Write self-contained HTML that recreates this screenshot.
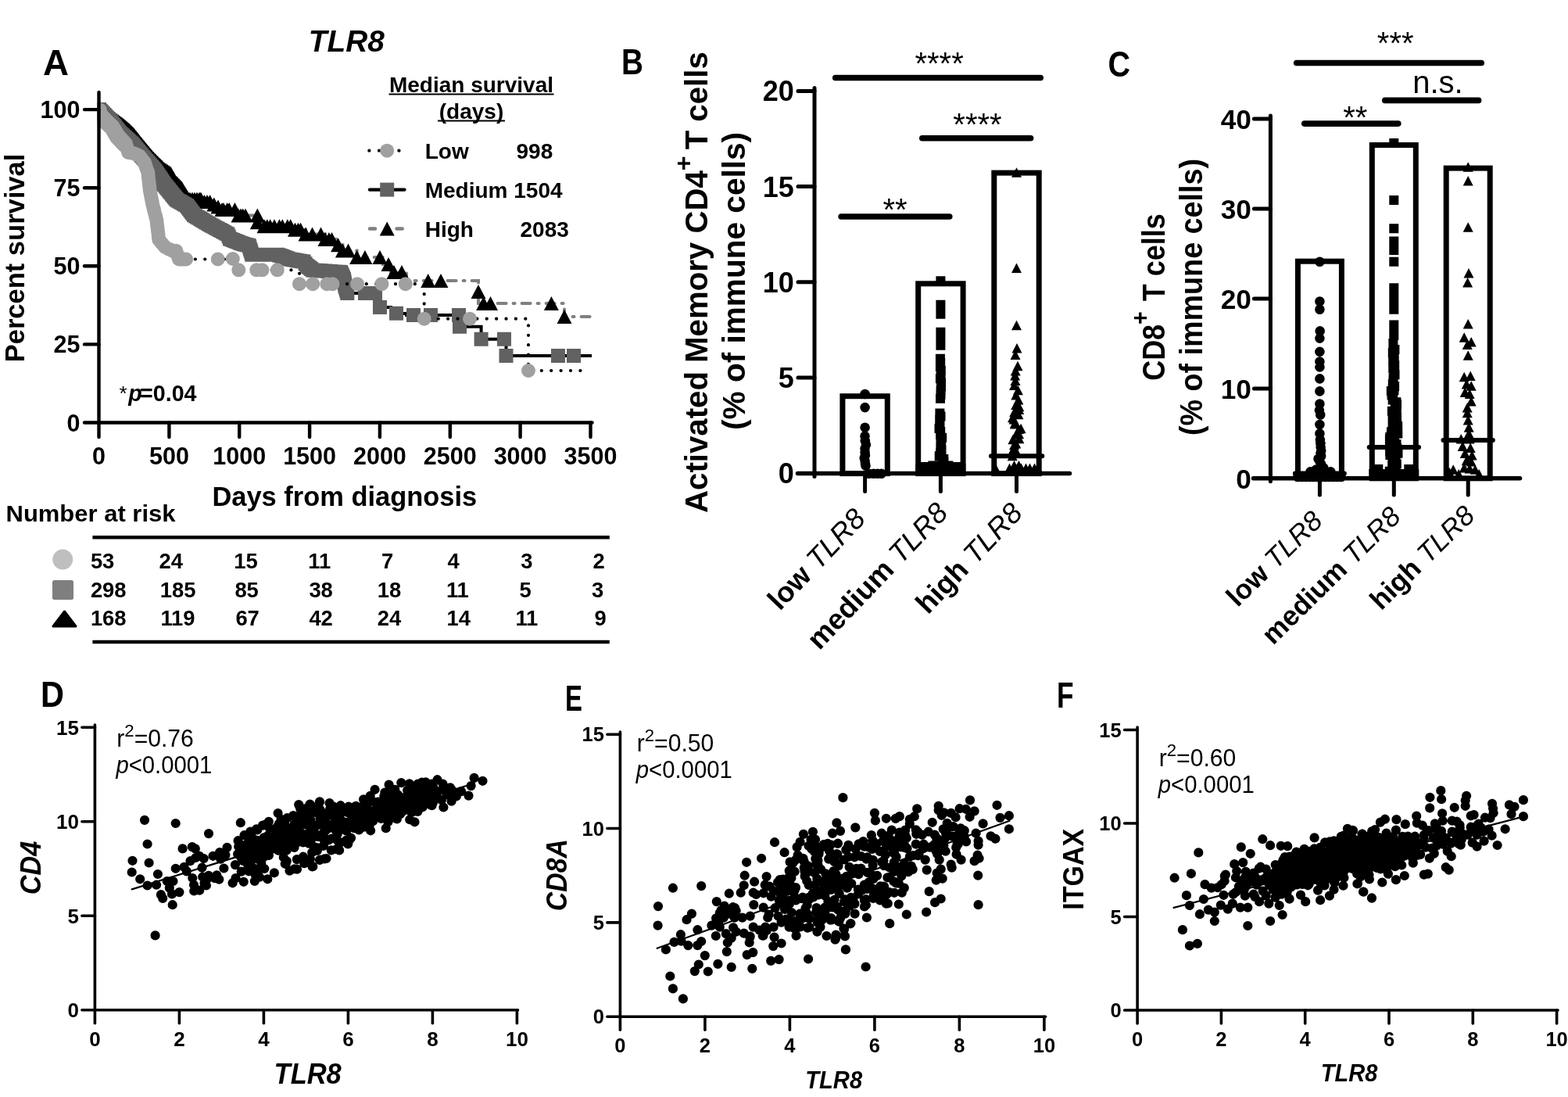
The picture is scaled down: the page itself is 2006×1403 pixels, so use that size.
<!DOCTYPE html>
<html lang="en"><head><meta charset="utf-8"><title>TLR8 survival and immune correlation figure</title>
<style>
html,body{margin:0;padding:0;background:#fff;}
body{width:2006px;height:1403px;overflow:hidden;}
svg{display:block;}
text{font-family:"Liberation Sans",Arial,Helvetica,sans-serif;}
</style></head><body>
<svg xmlns="http://www.w3.org/2000/svg" width="2006" height="1403" viewBox="0 0 2006 1403">
<rect width="2006" height="1403" fill="#fff"/>
<text x="55.0" y="96.0" font-size="47" font-weight="bold" font-style="normal" text-anchor="start" fill="#000" textLength="33.0" lengthAdjust="spacingAndGlyphs">A</text>
<text x="443.3" y="66.4" font-size="38.8" font-weight="bold" font-style="italic" text-anchor="middle" fill="#000">TLR8</text>
<text x="30.9" y="330.0" font-size="34.5" font-weight="bold" font-style="normal" text-anchor="middle" fill="#000" transform="rotate(-90 30.9 330.0)">Percent survival</text>
<defs><clipPath id="clipA"><rect x="124.5" y="100" width="640" height="445"/></clipPath></defs>
<g clip-path="url(#clipA)">
<polyline points="243.0,254.6 246.0,254.6 246.0,254.6 249.0,254.6 249.0,254.6 252.0,254.6 252.0,254.6 255.0,254.6 255.0,254.6 257.0,254.6 257.0,254.6 261.5,254.6 261.5,258.0 265.0,258.0 265.0,258.0 268.6,258.0 268.6,258.0 273.8,258.0 273.8,261.4 279.0,261.4 279.0,264.5 284.0,264.5 284.0,268.0 286.0,268.0 286.0,268.0 290.6,268.0 290.6,268.0 293.2,268.0 293.2,268.0 300.4,268.0 300.4,268.0 305.0,268.0 305.0,275.6 308.0,275.6 308.0,275.6 310.7,275.6 310.7,275.6 314.0,275.6 314.0,275.6 329.3,275.6 329.3,275.6 329.3,275.6 329.3,284.2 338.0,284.2 338.0,289.2 341.8,289.2 341.8,289.2 345.7,289.2 345.7,289.2 351.0,289.2 351.0,289.2 357.4,289.2 357.4,289.2 361.3,289.2 361.3,289.2 367.8,289.2 367.8,289.2 371.7,289.2 371.7,289.2 377.5,289.2 377.5,293.8 381.4,293.8 381.4,293.8 384.6,293.8 384.6,293.8 391.0,293.8 391.0,299.6 399.5,299.6 399.5,299.6 410.5,299.6 410.5,299.6 416.0,299.6 416.0,306.0 420.9,306.0 420.9,306.0 424.5,306.0 424.5,306.0 432.6,306.0 432.6,313.3 438.4,313.3 438.4,320.4 445.5,320.4 445.5,320.4 456.6,320.4 456.6,328.9 466.9,328.9 466.9,328.9 486.0,328.9 486.0,328.9 490.0,328.9 490.0,338.0 497.0,338.0 500.0,338.0 500.0,348.0 514.0,348.0 520.0,348.0 520.0,359.0 612.0,359.0 612.0,388.0 722.0,388.0 722.0,405.0 757.0,405.0" fill="none" stroke="#808080" stroke-width="4" stroke-linecap="round" stroke-linejoin="miter" stroke-dasharray="11 9 2 9"/>
<path d="M127.0 131.0l9.5 18h-19zM129.2 132.2l9.5 18h-19zM131.3 133.3l9.5 18h-19zM133.5 134.5l9.5 18h-19zM135.7 135.7l9.5 18h-19zM137.8 136.8l9.5 18h-19zM140.0 138.0l9.5 18h-19zM141.9 139.3l9.5 18h-19zM143.7 140.7l9.5 18h-19zM145.6 142.0l9.5 18h-19zM147.4 143.4l9.5 18h-19zM149.3 144.7l9.5 18h-19zM151.2 146.0l9.5 18h-19zM153.0 147.4l9.5 18h-19zM154.9 148.7l9.5 18h-19zM156.7 150.1l9.5 18h-19zM158.6 151.4l9.5 18h-19zM160.7 153.2l9.5 18h-19zM162.8 155.0l9.5 18h-19zM164.9 156.8l9.5 18h-19zM166.4 158.4l9.5 18h-19zM168.0 159.9l9.5 18h-19zM169.6 161.5l9.5 18h-19zM171.1 163.1l9.5 18h-19zM172.6 165.0l9.5 18h-19zM174.1 166.8l9.5 18h-19zM175.6 168.7l9.5 18h-19zM177.1 170.6l9.5 18h-19zM178.5 172.4l9.5 18h-19zM180.0 174.3l9.5 18h-19zM181.5 176.1l9.5 18h-19zM183.0 178.0l9.5 18h-19zM184.5 179.8l9.5 18h-19zM185.9 181.5l9.5 18h-19zM187.4 183.3l9.5 18h-19zM188.8 185.1l9.5 18h-19zM190.3 186.8l9.5 18h-19zM191.8 188.6l9.5 18h-19zM193.2 190.3l9.5 18h-19zM194.7 192.1l9.5 18h-19zM196.3 193.7l9.5 18h-19zM197.8 195.2l9.5 18h-19zM199.4 196.8l9.5 18h-19zM201.0 198.4l9.5 18h-19zM202.5 199.9l9.5 18h-19zM204.1 201.5l9.5 18h-19zM205.7 203.1l9.5 18h-19zM207.2 204.6l9.5 18h-19zM208.8 206.2l9.5 18h-19zM210.7 207.5l9.5 18h-19zM212.6 208.7l9.5 18h-19zM214.4 210.0l9.5 18h-19zM216.3 211.2l9.5 18h-19zM218.2 212.5l9.5 18h-19zM219.5 214.7l9.5 18h-19zM220.7 216.9l9.5 18h-19zM222.0 219.1l9.5 18h-19zM223.2 221.3l9.5 18h-19zM224.5 223.5l9.5 18h-19zM226.1 225.1l9.5 18h-19zM227.6 226.6l9.5 18h-19zM229.2 228.2l9.5 18h-19zM230.7 229.7l9.5 18h-19zM232.3 231.3l9.5 18h-19zM233.5 233.3l9.5 18h-19zM234.8 235.4l9.5 18h-19zM236.0 237.4l9.5 18h-19zM237.3 239.4l9.5 18h-19zM238.5 241.4l9.5 18h-19zM239.8 243.5l9.5 18h-19zM241.0 245.5l9.5 18h-19zM243.0 245.6l9.5 18h-19zM246.0 245.6l9.5 18h-19zM249.0 245.6l9.5 18h-19zM252.0 245.6l9.5 18h-19zM255.0 245.6l9.5 18h-19zM257.0 245.6l9.5 18h-19zM261.5 249.0l9.5 18h-19zM265.0 249.0l9.5 18h-19zM268.6 249.0l9.5 18h-19zM273.8 252.4l9.5 18h-19zM279.0 255.5l9.5 18h-19zM284.0 259.0l9.5 18h-19zM286.0 259.0l9.5 18h-19zM290.6 259.0l9.5 18h-19zM293.2 259.0l9.5 18h-19zM300.4 259.0l9.5 18h-19zM305.0 266.6l9.5 18h-19zM308.0 266.6l9.5 18h-19zM310.7 266.6l9.5 18h-19zM314.0 266.6l9.5 18h-19zM329.3 266.6l9.5 18h-19zM329.3 275.2l9.5 18h-19zM338.0 280.2l9.5 18h-19zM341.8 280.2l9.5 18h-19zM345.7 280.2l9.5 18h-19zM351.0 280.2l9.5 18h-19zM357.4 280.2l9.5 18h-19zM361.3 280.2l9.5 18h-19zM367.8 280.2l9.5 18h-19zM371.7 280.2l9.5 18h-19zM377.5 284.8l9.5 18h-19zM381.4 284.8l9.5 18h-19zM384.6 284.8l9.5 18h-19zM391.0 290.6l9.5 18h-19zM399.5 290.6l9.5 18h-19zM410.5 290.6l9.5 18h-19zM416.0 297.0l9.5 18h-19zM420.9 297.0l9.5 18h-19zM424.5 297.0l9.5 18h-19zM432.6 304.3l9.5 18h-19zM438.4 311.4l9.5 18h-19zM445.5 311.4l9.5 18h-19zM456.6 319.9l9.5 18h-19zM466.9 319.9l9.5 18h-19zM486.0 319.9l9.5 18h-19zM497.0 329.0l9.5 18h-19zM504.0 339.0l9.5 18h-19zM514.0 339.0l9.5 18h-19zM547.7 350.0l9.5 18h-19zM564.0 350.0l9.5 18h-19zM612.0 364.0l9.5 18h-19zM618.6 379.0l9.5 18h-19zM627.5 379.0l9.5 18h-19zM705.4 379.0l9.5 18h-19zM722.0 396.0l9.5 18h-19z" fill="#000"/>
<polyline points="444.3,375.0 486.0,375.0 486.0,393.0 500.0,393.0 500.0,401.0 520.0,401.0 520.0,403.0 588.0,403.0 588.0,417.7 615.6,417.7 615.6,433.7 647.5,433.7 647.5,455.0 757.0,455.0" fill="none" stroke="#000" stroke-width="4" stroke-linecap="butt" stroke-linejoin="miter"/>
<path d="M118.0 131.0h18v18h-18zM119.7 132.8h18v18h-18zM121.3 134.5h18v18h-18zM123.0 136.2h18v18h-18zM124.7 138.0h18v18h-18zM126.3 139.8h18v18h-18zM128.0 141.5h18v18h-18zM129.6 143.2h18v18h-18zM131.3 145.0h18v18h-18zM132.7 146.7h18v18h-18zM134.1 148.5h18v18h-18zM135.5 150.2h18v18h-18zM136.9 152.0h18v18h-18zM138.2 153.7h18v18h-18zM139.6 155.5h18v18h-18zM141.0 157.2h18v18h-18zM142.4 159.0h18v18h-18zM143.8 160.7h18v18h-18zM145.5 162.3h18v18h-18zM147.3 163.8h18v18h-18zM149.0 165.4h18v18h-18zM150.8 167.0h18v18h-18zM152.5 168.5h18v18h-18zM154.3 170.1h18v18h-18zM156.0 171.7h18v18h-18zM157.8 173.2h18v18h-18zM159.5 174.8h18v18h-18zM160.9 176.5h18v18h-18zM162.4 178.2h18v18h-18zM163.8 179.9h18v18h-18zM165.2 181.6h18v18h-18zM166.6 183.3h18v18h-18zM168.1 185.1h18v18h-18zM169.5 186.8h18v18h-18zM170.9 188.5h18v18h-18zM172.3 190.2h18v18h-18zM173.8 191.9h18v18h-18zM175.2 193.6h18v18h-18zM176.8 195.3h18v18h-18zM178.3 197.1h18v18h-18zM179.9 198.8h18v18h-18zM181.5 200.6h18v18h-18zM183.0 202.3h18v18h-18zM184.6 204.1h18v18h-18zM186.2 205.8h18v18h-18zM187.7 207.6h18v18h-18zM189.3 209.3h18v18h-18zM190.6 211.3h18v18h-18zM191.9 213.2h18v18h-18zM193.2 215.2h18v18h-18zM194.5 217.2h18v18h-18zM195.8 219.1h18v18h-18zM197.1 221.1h18v18h-18zM198.4 223.1h18v18h-18zM199.7 225.0h18v18h-18zM201.0 227.0h18v18h-18zM202.5 228.8h18v18h-18zM203.9 230.5h18v18h-18zM205.4 232.3h18v18h-18zM206.8 234.1h18v18h-18zM208.3 235.9h18v18h-18zM209.7 237.6h18v18h-18zM211.2 239.4h18v18h-18zM212.6 241.2h18v18h-18zM214.1 243.0h18v18h-18zM215.5 244.7h18v18h-18zM217.0 246.5h18v18h-18zM219.2 247.8h18v18h-18zM221.3 249.0h18v18h-18zM223.5 250.2h18v18h-18zM225.7 251.5h18v18h-18zM227.8 252.8h18v18h-18zM230.0 254.0h18v18h-18zM231.5 256.0h18v18h-18zM233.0 258.0h18v18h-18zM234.5 260.0h18v18h-18zM236.0 262.0h18v18h-18zM237.5 264.0h18v18h-18zM239.0 266.0h18v18h-18zM241.0 267.2h18v18h-18zM243.0 268.4h18v18h-18zM245.0 269.6h18v18h-18zM247.0 270.8h18v18h-18zM249.0 272.0h18v18h-18zM251.0 273.2h18v18h-18zM253.0 274.4h18v18h-18zM255.0 275.6h18v18h-18zM257.0 276.8h18v18h-18zM259.0 278.0h18v18h-18zM261.2 279.2h18v18h-18zM263.3 280.3h18v18h-18zM265.5 281.5h18v18h-18zM267.7 282.7h18v18h-18zM269.8 283.8h18v18h-18zM272.0 285.0h18v18h-18zM274.1 286.1h18v18h-18zM276.2 287.2h18v18h-18zM278.2 288.3h18v18h-18zM280.3 289.4h18v18h-18zM282.4 290.5h18v18h-18zM283.7 293.5h18v18h-18zM285.0 296.5h18v18h-18zM287.1 297.3h18v18h-18zM289.2 298.1h18v18h-18zM291.3 298.9h18v18h-18zM293.4 299.8h18v18h-18zM295.5 300.6h18v18h-18zM297.6 301.4h18v18h-18zM299.7 302.2h18v18h-18zM301.8 303.0h18v18h-18zM304.4 303.7h18v18h-18zM307.0 304.3h18v18h-18zM309.6 305.0h18v18h-18zM310.3 307.3h18v18h-18zM311.1 309.7h18v18h-18zM311.8 312.0h18v18h-18zM312.6 314.4h18v18h-18zM313.3 316.7h18v18h-18zM315.6 316.7h18v18h-18zM318.0 316.7h18v18h-18zM320.3 316.7h18v18h-18zM322.6 316.7h18v18h-18zM325.0 316.7h18v18h-18zM327.3 316.7h18v18h-18zM329.6 316.7h18v18h-18zM332.0 316.7h18v18h-18zM334.3 316.7h18v18h-18zM336.7 316.7h18v18h-18zM339.0 316.7h18v18h-18zM341.3 316.7h18v18h-18zM343.7 316.7h18v18h-18zM346.0 316.7h18v18h-18zM348.2 317.5h18v18h-18zM350.4 318.3h18v18h-18zM352.6 319.1h18v18h-18zM354.8 320.0h18v18h-18zM357.0 320.8h18v18h-18zM359.2 321.6h18v18h-18zM361.4 322.4h18v18h-18zM363.7 322.8h18v18h-18zM365.9 323.2h18v18h-18zM368.2 323.6h18v18h-18zM370.5 324.0h18v18h-18zM372.8 324.4h18v18h-18zM375.1 324.8h18v18h-18zM377.3 325.2h18v18h-18zM379.6 325.6h18v18h-18zM381.6 328.2h18v18h-18zM383.5 330.8h18v18h-18zM385.4 332.2h18v18h-18zM387.2 333.6h18v18h-18zM389.1 335.1h18v18h-18zM391.0 336.5h18v18h-18zM393.2 336.7h18v18h-18zM395.5 336.8h18v18h-18zM397.8 337.0h18v18h-18zM400.0 337.1h18v18h-18zM402.2 337.3h18v18h-18zM404.5 337.4h18v18h-18zM406.8 337.6h18v18h-18zM409.0 337.8h18v18h-18zM411.2 337.9h18v18h-18zM413.5 338.1h18v18h-18zM415.8 338.2h18v18h-18zM418.0 338.4h18v18h-18zM420.2 338.5h18v18h-18zM422.5 338.7h18v18h-18zM424.8 338.8h18v18h-18zM427.0 339.0h18v18h-18zM428.0 341.2h18v18h-18zM429.0 343.5h18v18h-18zM430.0 345.8h18v18h-18zM431.0 348.0h18v18h-18zM431.4 350.2h18v18h-18zM431.8 352.5h18v18h-18zM432.1 354.8h18v18h-18zM432.5 357.0h18v18h-18zM433.2 359.2h18v18h-18zM433.9 361.5h18v18h-18zM434.6 363.8h18v18h-18zM435.3 366.0h18v18h-18zM458.0 366.0h18v18h-18zM471.0 366.0h18v18h-18zM477.0 384.0h18v18h-18zM498.0 391.8h18v18h-18zM520.0 394.0h18v18h-18zM542.0 394.0h18v18h-18zM578.0 394.0h18v18h-18zM579.0 408.7h18v18h-18zM606.6 424.7h18v18h-18zM636.0 424.7h18v18h-18zM638.5 446.0h18v18h-18zM705.0 446.0h18v18h-18zM725.0 446.0h18v18h-18z" fill="#616161"/>
<polyline points="237.4,331.5 302.0,331.5 302.0,345.3 378.0,345.3 383.0,349.5 383.0,363.2 542.7,363.2 542.7,407.7 676.0,407.7 676.0,474.0 752.0,474.0" fill="none" stroke="#000" stroke-width="4.2" stroke-linecap="round" stroke-linejoin="round" stroke-dasharray="0.1 12.3"/>
<path d="M118.6 140.4a9 9 0 1 0 18 0a9 9 0 1 0 -18 0zM119.3 143.2a9 9 0 1 0 18 0a9 9 0 1 0 -18 0zM120.0 146.0a9 9 0 1 0 18 0a9 9 0 1 0 -18 0zM121.6 147.7a9 9 0 1 0 18 0a9 9 0 1 0 -18 0zM123.2 149.4a9 9 0 1 0 18 0a9 9 0 1 0 -18 0zM124.8 151.2a9 9 0 1 0 18 0a9 9 0 1 0 -18 0zM126.4 152.9a9 9 0 1 0 18 0a9 9 0 1 0 -18 0zM128.2 154.6a9 9 0 1 0 18 0a9 9 0 1 0 -18 0zM130.0 156.3a9 9 0 1 0 18 0a9 9 0 1 0 -18 0zM131.9 158.1a9 9 0 1 0 18 0a9 9 0 1 0 -18 0zM133.7 159.8a9 9 0 1 0 18 0a9 9 0 1 0 -18 0zM135.5 161.5a9 9 0 1 0 18 0a9 9 0 1 0 -18 0zM136.7 163.5a9 9 0 1 0 18 0a9 9 0 1 0 -18 0zM137.8 165.4a9 9 0 1 0 18 0a9 9 0 1 0 -18 0zM139.0 167.4a9 9 0 1 0 18 0a9 9 0 1 0 -18 0zM140.2 169.4a9 9 0 1 0 18 0a9 9 0 1 0 -18 0zM141.3 171.3a9 9 0 1 0 18 0a9 9 0 1 0 -18 0zM142.5 173.3a9 9 0 1 0 18 0a9 9 0 1 0 -18 0zM144.1 175.0a9 9 0 1 0 18 0a9 9 0 1 0 -18 0zM145.7 176.7a9 9 0 1 0 18 0a9 9 0 1 0 -18 0zM147.2 178.4a9 9 0 1 0 18 0a9 9 0 1 0 -18 0zM148.8 180.1a9 9 0 1 0 18 0a9 9 0 1 0 -18 0zM150.4 181.8a9 9 0 1 0 18 0a9 9 0 1 0 -18 0zM152.0 183.5a9 9 0 1 0 18 0a9 9 0 1 0 -18 0zM152.6 185.8a9 9 0 1 0 18 0a9 9 0 1 0 -18 0zM153.2 188.1a9 9 0 1 0 18 0a9 9 0 1 0 -18 0zM153.9 190.4a9 9 0 1 0 18 0a9 9 0 1 0 -18 0zM154.5 192.7a9 9 0 1 0 18 0a9 9 0 1 0 -18 0zM155.1 195.0a9 9 0 1 0 18 0a9 9 0 1 0 -18 0zM157.4 195.3a9 9 0 1 0 18 0a9 9 0 1 0 -18 0zM159.7 195.7a9 9 0 1 0 18 0a9 9 0 1 0 -18 0zM162.0 196.0a9 9 0 1 0 18 0a9 9 0 1 0 -18 0zM164.4 197.1a9 9 0 1 0 18 0a9 9 0 1 0 -18 0zM166.8 198.1a9 9 0 1 0 18 0a9 9 0 1 0 -18 0zM169.2 199.2a9 9 0 1 0 18 0a9 9 0 1 0 -18 0zM170.8 201.1a9 9 0 1 0 18 0a9 9 0 1 0 -18 0zM172.3 203.1a9 9 0 1 0 18 0a9 9 0 1 0 -18 0zM173.9 205.1a9 9 0 1 0 18 0a9 9 0 1 0 -18 0zM175.5 207.0a9 9 0 1 0 18 0a9 9 0 1 0 -18 0zM176.3 209.2a9 9 0 1 0 18 0a9 9 0 1 0 -18 0zM177.1 211.4a9 9 0 1 0 18 0a9 9 0 1 0 -18 0zM177.8 213.7a9 9 0 1 0 18 0a9 9 0 1 0 -18 0zM178.6 215.9a9 9 0 1 0 18 0a9 9 0 1 0 -18 0zM179.4 218.1a9 9 0 1 0 18 0a9 9 0 1 0 -18 0zM180.2 220.3a9 9 0 1 0 18 0a9 9 0 1 0 -18 0zM180.5 222.7a9 9 0 1 0 18 0a9 9 0 1 0 -18 0zM180.7 225.0a9 9 0 1 0 18 0a9 9 0 1 0 -18 0zM181.0 227.4a9 9 0 1 0 18 0a9 9 0 1 0 -18 0zM181.2 229.7a9 9 0 1 0 18 0a9 9 0 1 0 -18 0zM181.5 232.1a9 9 0 1 0 18 0a9 9 0 1 0 -18 0zM181.8 234.5a9 9 0 1 0 18 0a9 9 0 1 0 -18 0zM182.0 236.8a9 9 0 1 0 18 0a9 9 0 1 0 -18 0zM182.3 239.2a9 9 0 1 0 18 0a9 9 0 1 0 -18 0zM182.5 241.5a9 9 0 1 0 18 0a9 9 0 1 0 -18 0zM182.8 243.9a9 9 0 1 0 18 0a9 9 0 1 0 -18 0zM183.3 246.2a9 9 0 1 0 18 0a9 9 0 1 0 -18 0zM183.7 248.6a9 9 0 1 0 18 0a9 9 0 1 0 -18 0zM184.2 250.9a9 9 0 1 0 18 0a9 9 0 1 0 -18 0zM184.7 253.3a9 9 0 1 0 18 0a9 9 0 1 0 -18 0zM185.1 255.7a9 9 0 1 0 18 0a9 9 0 1 0 -18 0zM185.6 258.0a9 9 0 1 0 18 0a9 9 0 1 0 -18 0zM186.0 260.3a9 9 0 1 0 18 0a9 9 0 1 0 -18 0zM186.5 262.7a9 9 0 1 0 18 0a9 9 0 1 0 -18 0zM187.1 264.9a9 9 0 1 0 18 0a9 9 0 1 0 -18 0zM187.7 267.2a9 9 0 1 0 18 0a9 9 0 1 0 -18 0zM188.3 269.4a9 9 0 1 0 18 0a9 9 0 1 0 -18 0zM188.8 271.7a9 9 0 1 0 18 0a9 9 0 1 0 -18 0zM189.4 273.9a9 9 0 1 0 18 0a9 9 0 1 0 -18 0zM190.0 276.2a9 9 0 1 0 18 0a9 9 0 1 0 -18 0zM190.6 278.4a9 9 0 1 0 18 0a9 9 0 1 0 -18 0zM191.2 280.7a9 9 0 1 0 18 0a9 9 0 1 0 -18 0zM191.5 283.1a9 9 0 1 0 18 0a9 9 0 1 0 -18 0zM191.8 285.4a9 9 0 1 0 18 0a9 9 0 1 0 -18 0zM192.0 287.8a9 9 0 1 0 18 0a9 9 0 1 0 -18 0zM192.3 290.1a9 9 0 1 0 18 0a9 9 0 1 0 -18 0zM192.6 292.5a9 9 0 1 0 18 0a9 9 0 1 0 -18 0zM192.9 294.8a9 9 0 1 0 18 0a9 9 0 1 0 -18 0zM193.2 297.2a9 9 0 1 0 18 0a9 9 0 1 0 -18 0zM193.5 299.5a9 9 0 1 0 18 0a9 9 0 1 0 -18 0zM193.7 301.9a9 9 0 1 0 18 0a9 9 0 1 0 -18 0zM194.0 304.2a9 9 0 1 0 18 0a9 9 0 1 0 -18 0zM194.3 306.6a9 9 0 1 0 18 0a9 9 0 1 0 -18 0zM195.9 308.5a9 9 0 1 0 18 0a9 9 0 1 0 -18 0zM197.4 310.4a9 9 0 1 0 18 0a9 9 0 1 0 -18 0zM199.0 312.2a9 9 0 1 0 18 0a9 9 0 1 0 -18 0zM200.5 314.1a9 9 0 1 0 18 0a9 9 0 1 0 -18 0zM202.1 316.0a9 9 0 1 0 18 0a9 9 0 1 0 -18 0zM204.4 317.2a9 9 0 1 0 18 0a9 9 0 1 0 -18 0zM206.8 318.4a9 9 0 1 0 18 0a9 9 0 1 0 -18 0zM209.2 319.5a9 9 0 1 0 18 0a9 9 0 1 0 -18 0zM211.5 320.7a9 9 0 1 0 18 0a9 9 0 1 0 -18 0zM213.8 320.7a9 9 0 1 0 18 0a9 9 0 1 0 -18 0zM216.2 320.7a9 9 0 1 0 18 0a9 9 0 1 0 -18 0zM217.0 322.9a9 9 0 1 0 18 0a9 9 0 1 0 -18 0zM217.7 325.0a9 9 0 1 0 18 0a9 9 0 1 0 -18 0zM218.5 327.2a9 9 0 1 0 18 0a9 9 0 1 0 -18 0zM219.2 329.3a9 9 0 1 0 18 0a9 9 0 1 0 -18 0zM220.0 331.5a9 9 0 1 0 18 0a9 9 0 1 0 -18 0zM222.3 331.5a9 9 0 1 0 18 0a9 9 0 1 0 -18 0zM224.6 331.5a9 9 0 1 0 18 0a9 9 0 1 0 -18 0zM226.8 331.5a9 9 0 1 0 18 0a9 9 0 1 0 -18 0zM229.1 331.5a9 9 0 1 0 18 0a9 9 0 1 0 -18 0zM116.1 142.9a9 9 0 1 0 18 0a9 9 0 1 0 -18 0zM117.5 148.5a9 9 0 1 0 18 0a9 9 0 1 0 -18 0zM119.6 150.8a9 9 0 1 0 18 0a9 9 0 1 0 -18 0zM121.8 153.1a9 9 0 1 0 18 0a9 9 0 1 0 -18 0zM123.9 155.4a9 9 0 1 0 18 0a9 9 0 1 0 -18 0zM126.2 157.6a9 9 0 1 0 18 0a9 9 0 1 0 -18 0zM128.4 159.7a9 9 0 1 0 18 0a9 9 0 1 0 -18 0zM130.7 161.8a9 9 0 1 0 18 0a9 9 0 1 0 -18 0zM133.0 164.0a9 9 0 1 0 18 0a9 9 0 1 0 -18 0zM134.8 166.9a9 9 0 1 0 18 0a9 9 0 1 0 -18 0zM136.5 169.9a9 9 0 1 0 18 0a9 9 0 1 0 -18 0zM138.2 172.9a9 9 0 1 0 18 0a9 9 0 1 0 -18 0zM140.0 175.8a9 9 0 1 0 18 0a9 9 0 1 0 -18 0zM142.4 178.4a9 9 0 1 0 18 0a9 9 0 1 0 -18 0zM144.8 180.9a9 9 0 1 0 18 0a9 9 0 1 0 -18 0zM147.1 183.4a9 9 0 1 0 18 0a9 9 0 1 0 -18 0zM149.5 186.0a9 9 0 1 0 18 0a9 9 0 1 0 -18 0zM269.7 331.5a9 9 0 1 0 18 0a9 9 0 1 0 -18 0zM288.8 331.0a9 9 0 1 0 18 0a9 9 0 1 0 -18 0zM296.3 345.3a9 9 0 1 0 18 0a9 9 0 1 0 -18 0zM319.2 345.3a9 9 0 1 0 18 0a9 9 0 1 0 -18 0zM326.4 345.3a9 9 0 1 0 18 0a9 9 0 1 0 -18 0zM345.8 345.3a9 9 0 1 0 18 0a9 9 0 1 0 -18 0zM374.0 363.2a9 9 0 1 0 18 0a9 9 0 1 0 -18 0zM391.2 363.2a9 9 0 1 0 18 0a9 9 0 1 0 -18 0zM409.3 363.2a9 9 0 1 0 18 0a9 9 0 1 0 -18 0zM416.4 363.2a9 9 0 1 0 18 0a9 9 0 1 0 -18 0zM448.0 363.2a9 9 0 1 0 18 0a9 9 0 1 0 -18 0zM479.4 363.2a9 9 0 1 0 18 0a9 9 0 1 0 -18 0zM509.8 363.2a9 9 0 1 0 18 0a9 9 0 1 0 -18 0zM533.7 407.7a9 9 0 1 0 18 0a9 9 0 1 0 -18 0zM592.0 407.7a9 9 0 1 0 18 0a9 9 0 1 0 -18 0zM667.0 474.0a9 9 0 1 0 18 0a9 9 0 1 0 -18 0z" fill="#a0a0a0"/>
</g>
<line x1="126.5" y1="118.0" x2="126.5" y2="559.0" stroke="#000" stroke-width="4.4" stroke-linecap="round"/>
<line x1="108.0" y1="540.5" x2="757.5" y2="540.5" stroke="#000" stroke-width="4.4" stroke-linecap="round"/>
<line x1="108.0" y1="440.4" x2="126.5" y2="440.4" stroke="#000" stroke-width="4.4" stroke-linecap="round"/>
<line x1="108.0" y1="340.3" x2="126.5" y2="340.3" stroke="#000" stroke-width="4.4" stroke-linecap="round"/>
<line x1="108.0" y1="240.2" x2="126.5" y2="240.2" stroke="#000" stroke-width="4.4" stroke-linecap="round"/>
<line x1="108.0" y1="140.1" x2="126.5" y2="140.1" stroke="#000" stroke-width="4.4" stroke-linecap="round"/>
<text x="102.5" y="551.5" font-size="30.5" font-weight="bold" font-style="normal" text-anchor="end" fill="#000">0</text>
<text x="102.5" y="451.4" font-size="30.5" font-weight="bold" font-style="normal" text-anchor="end" fill="#000">25</text>
<text x="102.5" y="351.3" font-size="30.5" font-weight="bold" font-style="normal" text-anchor="end" fill="#000">50</text>
<text x="102.5" y="251.2" font-size="30.5" font-weight="bold" font-style="normal" text-anchor="end" fill="#000">75</text>
<text x="102.5" y="151.1" font-size="30.5" font-weight="bold" font-style="normal" text-anchor="end" fill="#000">100</text>
<text x="126.5" y="593.6" font-size="30.5" font-weight="bold" font-style="normal" text-anchor="middle" fill="#000">0</text>
<line x1="216.4" y1="540.5" x2="216.4" y2="559.0" stroke="#000" stroke-width="4.4" stroke-linecap="round"/>
<text x="216.4" y="593.6" font-size="30.5" font-weight="bold" font-style="normal" text-anchor="middle" fill="#000">500</text>
<line x1="306.2" y1="540.5" x2="306.2" y2="559.0" stroke="#000" stroke-width="4.4" stroke-linecap="round"/>
<text x="306.2" y="593.6" font-size="30.5" font-weight="bold" font-style="normal" text-anchor="middle" fill="#000">1000</text>
<line x1="396.1" y1="540.5" x2="396.1" y2="559.0" stroke="#000" stroke-width="4.4" stroke-linecap="round"/>
<text x="396.1" y="593.6" font-size="30.5" font-weight="bold" font-style="normal" text-anchor="middle" fill="#000">1500</text>
<line x1="485.9" y1="540.5" x2="485.9" y2="559.0" stroke="#000" stroke-width="4.4" stroke-linecap="round"/>
<text x="485.9" y="593.6" font-size="30.5" font-weight="bold" font-style="normal" text-anchor="middle" fill="#000">2000</text>
<line x1="575.8" y1="540.5" x2="575.8" y2="559.0" stroke="#000" stroke-width="4.4" stroke-linecap="round"/>
<text x="575.8" y="593.6" font-size="30.5" font-weight="bold" font-style="normal" text-anchor="middle" fill="#000">2500</text>
<line x1="665.6" y1="540.5" x2="665.6" y2="559.0" stroke="#000" stroke-width="4.4" stroke-linecap="round"/>
<text x="665.6" y="593.6" font-size="30.5" font-weight="bold" font-style="normal" text-anchor="middle" fill="#000">3000</text>
<line x1="755.5" y1="540.5" x2="755.5" y2="559.0" stroke="#000" stroke-width="4.4" stroke-linecap="round"/>
<text x="755.5" y="593.6" font-size="30.5" font-weight="bold" font-style="normal" text-anchor="middle" fill="#000">3500</text>
<text x="440.8" y="646.8" font-size="34.45" font-weight="bold" font-style="normal" text-anchor="middle" fill="#000">Days from diagnosis</text>
<text x="152.5" y="513.0" font-size="28.6" font-weight="bold" font-style="normal" text-anchor="start" fill="#000"><tspan font-weight="normal" font-size="26" dy="-1">*</tspan><tspan font-style="italic" dy="1" dx="1.5">p</tspan><tspan dx="-2.5">=0.04</tspan></text>
<text x="603.0" y="118.0" font-size="28" font-weight="bold" font-style="normal" text-anchor="middle" fill="#000">Median survival</text>
<line x1="497.5" y1="120.6" x2="708.5" y2="120.6" stroke="#000" stroke-width="2" stroke-linecap="butt"/>
<text x="603.0" y="151.8" font-size="28" font-weight="bold" font-style="normal" text-anchor="middle" fill="#000">(days)</text>
<line x1="560.0" y1="154.4" x2="646.0" y2="154.4" stroke="#000" stroke-width="2" stroke-linecap="butt"/>
<polyline points="472.3,192.7 519.0,192.7" fill="none" stroke="#000" stroke-width="4.2" stroke-linecap="round" stroke-linejoin="miter" stroke-dasharray="0.1 12.6"/>
<path d="M486.2 192.7a9 9 0 1 0 18 0a9 9 0 1 0 -18 0z" fill="#a0a0a0"/>
<text x="543.7" y="202.7" font-size="28" font-weight="bold" font-style="normal" text-anchor="start" fill="#000">Low</text>
<text x="660.5" y="202.7" font-size="28" font-weight="bold" font-style="normal" text-anchor="start" fill="#000">998</text>
<line x1="473.0" y1="242.6" x2="517.4" y2="242.6" stroke="#000" stroke-width="4.4" stroke-linecap="round"/>
<path d="M486.2 233.6h18v18h-18z" fill="#616161"/>
<text x="543.7" y="252.6" font-size="28" font-weight="bold" font-style="normal" text-anchor="start" fill="#000">Medium 1504</text>
<line x1="473.0" y1="292.5" x2="480.0" y2="292.5" stroke="#808080" stroke-width="4.4" stroke-linecap="round"/>
<line x1="507.5" y1="292.5" x2="514.7" y2="292.5" stroke="#808080" stroke-width="4.4" stroke-linecap="round"/>
<path d="M495.2 283.5l9.5 18h-19z" fill="#000"/>
<text x="543.7" y="302.5" font-size="28" font-weight="bold" font-style="normal" text-anchor="start" fill="#000">High</text>
<text x="665.5" y="302.5" font-size="28" font-weight="bold" font-style="normal" text-anchor="start" fill="#000">2083</text>
<text x="7.5" y="667.0" font-size="30" font-weight="bold" font-style="normal" text-anchor="start" fill="#000" textLength="217.0" lengthAdjust="spacingAndGlyphs">Number at risk</text>
<line x1="118.4" y1="687.3" x2="779.8" y2="687.3" stroke="#000" stroke-width="4.4" stroke-linecap="butt"/>
<line x1="118.4" y1="821.0" x2="779.8" y2="821.0" stroke="#000" stroke-width="4.4" stroke-linecap="butt"/>
<circle cx="80.2" cy="715.6" r="13" fill="#bfbfbf"/>
<rect x="67" y="742" width="27" height="25" rx="2.5" fill="#7f7f7f"/>
<path d="M82.5 782 L97 801 L68 801 Z" fill="#000" stroke="#000" stroke-width="3" stroke-linejoin="round"/>
<text x="115.9" y="726.6" font-size="27.4" font-weight="bold" font-style="normal" text-anchor="start" fill="#000">53</text>
<text x="203.6" y="726.6" font-size="27.4" font-weight="bold" font-style="normal" text-anchor="start" fill="#000">24</text>
<text x="299.3" y="726.6" font-size="27.4" font-weight="bold" font-style="normal" text-anchor="start" fill="#000">15</text>
<text x="394.2" y="726.6" font-size="27.4" font-weight="bold" font-style="normal" text-anchor="start" fill="#000">11</text>
<text x="487.9" y="726.6" font-size="27.4" font-weight="bold" font-style="normal" text-anchor="start" fill="#000">7</text>
<text x="572.4" y="726.6" font-size="27.4" font-weight="bold" font-style="normal" text-anchor="start" fill="#000">4</text>
<text x="666.2" y="726.6" font-size="27.4" font-weight="bold" font-style="normal" text-anchor="start" fill="#000">3</text>
<text x="758.4" y="726.6" font-size="27.4" font-weight="bold" font-style="normal" text-anchor="start" fill="#000">2</text>
<text x="115.9" y="763.5" font-size="27.4" font-weight="bold" font-style="normal" text-anchor="start" fill="#000">298</text>
<text x="204.8" y="763.5" font-size="27.4" font-weight="bold" font-style="normal" text-anchor="start" fill="#000">185</text>
<text x="300.4" y="763.5" font-size="27.4" font-weight="bold" font-style="normal" text-anchor="start" fill="#000">85</text>
<text x="395.4" y="763.5" font-size="27.4" font-weight="bold" font-style="normal" text-anchor="start" fill="#000">38</text>
<text x="482.8" y="763.5" font-size="27.4" font-weight="bold" font-style="normal" text-anchor="start" fill="#000">18</text>
<text x="570.9" y="763.5" font-size="27.4" font-weight="bold" font-style="normal" text-anchor="start" fill="#000">11</text>
<text x="664.6" y="763.5" font-size="27.4" font-weight="bold" font-style="normal" text-anchor="start" fill="#000">5</text>
<text x="757.1" y="763.5" font-size="27.4" font-weight="bold" font-style="normal" text-anchor="start" fill="#000">3</text>
<text x="115.9" y="800.3" font-size="27.4" font-weight="bold" font-style="normal" text-anchor="start" fill="#000">168</text>
<text x="205.4" y="800.3" font-size="27.4" font-weight="bold" font-style="normal" text-anchor="start" fill="#000">119</text>
<text x="301.4" y="800.3" font-size="27.4" font-weight="bold" font-style="normal" text-anchor="start" fill="#000">67</text>
<text x="395.4" y="800.3" font-size="27.4" font-weight="bold" font-style="normal" text-anchor="start" fill="#000">42</text>
<text x="482.8" y="800.3" font-size="27.4" font-weight="bold" font-style="normal" text-anchor="start" fill="#000">24</text>
<text x="571.6" y="800.3" font-size="27.4" font-weight="bold" font-style="normal" text-anchor="start" fill="#000">14</text>
<text x="659.4" y="800.3" font-size="27.4" font-weight="bold" font-style="normal" text-anchor="start" fill="#000">11</text>
<text x="760.4" y="800.3" font-size="27.4" font-weight="bold" font-style="normal" text-anchor="start" fill="#000">9</text>
<text x="795.0" y="95.2" font-size="47" font-weight="bold" font-style="normal" text-anchor="start" fill="#000" textLength="28.0" lengthAdjust="spacingAndGlyphs">B</text>
<text x="904.8" y="361.1" font-size="40.2" font-weight="bold" font-style="normal" text-anchor="middle" fill="#000" transform="rotate(-90 904.8 361.1)">Activated Memory CD4<tspan font-size="32" dy="-19.5">+</tspan><tspan dy="19.5" dx="-3"> T cells</tspan></text>
<text x="953.3" y="359.4" font-size="40.6" font-weight="bold" font-style="normal" text-anchor="middle" fill="#000" transform="rotate(-90 953.3 359.4)">(% of immune cells)</text>
<rect x="1077.9" y="506.7" width="57.4" height="98.9" fill="none" stroke="#000" stroke-width="7"/>
<rect x="1174.7" y="362.8" width="57.4" height="242.8" fill="none" stroke="#000" stroke-width="7"/>
<rect x="1271.8" y="221.1" width="57.4" height="384.5" fill="none" stroke="#000" stroke-width="7"/>
<path d="M1100.3 504.0a6.3 6.3 0 1 0 12.6 0a6.3 6.3 0 1 0 -12.6 0zM1100.3 521.1a6.3 6.3 0 1 0 12.6 0a6.3 6.3 0 1 0 -12.6 0zM1100.3 546.7a6.3 6.3 0 1 0 12.6 0a6.3 6.3 0 1 0 -12.6 0zM1100.2 557.7a6.3 6.3 0 1 0 12.6 0a6.3 6.3 0 1 0 -12.6 0zM1100.5 563.9a6.3 6.3 0 1 0 12.6 0a6.3 6.3 0 1 0 -12.6 0zM1101.6 568.7a6.3 6.3 0 1 0 12.6 0a6.3 6.3 0 1 0 -12.6 0zM1100.2 573.6a6.3 6.3 0 1 0 12.6 0a6.3 6.3 0 1 0 -12.6 0zM1100.3 578.5a6.3 6.3 0 1 0 12.6 0a6.3 6.3 0 1 0 -12.6 0zM1100.6 582.2a6.3 6.3 0 1 0 12.6 0a6.3 6.3 0 1 0 -12.6 0zM1099.4 585.8a6.3 6.3 0 1 0 12.6 0a6.3 6.3 0 1 0 -12.6 0zM1100.3 589.5a6.3 6.3 0 1 0 12.6 0a6.3 6.3 0 1 0 -12.6 0zM1100.7 593.2a6.3 6.3 0 1 0 12.6 0a6.3 6.3 0 1 0 -12.6 0zM1101.2 595.6a6.3 6.3 0 1 0 12.6 0a6.3 6.3 0 1 0 -12.6 0zM1105.3 605.7a6.3 6.3 0 1 0 12.6 0a6.3 6.3 0 1 0 -12.6 0zM1111.3 605.7a6.3 6.3 0 1 0 12.6 0a6.3 6.3 0 1 0 -12.6 0zM1116.3 605.7a6.3 6.3 0 1 0 12.6 0a6.3 6.3 0 1 0 -12.6 0zM1121.3 605.7a6.3 6.3 0 1 0 12.6 0a6.3 6.3 0 1 0 -12.6 0z" fill="#000"/>
<path d="M1197.4 353.2h12v12h-12zM1197.4 383.8h12v12h-12zM1197.4 395.8h12v12h-12zM1197.4 418.8h12v12h-12zM1197.4 424.5h12v12h-12zM1197.4 430.0h12v12h-12zM1197.4 435.7h12v12h-12zM1196.9 452.7h12v12h-12zM1197.2 457.8h12v12h-12zM1196.9 462.9h12v12h-12zM1197.8 468.0h12v12h-12zM1197.6 473.1h12v12h-12zM1196.9 478.2h12v12h-12zM1198.0 483.3h12v12h-12zM1198.0 488.4h12v12h-12zM1197.6 493.5h12v12h-12zM1197.5 498.6h12v12h-12zM1197.0 503.7h12v12h-12zM1196.4 522.6h12v12h-12zM1197.5 526.5h12v12h-12zM1196.2 530.4h12v12h-12zM1196.4 534.3h12v12h-12zM1196.5 538.2h12v12h-12zM1195.5 542.1h12v12h-12zM1197.2 546.0h12v12h-12zM1197.1 549.9h12v12h-12zM1199.2 553.8h12v12h-12zM1197.5 557.7h12v12h-12zM1198.2 561.6h12v12h-12zM1197.4 565.5h12v12h-12zM1198.5 569.4h12v12h-12zM1197.1 573.3h12v12h-12zM1195.7 577.2h12v12h-12zM1201.3 581.1h12v12h-12zM1201.5 585.0h12v12h-12zM1200.3 588.9h12v12h-12zM1171.4 592.9h12v12h-12zM1175.4 592.9h12v12h-12zM1179.4 592.9h12v12h-12zM1183.4 592.9h12v12h-12zM1187.4 592.9h12v12h-12zM1191.4 592.9h12v12h-12zM1195.4 592.9h12v12h-12zM1199.4 592.9h12v12h-12zM1203.4 592.9h12v12h-12zM1207.4 592.9h12v12h-12zM1211.4 592.9h12v12h-12zM1215.4 592.9h12v12h-12zM1219.4 592.9h12v12h-12zM1223.4 592.9h12v12h-12zM1187.4 589.4h12v12h-12zM1192.4 589.4h12v12h-12zM1197.4 589.4h12v12h-12zM1202.4 589.4h12v12h-12zM1207.4 589.4h12v12h-12z" fill="#000"/>
<path d="M1300.5 214.2l6.5 12.5h-13zM1300.5 336.4l6.5 12.5h-13zM1300.5 409.7l6.5 12.5h-13zM1301.0 439.1l6.5 12.5h-13zM1299.0 447.6l6.5 12.5h-13zM1302.0 461.8l6.5 12.5h-13zM1299.2 467.9l6.5 12.5h-13zM1298.6 474.1l6.5 12.5h-13zM1299.0 480.4l6.5 12.5h-13zM1297.5 486.6l6.5 12.5h-13zM1302.4 492.8l6.5 12.5h-13zM1299.8 498.9l6.5 12.5h-13zM1302.9 505.1l6.5 12.5h-13zM1299.7 511.4l6.5 12.5h-13zM1303.7 517.5l6.5 12.5h-13zM1302.9 523.8l6.5 12.5h-13zM1297.0 530.0l6.5 12.5h-13zM1298.5 536.1l6.5 12.5h-13zM1303.4 542.4l6.5 12.5h-13zM1300.3 548.5l6.5 12.5h-13zM1303.9 554.8l6.5 12.5h-13zM1299.8 561.0l6.5 12.5h-13zM1297.5 567.1l6.5 12.5h-13zM1301.4 573.4l6.5 12.5h-13zM1303.8 513.8l6.5 12.5h-13zM1297.7 520.8l6.5 12.5h-13zM1295.5 527.8l6.5 12.5h-13zM1298.5 534.8l6.5 12.5h-13zM1306.1 541.8l6.5 12.5h-13zM1303.6 548.8l6.5 12.5h-13zM1295.9 555.8l6.5 12.5h-13zM1297.5 562.8l6.5 12.5h-13zM1295.7 569.8l6.5 12.5h-13zM1295.2 576.8l6.5 12.5h-13zM1273.5 592.6l6.5 12.5h-13zM1291.5 592.6l6.5 12.5h-13zM1296.5 592.6l6.5 12.5h-13zM1301.5 592.6l6.5 12.5h-13zM1306.5 592.6l6.5 12.5h-13zM1312.5 592.6l6.5 12.5h-13zM1317.5 592.6l6.5 12.5h-13zM1323.5 592.6l6.5 12.5h-13zM1327.5 592.6l6.5 12.5h-13zM1297.5 589.1l6.5 12.5h-13zM1303.5 589.1l6.5 12.5h-13z" fill="#000"/>
<line x1="1268.0" y1="583.3" x2="1333.3" y2="583.3" stroke="#000" stroke-width="6" stroke-linecap="round"/>
<line x1="1177.0" y1="594.0" x2="1230.0" y2="594.0" stroke="#000" stroke-width="6" stroke-linecap="round"/>
<line x1="1042.0" y1="112.5" x2="1042.0" y2="609.6" stroke="#000" stroke-width="5" stroke-linecap="round"/>
<line x1="1020.5" y1="605.6" x2="1368.5" y2="605.6" stroke="#000" stroke-width="5.5" stroke-linecap="round"/>
<line x1="1021.0" y1="116.4" x2="1042.0" y2="116.4" stroke="#000" stroke-width="5" stroke-linecap="round"/>
<text x="1015.7" y="129.3" font-size="36" font-weight="bold" font-style="normal" text-anchor="end" fill="#000">20</text>
<line x1="1021.0" y1="238.6" x2="1042.0" y2="238.6" stroke="#000" stroke-width="5" stroke-linecap="round"/>
<text x="1015.7" y="251.5" font-size="36" font-weight="bold" font-style="normal" text-anchor="end" fill="#000">15</text>
<line x1="1021.0" y1="360.8" x2="1042.0" y2="360.8" stroke="#000" stroke-width="5" stroke-linecap="round"/>
<text x="1015.7" y="373.7" font-size="36" font-weight="bold" font-style="normal" text-anchor="end" fill="#000">10</text>
<line x1="1021.0" y1="483.0" x2="1042.0" y2="483.0" stroke="#000" stroke-width="5" stroke-linecap="round"/>
<text x="1015.7" y="495.9" font-size="36" font-weight="bold" font-style="normal" text-anchor="end" fill="#000">5</text>
<text x="1015.7" y="618.3" font-size="36" font-weight="bold" font-style="normal" text-anchor="end" fill="#000">0</text>
<line x1="1106.6" y1="605.6" x2="1106.6" y2="628.6" stroke="#000" stroke-width="5" stroke-linecap="round"/>
<line x1="1203.4" y1="605.6" x2="1203.4" y2="628.6" stroke="#000" stroke-width="5" stroke-linecap="round"/>
<line x1="1300.5" y1="605.6" x2="1300.5" y2="628.6" stroke="#000" stroke-width="5" stroke-linecap="round"/>
<line x1="1068.7" y1="99.5" x2="1331.2" y2="99.5" stroke="#000" stroke-width="7.6" stroke-linecap="round"/>
<text x="1201.6" y="94.5" font-size="40" font-weight="normal" font-style="normal" text-anchor="middle" fill="#000">****</text>
<line x1="1179.8" y1="176.7" x2="1318.6" y2="176.7" stroke="#000" stroke-width="7.6" stroke-linecap="round"/>
<text x="1250.5" y="173.3" font-size="40" font-weight="normal" font-style="normal" text-anchor="middle" fill="#000">****</text>
<line x1="1076.1" y1="277.0" x2="1214.8" y2="277.0" stroke="#000" stroke-width="7.6" stroke-linecap="round"/>
<text x="1145.0" y="281.5" font-size="40" font-weight="normal" font-style="normal" text-anchor="middle" fill="#000">**</text>
<text x="1417.5" y="97.5" font-size="47" font-weight="bold" font-style="normal" text-anchor="start" fill="#000" textLength="28.5" lengthAdjust="spacingAndGlyphs">C</text>
<text x="1489.8" y="486.8" font-size="40.4" font-weight="bold" font-style="normal" text-anchor="start" fill="#000" transform="rotate(-90 1489.8 486.8)" textLength="213.5" lengthAdjust="spacingAndGlyphs">CD8<tspan font-size="32" dy="-20.5">+</tspan><tspan dy="20.5" dx="3.5"> T cells</tspan></text>
<text x="1537.7" y="557.0" font-size="40.6" font-weight="bold" font-style="normal" text-anchor="start" fill="#000" transform="rotate(-90 1537.7 557.0)" textLength="354.0" lengthAdjust="spacingAndGlyphs">(% of immune cells)</text>
<rect x="1660.4" y="334.2" width="56.0" height="277.6" fill="none" stroke="#000" stroke-width="7"/>
<rect x="1755.3" y="185.5" width="56.0" height="426.3" fill="none" stroke="#000" stroke-width="7"/>
<rect x="1850.2" y="215.1" width="56.0" height="396.7" fill="none" stroke="#000" stroke-width="7"/>
<path d="M1682.1 334.8a6.3 6.3 0 1 0 12.6 0a6.3 6.3 0 1 0 -12.6 0zM1682.1 385.5a6.3 6.3 0 1 0 12.6 0a6.3 6.3 0 1 0 -12.6 0zM1682.1 395.8a6.3 6.3 0 1 0 12.6 0a6.3 6.3 0 1 0 -12.6 0zM1682.4 423.4a6.3 6.3 0 1 0 12.6 0a6.3 6.3 0 1 0 -12.6 0zM1682.1 432.6a6.3 6.3 0 1 0 12.6 0a6.3 6.3 0 1 0 -12.6 0zM1682.1 449.9a6.3 6.3 0 1 0 12.6 0a6.3 6.3 0 1 0 -12.6 0zM1682.1 462.5a6.3 6.3 0 1 0 12.6 0a6.3 6.3 0 1 0 -12.6 0zM1682.1 469.4a6.3 6.3 0 1 0 12.6 0a6.3 6.3 0 1 0 -12.6 0zM1682.1 484.4a6.3 6.3 0 1 0 12.6 0a6.3 6.3 0 1 0 -12.6 0zM1682.1 500.4a6.3 6.3 0 1 0 12.6 0a6.3 6.3 0 1 0 -12.6 0zM1682.1 516.5a6.3 6.3 0 1 0 12.6 0a6.3 6.3 0 1 0 -12.6 0zM1681.6 524.6a6.3 6.3 0 1 0 12.6 0a6.3 6.3 0 1 0 -12.6 0zM1682.9 530.4a6.3 6.3 0 1 0 12.6 0a6.3 6.3 0 1 0 -12.6 0zM1682.1 543.0a6.3 6.3 0 1 0 12.6 0a6.3 6.3 0 1 0 -12.6 0zM1682.1 554.5a6.3 6.3 0 1 0 12.6 0a6.3 6.3 0 1 0 -12.6 0zM1682.6 562.5a6.3 6.3 0 1 0 12.6 0a6.3 6.3 0 1 0 -12.6 0zM1683.1 567.1a6.3 6.3 0 1 0 12.6 0a6.3 6.3 0 1 0 -12.6 0zM1683.3 571.8a6.3 6.3 0 1 0 12.6 0a6.3 6.3 0 1 0 -12.6 0zM1683.9 576.4a6.3 6.3 0 1 0 12.6 0a6.3 6.3 0 1 0 -12.6 0zM1683.1 579.8a6.3 6.3 0 1 0 12.6 0a6.3 6.3 0 1 0 -12.6 0zM1683.8 583.2a6.3 6.3 0 1 0 12.6 0a6.3 6.3 0 1 0 -12.6 0zM1680.2 586.7a6.3 6.3 0 1 0 12.6 0a6.3 6.3 0 1 0 -12.6 0zM1682.0 590.1a6.3 6.3 0 1 0 12.6 0a6.3 6.3 0 1 0 -12.6 0zM1683.9 593.6a6.3 6.3 0 1 0 12.6 0a6.3 6.3 0 1 0 -12.6 0zM1683.9 595.9a6.3 6.3 0 1 0 12.6 0a6.3 6.3 0 1 0 -12.6 0zM1686.9 598.2a6.3 6.3 0 1 0 12.6 0a6.3 6.3 0 1 0 -12.6 0zM1677.5 600.5a6.3 6.3 0 1 0 12.6 0a6.3 6.3 0 1 0 -12.6 0zM1681.7 601.6a6.3 6.3 0 1 0 12.6 0a6.3 6.3 0 1 0 -12.6 0zM1679.1 602.8a6.3 6.3 0 1 0 12.6 0a6.3 6.3 0 1 0 -12.6 0zM1670.1 603.4a6.3 6.3 0 1 0 12.6 0a6.3 6.3 0 1 0 -12.6 0zM1675.1 603.4a6.3 6.3 0 1 0 12.6 0a6.3 6.3 0 1 0 -12.6 0zM1689.1 603.4a6.3 6.3 0 1 0 12.6 0a6.3 6.3 0 1 0 -12.6 0zM1696.1 603.4a6.3 6.3 0 1 0 12.6 0a6.3 6.3 0 1 0 -12.6 0zM1654.1 610.0a6.3 6.3 0 1 0 12.6 0a6.3 6.3 0 1 0 -12.6 0zM1659.1 610.0a6.3 6.3 0 1 0 12.6 0a6.3 6.3 0 1 0 -12.6 0zM1664.1 610.0a6.3 6.3 0 1 0 12.6 0a6.3 6.3 0 1 0 -12.6 0zM1669.1 610.0a6.3 6.3 0 1 0 12.6 0a6.3 6.3 0 1 0 -12.6 0zM1674.1 610.0a6.3 6.3 0 1 0 12.6 0a6.3 6.3 0 1 0 -12.6 0zM1679.1 610.0a6.3 6.3 0 1 0 12.6 0a6.3 6.3 0 1 0 -12.6 0zM1684.1 610.0a6.3 6.3 0 1 0 12.6 0a6.3 6.3 0 1 0 -12.6 0zM1689.1 610.0a6.3 6.3 0 1 0 12.6 0a6.3 6.3 0 1 0 -12.6 0zM1694.1 610.0a6.3 6.3 0 1 0 12.6 0a6.3 6.3 0 1 0 -12.6 0zM1699.1 610.0a6.3 6.3 0 1 0 12.6 0a6.3 6.3 0 1 0 -12.6 0zM1704.1 610.0a6.3 6.3 0 1 0 12.6 0a6.3 6.3 0 1 0 -12.6 0zM1709.1 610.0a6.3 6.3 0 1 0 12.6 0a6.3 6.3 0 1 0 -12.6 0z" fill="#000"/>
<path d="M1777.3 177.1h12v12h-12zM1777.3 250.1h12v12h-12zM1777.3 286.3h12v12h-12zM1777.3 302.4h12v12h-12zM1777.3 313.9h12v12h-12zM1777.3 328.8h12v12h-12zM1777.3 362.2h12v12h-12zM1777.3 369.1h12v12h-12zM1777.3 376.0h12v12h-12zM1777.3 382.9h12v12h-12zM1777.3 389.8h12v12h-12zM1777.3 409.4h12v12h-12zM1777.3 416.2h12v12h-12zM1777.3 423.1h12v12h-12zM1777.4 493.3h12v12h-12zM1777.5 489.3h12v12h-12zM1775.8 485.2h12v12h-12zM1776.5 481.2h12v12h-12zM1776.6 477.2h12v12h-12zM1778.5 473.2h12v12h-12zM1778.1 469.1h12v12h-12zM1776.3 465.1h12v12h-12zM1778.2 461.1h12v12h-12zM1776.2 457.1h12v12h-12zM1777.7 453.1h12v12h-12zM1776.2 449.0h12v12h-12zM1775.8 445.0h12v12h-12zM1778.4 441.0h12v12h-12zM1776.4 437.0h12v12h-12zM1776.4 432.9h12v12h-12zM1781.2 537.0h12v12h-12zM1780.3 534.1h12v12h-12zM1775.6 531.2h12v12h-12zM1781.0 528.4h12v12h-12zM1777.6 525.5h12v12h-12zM1778.7 522.6h12v12h-12zM1774.9 519.8h12v12h-12zM1780.8 516.9h12v12h-12zM1778.8 514.0h12v12h-12zM1781.0 511.1h12v12h-12zM1780.4 508.2h12v12h-12zM1775.7 505.4h12v12h-12zM1776.2 502.5h12v12h-12zM1774.6 499.6h12v12h-12zM1774.5 496.8h12v12h-12zM1773.8 493.9h12v12h-12zM1775.7 491.0h12v12h-12zM1778.1 488.1h12v12h-12zM1771.8 596.8h12v12h-12zM1779.3 594.5h12v12h-12zM1775.5 592.2h12v12h-12zM1775.2 589.9h12v12h-12zM1780.8 587.6h12v12h-12zM1777.1 585.3h12v12h-12zM1775.3 583.0h12v12h-12zM1777.1 580.7h12v12h-12zM1779.6 578.4h12v12h-12zM1772.4 576.1h12v12h-12zM1782.5 573.8h12v12h-12zM1772.1 571.5h12v12h-12zM1780.0 569.2h12v12h-12zM1781.1 566.9h12v12h-12zM1772.0 564.6h12v12h-12zM1780.5 562.3h12v12h-12zM1775.8 560.0h12v12h-12zM1778.2 557.7h12v12h-12zM1771.9 555.4h12v12h-12zM1772.3 553.1h12v12h-12zM1773.8 550.8h12v12h-12zM1782.3 548.5h12v12h-12zM1774.0 546.2h12v12h-12zM1780.1 543.9h12v12h-12zM1782.0 541.6h12v12h-12zM1782.2 539.3h12v12h-12zM1775.6 537.0h12v12h-12zM1751.3 600.0h12v12h-12zM1755.3 600.0h12v12h-12zM1759.3 600.0h12v12h-12zM1763.3 600.0h12v12h-12zM1767.3 600.0h12v12h-12zM1771.3 600.0h12v12h-12zM1775.3 600.0h12v12h-12zM1779.3 600.0h12v12h-12zM1783.3 600.0h12v12h-12zM1787.3 600.0h12v12h-12zM1791.3 600.0h12v12h-12zM1795.3 600.0h12v12h-12zM1799.3 600.0h12v12h-12zM1803.3 600.0h12v12h-12zM1753.3 594.0h12v12h-12zM1757.3 594.0h12v12h-12zM1796.3 594.0h12v12h-12zM1800.3 594.0h12v12h-12z" fill="#000"/>
<path d="M1878.2 207.3l6.5 12.5h-13zM1878.2 225.1l6.5 12.5h-13zM1878.2 284.3l6.5 12.5h-13zM1879.0 343.0l6.5 12.5h-13zM1877.6 355.0l6.5 12.5h-13zM1878.2 408.0l6.5 12.5h-13zM1873.2 425.2l6.5 12.5h-13zM1882.2 431.0l6.5 12.5h-13zM1877.2 434.4l6.5 12.5h-13zM1878.2 448.2l6.5 12.5h-13zM1873.2 475.8l6.5 12.5h-13zM1881.2 474.6l6.5 12.5h-13zM1876.2 485.0l6.5 12.5h-13zM1882.2 487.3l6.5 12.5h-13zM1874.2 495.4l6.5 12.5h-13zM1880.2 497.6l6.5 12.5h-13zM1882.2 506.9l6.5 12.5h-13zM1877.2 514.9l6.5 12.5h-13zM1877.2 521.8l6.5 12.5h-13zM1878.2 531.0l6.5 12.5h-13zM1879.2 540.2l6.5 12.5h-13zM1879.2 548.2l6.5 12.5h-13zM1880.2 555.1l6.5 12.5h-13zM1869.2 555.1l6.5 12.5h-13zM1871.2 564.4l6.5 12.5h-13zM1881.2 566.6l6.5 12.5h-13zM1874.2 573.5l6.5 12.5h-13zM1883.2 575.9l6.5 12.5h-13zM1876.2 582.8l6.5 12.5h-13zM1882.2 583.9l6.5 12.5h-13zM1873.2 592.0l6.5 12.5h-13zM1880.2 593.1l6.5 12.5h-13zM1887.2 594.2l6.5 12.5h-13zM1859.2 594.2l6.5 12.5h-13zM1854.2 597.7l6.5 12.5h-13zM1866.2 600.0l6.5 12.5h-13zM1892.2 600.0l6.5 12.5h-13z" fill="#000"/>
<line x1="1656.9" y1="605.6" x2="1719.8" y2="605.6" stroke="#000" stroke-width="6" stroke-linecap="round"/>
<line x1="1751.7" y1="572.0" x2="1815.0" y2="572.0" stroke="#000" stroke-width="6" stroke-linecap="round"/>
<line x1="1846.5" y1="562.9" x2="1909.8" y2="562.9" stroke="#000" stroke-width="6" stroke-linecap="round"/>
<line x1="1625.4" y1="148.0" x2="1625.4" y2="615.8" stroke="#000" stroke-width="5" stroke-linecap="round"/>
<line x1="1603.5" y1="611.8" x2="1944.5" y2="611.8" stroke="#000" stroke-width="5.5" stroke-linecap="round"/>
<line x1="1604.4" y1="152.1" x2="1625.4" y2="152.1" stroke="#000" stroke-width="5" stroke-linecap="round"/>
<text x="1600.9" y="164.7" font-size="35.2" font-weight="bold" font-style="normal" text-anchor="end" fill="#000">40</text>
<line x1="1604.4" y1="267.1" x2="1625.4" y2="267.1" stroke="#000" stroke-width="5" stroke-linecap="round"/>
<text x="1600.9" y="279.7" font-size="35.2" font-weight="bold" font-style="normal" text-anchor="end" fill="#000">30</text>
<line x1="1604.4" y1="382.1" x2="1625.4" y2="382.1" stroke="#000" stroke-width="5" stroke-linecap="round"/>
<text x="1600.9" y="394.7" font-size="35.2" font-weight="bold" font-style="normal" text-anchor="end" fill="#000">20</text>
<line x1="1604.4" y1="497.1" x2="1625.4" y2="497.1" stroke="#000" stroke-width="5" stroke-linecap="round"/>
<text x="1600.9" y="509.7" font-size="35.2" font-weight="bold" font-style="normal" text-anchor="end" fill="#000">10</text>
<text x="1600.9" y="624.6" font-size="35.2" font-weight="bold" font-style="normal" text-anchor="end" fill="#000">0</text>
<line x1="1688.4" y1="611.8" x2="1688.4" y2="633.1" stroke="#000" stroke-width="5" stroke-linecap="round"/>
<line x1="1783.3" y1="611.8" x2="1783.3" y2="633.1" stroke="#000" stroke-width="5" stroke-linecap="round"/>
<line x1="1878.2" y1="611.8" x2="1878.2" y2="633.1" stroke="#000" stroke-width="5" stroke-linecap="round"/>
<line x1="1658.7" y1="80.5" x2="1895.2" y2="80.5" stroke="#000" stroke-width="7.6" stroke-linecap="round"/>
<text x="1785.2" y="69.0" font-size="40" font-weight="normal" font-style="normal" text-anchor="middle" fill="#000">***</text>
<line x1="1771.8" y1="128.4" x2="1891.6" y2="128.4" stroke="#000" stroke-width="7.6" stroke-linecap="round"/>
<text x="1839.5" y="119.4" font-size="40" font-weight="normal" font-style="normal" text-anchor="middle" fill="#000">n.s.</text>
<line x1="1668.7" y1="158.1" x2="1788.8" y2="158.1" stroke="#000" stroke-width="7.6" stroke-linecap="round"/>
<text x="1733.7" y="163.5" font-size="40" font-weight="normal" font-style="normal" text-anchor="middle" fill="#000">**</text>
<text x="1109.2" y="665.1" font-size="36.8" font-weight="bold" font-style="normal" text-anchor="end" fill="#000" transform="rotate(-46.4 1109.2 665.1)">low <tspan font-weight="normal" font-style="italic">TLR8</tspan></text>
<text x="1214.6" y="657.7" font-size="36.8" font-weight="bold" font-style="normal" text-anchor="end" fill="#000" transform="rotate(-46.4 1214.6 657.7)">medium <tspan font-weight="normal" font-style="italic">TLR8</tspan></text>
<text x="1310.0" y="658.0" font-size="36.8" font-weight="bold" font-style="normal" text-anchor="end" fill="#000" transform="rotate(-46.4 1310.0 658.0)">high <tspan font-weight="normal" font-style="italic">TLR8</tspan></text>
<text x="1694.0" y="668.4" font-size="35.4" font-weight="bold" font-style="normal" text-anchor="end" fill="#000" transform="rotate(-44.6 1694.0 668.4)">low <tspan font-weight="normal" font-style="italic">TLR8</tspan></text>
<text x="1794.0" y="663.0" font-size="35.4" font-weight="bold" font-style="normal" text-anchor="end" fill="#000" transform="rotate(-44.6 1794.0 663.0)">medium <tspan font-weight="normal" font-style="italic">TLR8</tspan></text>
<text x="1888.8" y="661.6" font-size="35.4" font-weight="bold" font-style="normal" text-anchor="end" fill="#000" transform="rotate(-44.6 1888.8 661.6)">high <tspan font-weight="normal" font-style="italic">TLR8</tspan></text>
<text x="52.0" y="904.0" font-size="47" font-weight="bold" font-style="normal" text-anchor="start" fill="#000" textLength="30.0" lengthAdjust="spacingAndGlyphs">D</text>
<line x1="168.7" y1="1137.4" x2="607.0" y2="1001.8" stroke="#000" stroke-width="2.2" stroke-linecap="round"/>
<path d="M244.2 1097.0a6.1 6.1 0 1 0 12.2 0a6.1 6.1 0 1 0 -12.2 0zM240.2 1123.0a6.1 6.1 0 1 0 12.2 0a6.1 6.1 0 1 0 -12.2 0zM241.9 1131.7a6.1 6.1 0 1 0 12.2 0a6.1 6.1 0 1 0 -12.2 0zM252.4 1109.7a6.1 6.1 0 1 0 12.2 0a6.1 6.1 0 1 0 -12.2 0zM260.8 1119.8a6.1 6.1 0 1 0 12.2 0a6.1 6.1 0 1 0 -12.2 0zM255.4 1129.4a6.1 6.1 0 1 0 12.2 0a6.1 6.1 0 1 0 -12.2 0zM276.2 1098.6a6.1 6.1 0 1 0 12.2 0a6.1 6.1 0 1 0 -12.2 0zM271.2 1119.4a6.1 6.1 0 1 0 12.2 0a6.1 6.1 0 1 0 -12.2 0zM282.3 1093.4a6.1 6.1 0 1 0 12.2 0a6.1 6.1 0 1 0 -12.2 0zM280.3 1110.5a6.1 6.1 0 1 0 12.2 0a6.1 6.1 0 1 0 -12.2 0zM299.1 1082.8a6.1 6.1 0 1 0 12.2 0a6.1 6.1 0 1 0 -12.2 0zM298.0 1092.2a6.1 6.1 0 1 0 12.2 0a6.1 6.1 0 1 0 -12.2 0zM294.8 1106.1a6.1 6.1 0 1 0 12.2 0a6.1 6.1 0 1 0 -12.2 0zM306.2 1081.2a6.1 6.1 0 1 0 12.2 0a6.1 6.1 0 1 0 -12.2 0zM302.4 1091.3a6.1 6.1 0 1 0 12.2 0a6.1 6.1 0 1 0 -12.2 0zM304.8 1100.9a6.1 6.1 0 1 0 12.2 0a6.1 6.1 0 1 0 -12.2 0zM302.6 1114.7a6.1 6.1 0 1 0 12.2 0a6.1 6.1 0 1 0 -12.2 0zM315.1 1067.4a6.1 6.1 0 1 0 12.2 0a6.1 6.1 0 1 0 -12.2 0zM312.1 1072.8a6.1 6.1 0 1 0 12.2 0a6.1 6.1 0 1 0 -12.2 0zM310.7 1084.7a6.1 6.1 0 1 0 12.2 0a6.1 6.1 0 1 0 -12.2 0zM308.0 1094.1a6.1 6.1 0 1 0 12.2 0a6.1 6.1 0 1 0 -12.2 0zM314.8 1101.8a6.1 6.1 0 1 0 12.2 0a6.1 6.1 0 1 0 -12.2 0zM311.1 1106.5a6.1 6.1 0 1 0 12.2 0a6.1 6.1 0 1 0 -12.2 0zM312.1 1114.3a6.1 6.1 0 1 0 12.2 0a6.1 6.1 0 1 0 -12.2 0zM318.4 1073.4a6.1 6.1 0 1 0 12.2 0a6.1 6.1 0 1 0 -12.2 0zM317.4 1082.9a6.1 6.1 0 1 0 12.2 0a6.1 6.1 0 1 0 -12.2 0zM319.3 1083.1a6.1 6.1 0 1 0 12.2 0a6.1 6.1 0 1 0 -12.2 0zM319.5 1090.7a6.1 6.1 0 1 0 12.2 0a6.1 6.1 0 1 0 -12.2 0zM319.9 1098.5a6.1 6.1 0 1 0 12.2 0a6.1 6.1 0 1 0 -12.2 0zM318.6 1110.6a6.1 6.1 0 1 0 12.2 0a6.1 6.1 0 1 0 -12.2 0zM320.5 1118.6a6.1 6.1 0 1 0 12.2 0a6.1 6.1 0 1 0 -12.2 0zM323.1 1061.5a6.1 6.1 0 1 0 12.2 0a6.1 6.1 0 1 0 -12.2 0zM326.1 1075.9a6.1 6.1 0 1 0 12.2 0a6.1 6.1 0 1 0 -12.2 0zM325.4 1081.3a6.1 6.1 0 1 0 12.2 0a6.1 6.1 0 1 0 -12.2 0zM327.1 1088.7a6.1 6.1 0 1 0 12.2 0a6.1 6.1 0 1 0 -12.2 0zM328.4 1094.2a6.1 6.1 0 1 0 12.2 0a6.1 6.1 0 1 0 -12.2 0zM328.2 1103.8a6.1 6.1 0 1 0 12.2 0a6.1 6.1 0 1 0 -12.2 0zM328.7 1110.8a6.1 6.1 0 1 0 12.2 0a6.1 6.1 0 1 0 -12.2 0zM325.9 1121.7a6.1 6.1 0 1 0 12.2 0a6.1 6.1 0 1 0 -12.2 0zM332.6 1054.9a6.1 6.1 0 1 0 12.2 0a6.1 6.1 0 1 0 -12.2 0zM336.6 1068.7a6.1 6.1 0 1 0 12.2 0a6.1 6.1 0 1 0 -12.2 0zM335.0 1081.6a6.1 6.1 0 1 0 12.2 0a6.1 6.1 0 1 0 -12.2 0zM331.8 1083.3a6.1 6.1 0 1 0 12.2 0a6.1 6.1 0 1 0 -12.2 0zM331.6 1096.0a6.1 6.1 0 1 0 12.2 0a6.1 6.1 0 1 0 -12.2 0zM332.2 1111.0a6.1 6.1 0 1 0 12.2 0a6.1 6.1 0 1 0 -12.2 0zM338.6 1059.0a6.1 6.1 0 1 0 12.2 0a6.1 6.1 0 1 0 -12.2 0zM340.2 1075.0a6.1 6.1 0 1 0 12.2 0a6.1 6.1 0 1 0 -12.2 0zM340.7 1086.2a6.1 6.1 0 1 0 12.2 0a6.1 6.1 0 1 0 -12.2 0zM337.7 1093.9a6.1 6.1 0 1 0 12.2 0a6.1 6.1 0 1 0 -12.2 0zM344.8 1116.3a6.1 6.1 0 1 0 12.2 0a6.1 6.1 0 1 0 -12.2 0zM350.7 1053.7a6.1 6.1 0 1 0 12.2 0a6.1 6.1 0 1 0 -12.2 0zM349.0 1057.0a6.1 6.1 0 1 0 12.2 0a6.1 6.1 0 1 0 -12.2 0zM346.9 1062.9a6.1 6.1 0 1 0 12.2 0a6.1 6.1 0 1 0 -12.2 0zM347.3 1076.0a6.1 6.1 0 1 0 12.2 0a6.1 6.1 0 1 0 -12.2 0zM351.9 1082.6a6.1 6.1 0 1 0 12.2 0a6.1 6.1 0 1 0 -12.2 0zM358.2 1054.2a6.1 6.1 0 1 0 12.2 0a6.1 6.1 0 1 0 -12.2 0zM357.6 1064.4a6.1 6.1 0 1 0 12.2 0a6.1 6.1 0 1 0 -12.2 0zM359.7 1072.5a6.1 6.1 0 1 0 12.2 0a6.1 6.1 0 1 0 -12.2 0zM354.5 1081.9a6.1 6.1 0 1 0 12.2 0a6.1 6.1 0 1 0 -12.2 0zM358.5 1085.6a6.1 6.1 0 1 0 12.2 0a6.1 6.1 0 1 0 -12.2 0zM356.7 1096.5a6.1 6.1 0 1 0 12.2 0a6.1 6.1 0 1 0 -12.2 0zM358.6 1104.8a6.1 6.1 0 1 0 12.2 0a6.1 6.1 0 1 0 -12.2 0zM364.9 1062.9a6.1 6.1 0 1 0 12.2 0a6.1 6.1 0 1 0 -12.2 0zM362.2 1066.0a6.1 6.1 0 1 0 12.2 0a6.1 6.1 0 1 0 -12.2 0zM363.3 1075.0a6.1 6.1 0 1 0 12.2 0a6.1 6.1 0 1 0 -12.2 0zM360.6 1087.4a6.1 6.1 0 1 0 12.2 0a6.1 6.1 0 1 0 -12.2 0zM360.7 1101.3a6.1 6.1 0 1 0 12.2 0a6.1 6.1 0 1 0 -12.2 0zM371.4 1044.3a6.1 6.1 0 1 0 12.2 0a6.1 6.1 0 1 0 -12.2 0zM370.3 1054.3a6.1 6.1 0 1 0 12.2 0a6.1 6.1 0 1 0 -12.2 0zM370.4 1058.4a6.1 6.1 0 1 0 12.2 0a6.1 6.1 0 1 0 -12.2 0zM368.6 1068.6a6.1 6.1 0 1 0 12.2 0a6.1 6.1 0 1 0 -12.2 0zM370.5 1072.5a6.1 6.1 0 1 0 12.2 0a6.1 6.1 0 1 0 -12.2 0zM370.4 1084.0a6.1 6.1 0 1 0 12.2 0a6.1 6.1 0 1 0 -12.2 0zM373.7 1099.1a6.1 6.1 0 1 0 12.2 0a6.1 6.1 0 1 0 -12.2 0zM377.9 1033.5a6.1 6.1 0 1 0 12.2 0a6.1 6.1 0 1 0 -12.2 0zM378.3 1042.5a6.1 6.1 0 1 0 12.2 0a6.1 6.1 0 1 0 -12.2 0zM377.0 1048.8a6.1 6.1 0 1 0 12.2 0a6.1 6.1 0 1 0 -12.2 0zM375.7 1055.5a6.1 6.1 0 1 0 12.2 0a6.1 6.1 0 1 0 -12.2 0zM381.7 1066.8a6.1 6.1 0 1 0 12.2 0a6.1 6.1 0 1 0 -12.2 0zM381.9 1073.2a6.1 6.1 0 1 0 12.2 0a6.1 6.1 0 1 0 -12.2 0zM378.6 1075.7a6.1 6.1 0 1 0 12.2 0a6.1 6.1 0 1 0 -12.2 0zM381.8 1095.7a6.1 6.1 0 1 0 12.2 0a6.1 6.1 0 1 0 -12.2 0zM383.4 1040.6a6.1 6.1 0 1 0 12.2 0a6.1 6.1 0 1 0 -12.2 0zM383.7 1049.5a6.1 6.1 0 1 0 12.2 0a6.1 6.1 0 1 0 -12.2 0zM383.3 1051.9a6.1 6.1 0 1 0 12.2 0a6.1 6.1 0 1 0 -12.2 0zM382.8 1072.5a6.1 6.1 0 1 0 12.2 0a6.1 6.1 0 1 0 -12.2 0zM389.0 1078.7a6.1 6.1 0 1 0 12.2 0a6.1 6.1 0 1 0 -12.2 0zM395.9 1038.9a6.1 6.1 0 1 0 12.2 0a6.1 6.1 0 1 0 -12.2 0zM391.0 1048.2a6.1 6.1 0 1 0 12.2 0a6.1 6.1 0 1 0 -12.2 0zM392.6 1061.8a6.1 6.1 0 1 0 12.2 0a6.1 6.1 0 1 0 -12.2 0zM391.5 1074.5a6.1 6.1 0 1 0 12.2 0a6.1 6.1 0 1 0 -12.2 0zM395.8 1083.0a6.1 6.1 0 1 0 12.2 0a6.1 6.1 0 1 0 -12.2 0zM393.1 1090.2a6.1 6.1 0 1 0 12.2 0a6.1 6.1 0 1 0 -12.2 0zM390.8 1098.8a6.1 6.1 0 1 0 12.2 0a6.1 6.1 0 1 0 -12.2 0zM403.3 1035.2a6.1 6.1 0 1 0 12.2 0a6.1 6.1 0 1 0 -12.2 0zM403.3 1046.5a6.1 6.1 0 1 0 12.2 0a6.1 6.1 0 1 0 -12.2 0zM401.3 1053.8a6.1 6.1 0 1 0 12.2 0a6.1 6.1 0 1 0 -12.2 0zM398.4 1069.6a6.1 6.1 0 1 0 12.2 0a6.1 6.1 0 1 0 -12.2 0zM401.0 1084.4a6.1 6.1 0 1 0 12.2 0a6.1 6.1 0 1 0 -12.2 0zM399.7 1088.0a6.1 6.1 0 1 0 12.2 0a6.1 6.1 0 1 0 -12.2 0zM406.9 1039.6a6.1 6.1 0 1 0 12.2 0a6.1 6.1 0 1 0 -12.2 0zM410.4 1052.5a6.1 6.1 0 1 0 12.2 0a6.1 6.1 0 1 0 -12.2 0zM407.2 1066.0a6.1 6.1 0 1 0 12.2 0a6.1 6.1 0 1 0 -12.2 0zM408.7 1074.8a6.1 6.1 0 1 0 12.2 0a6.1 6.1 0 1 0 -12.2 0zM407.9 1081.8a6.1 6.1 0 1 0 12.2 0a6.1 6.1 0 1 0 -12.2 0zM420.1 1031.3a6.1 6.1 0 1 0 12.2 0a6.1 6.1 0 1 0 -12.2 0zM416.2 1041.5a6.1 6.1 0 1 0 12.2 0a6.1 6.1 0 1 0 -12.2 0zM416.3 1055.7a6.1 6.1 0 1 0 12.2 0a6.1 6.1 0 1 0 -12.2 0zM418.2 1072.5a6.1 6.1 0 1 0 12.2 0a6.1 6.1 0 1 0 -12.2 0zM414.4 1074.5a6.1 6.1 0 1 0 12.2 0a6.1 6.1 0 1 0 -12.2 0zM417.7 1087.4a6.1 6.1 0 1 0 12.2 0a6.1 6.1 0 1 0 -12.2 0zM421.6 1038.0a6.1 6.1 0 1 0 12.2 0a6.1 6.1 0 1 0 -12.2 0zM425.4 1050.0a6.1 6.1 0 1 0 12.2 0a6.1 6.1 0 1 0 -12.2 0zM426.6 1060.9a6.1 6.1 0 1 0 12.2 0a6.1 6.1 0 1 0 -12.2 0zM425.6 1066.7a6.1 6.1 0 1 0 12.2 0a6.1 6.1 0 1 0 -12.2 0zM426.4 1075.8a6.1 6.1 0 1 0 12.2 0a6.1 6.1 0 1 0 -12.2 0zM424.5 1086.1a6.1 6.1 0 1 0 12.2 0a6.1 6.1 0 1 0 -12.2 0zM430.2 1032.6a6.1 6.1 0 1 0 12.2 0a6.1 6.1 0 1 0 -12.2 0zM429.2 1041.2a6.1 6.1 0 1 0 12.2 0a6.1 6.1 0 1 0 -12.2 0zM431.7 1052.7a6.1 6.1 0 1 0 12.2 0a6.1 6.1 0 1 0 -12.2 0zM432.6 1060.2a6.1 6.1 0 1 0 12.2 0a6.1 6.1 0 1 0 -12.2 0zM442.2 1032.5a6.1 6.1 0 1 0 12.2 0a6.1 6.1 0 1 0 -12.2 0zM440.2 1057.1a6.1 6.1 0 1 0 12.2 0a6.1 6.1 0 1 0 -12.2 0zM440.8 1074.4a6.1 6.1 0 1 0 12.2 0a6.1 6.1 0 1 0 -12.2 0zM443.5 1041.3a6.1 6.1 0 1 0 12.2 0a6.1 6.1 0 1 0 -12.2 0zM448.0 1050.2a6.1 6.1 0 1 0 12.2 0a6.1 6.1 0 1 0 -12.2 0zM444.0 1057.5a6.1 6.1 0 1 0 12.2 0a6.1 6.1 0 1 0 -12.2 0zM456.8 1032.0a6.1 6.1 0 1 0 12.2 0a6.1 6.1 0 1 0 -12.2 0zM457.1 1035.6a6.1 6.1 0 1 0 12.2 0a6.1 6.1 0 1 0 -12.2 0zM455.6 1046.5a6.1 6.1 0 1 0 12.2 0a6.1 6.1 0 1 0 -12.2 0zM455.0 1053.0a6.1 6.1 0 1 0 12.2 0a6.1 6.1 0 1 0 -12.2 0zM459.0 1022.4a6.1 6.1 0 1 0 12.2 0a6.1 6.1 0 1 0 -12.2 0zM463.3 1033.4a6.1 6.1 0 1 0 12.2 0a6.1 6.1 0 1 0 -12.2 0zM460.3 1038.9a6.1 6.1 0 1 0 12.2 0a6.1 6.1 0 1 0 -12.2 0zM464.2 1044.7a6.1 6.1 0 1 0 12.2 0a6.1 6.1 0 1 0 -12.2 0zM459.5 1057.6a6.1 6.1 0 1 0 12.2 0a6.1 6.1 0 1 0 -12.2 0zM467.6 1017.9a6.1 6.1 0 1 0 12.2 0a6.1 6.1 0 1 0 -12.2 0zM470.9 1025.0a6.1 6.1 0 1 0 12.2 0a6.1 6.1 0 1 0 -12.2 0zM467.2 1038.1a6.1 6.1 0 1 0 12.2 0a6.1 6.1 0 1 0 -12.2 0zM471.0 1050.3a6.1 6.1 0 1 0 12.2 0a6.1 6.1 0 1 0 -12.2 0zM466.6 1055.5a6.1 6.1 0 1 0 12.2 0a6.1 6.1 0 1 0 -12.2 0zM477.1 1025.5a6.1 6.1 0 1 0 12.2 0a6.1 6.1 0 1 0 -12.2 0zM474.1 1035.9a6.1 6.1 0 1 0 12.2 0a6.1 6.1 0 1 0 -12.2 0zM474.2 1041.3a6.1 6.1 0 1 0 12.2 0a6.1 6.1 0 1 0 -12.2 0zM486.2 1013.6a6.1 6.1 0 1 0 12.2 0a6.1 6.1 0 1 0 -12.2 0zM484.3 1026.3a6.1 6.1 0 1 0 12.2 0a6.1 6.1 0 1 0 -12.2 0zM487.5 1034.6a6.1 6.1 0 1 0 12.2 0a6.1 6.1 0 1 0 -12.2 0zM486.6 1040.5a6.1 6.1 0 1 0 12.2 0a6.1 6.1 0 1 0 -12.2 0zM485.6 1044.4a6.1 6.1 0 1 0 12.2 0a6.1 6.1 0 1 0 -12.2 0zM491.6 1015.4a6.1 6.1 0 1 0 12.2 0a6.1 6.1 0 1 0 -12.2 0zM491.6 1019.7a6.1 6.1 0 1 0 12.2 0a6.1 6.1 0 1 0 -12.2 0zM492.5 1030.2a6.1 6.1 0 1 0 12.2 0a6.1 6.1 0 1 0 -12.2 0zM494.8 1041.1a6.1 6.1 0 1 0 12.2 0a6.1 6.1 0 1 0 -12.2 0zM493.6 1046.6a6.1 6.1 0 1 0 12.2 0a6.1 6.1 0 1 0 -12.2 0zM490.3 1051.2a6.1 6.1 0 1 0 12.2 0a6.1 6.1 0 1 0 -12.2 0zM499.2 1009.8a6.1 6.1 0 1 0 12.2 0a6.1 6.1 0 1 0 -12.2 0zM501.7 1015.6a6.1 6.1 0 1 0 12.2 0a6.1 6.1 0 1 0 -12.2 0zM501.6 1022.4a6.1 6.1 0 1 0 12.2 0a6.1 6.1 0 1 0 -12.2 0zM500.7 1035.4a6.1 6.1 0 1 0 12.2 0a6.1 6.1 0 1 0 -12.2 0zM508.3 1020.0a6.1 6.1 0 1 0 12.2 0a6.1 6.1 0 1 0 -12.2 0zM503.0 1024.4a6.1 6.1 0 1 0 12.2 0a6.1 6.1 0 1 0 -12.2 0zM503.9 1035.1a6.1 6.1 0 1 0 12.2 0a6.1 6.1 0 1 0 -12.2 0zM515.0 1010.8a6.1 6.1 0 1 0 12.2 0a6.1 6.1 0 1 0 -12.2 0zM515.8 1019.0a6.1 6.1 0 1 0 12.2 0a6.1 6.1 0 1 0 -12.2 0zM516.9 1028.9a6.1 6.1 0 1 0 12.2 0a6.1 6.1 0 1 0 -12.2 0zM512.9 1035.0a6.1 6.1 0 1 0 12.2 0a6.1 6.1 0 1 0 -12.2 0zM517.7 1002.4a6.1 6.1 0 1 0 12.2 0a6.1 6.1 0 1 0 -12.2 0zM521.1 1017.3a6.1 6.1 0 1 0 12.2 0a6.1 6.1 0 1 0 -12.2 0zM518.9 1026.3a6.1 6.1 0 1 0 12.2 0a6.1 6.1 0 1 0 -12.2 0zM517.9 1031.6a6.1 6.1 0 1 0 12.2 0a6.1 6.1 0 1 0 -12.2 0zM521.3 1038.7a6.1 6.1 0 1 0 12.2 0a6.1 6.1 0 1 0 -12.2 0zM528.5 1003.6a6.1 6.1 0 1 0 12.2 0a6.1 6.1 0 1 0 -12.2 0zM528.2 1018.5a6.1 6.1 0 1 0 12.2 0a6.1 6.1 0 1 0 -12.2 0zM532.4 1024.7a6.1 6.1 0 1 0 12.2 0a6.1 6.1 0 1 0 -12.2 0zM528.7 1031.8a6.1 6.1 0 1 0 12.2 0a6.1 6.1 0 1 0 -12.2 0zM533.6 1000.7a6.1 6.1 0 1 0 12.2 0a6.1 6.1 0 1 0 -12.2 0zM538.6 1018.8a6.1 6.1 0 1 0 12.2 0a6.1 6.1 0 1 0 -12.2 0zM534.5 1032.3a6.1 6.1 0 1 0 12.2 0a6.1 6.1 0 1 0 -12.2 0zM540.9 1019.4a6.1 6.1 0 1 0 12.2 0a6.1 6.1 0 1 0 -12.2 0zM547.9 1005.9a6.1 6.1 0 1 0 12.2 0a6.1 6.1 0 1 0 -12.2 0zM547.9 1013.2a6.1 6.1 0 1 0 12.2 0a6.1 6.1 0 1 0 -12.2 0zM562.5 1010.1a6.1 6.1 0 1 0 12.2 0a6.1 6.1 0 1 0 -12.2 0zM564.9 1013.8a6.1 6.1 0 1 0 12.2 0a6.1 6.1 0 1 0 -12.2 0zM572.4 1010.8a6.1 6.1 0 1 0 12.2 0a6.1 6.1 0 1 0 -12.2 0zM573.1 1014.5a6.1 6.1 0 1 0 12.2 0a6.1 6.1 0 1 0 -12.2 0zM178.9 1048.9a6.1 6.1 0 1 0 12.2 0a6.1 6.1 0 1 0 -12.2 0zM218.6 1053.0a6.1 6.1 0 1 0 12.2 0a6.1 6.1 0 1 0 -12.2 0zM260.9 1066.1a6.1 6.1 0 1 0 12.2 0a6.1 6.1 0 1 0 -12.2 0zM301.7 1052.2a6.1 6.1 0 1 0 12.2 0a6.1 6.1 0 1 0 -12.2 0zM182.5 1079.5a6.1 6.1 0 1 0 12.2 0a6.1 6.1 0 1 0 -12.2 0zM227.5 1085.4a6.1 6.1 0 1 0 12.2 0a6.1 6.1 0 1 0 -12.2 0zM239.7 1083.1a6.1 6.1 0 1 0 12.2 0a6.1 6.1 0 1 0 -12.2 0zM243.7 1085.4a6.1 6.1 0 1 0 12.2 0a6.1 6.1 0 1 0 -12.2 0zM163.4 1100.8a6.1 6.1 0 1 0 12.2 0a6.1 6.1 0 1 0 -12.2 0zM184.5 1103.5a6.1 6.1 0 1 0 12.2 0a6.1 6.1 0 1 0 -12.2 0zM237.4 1101.1a6.1 6.1 0 1 0 12.2 0a6.1 6.1 0 1 0 -12.2 0zM162.6 1115.5a6.1 6.1 0 1 0 12.2 0a6.1 6.1 0 1 0 -12.2 0zM195.8 1118.0a6.1 6.1 0 1 0 12.2 0a6.1 6.1 0 1 0 -12.2 0zM218.6 1110.8a6.1 6.1 0 1 0 12.2 0a6.1 6.1 0 1 0 -12.2 0zM229.5 1108.9a6.1 6.1 0 1 0 12.2 0a6.1 6.1 0 1 0 -12.2 0zM232.7 1114.4a6.1 6.1 0 1 0 12.2 0a6.1 6.1 0 1 0 -12.2 0zM173.1 1124.3a6.1 6.1 0 1 0 12.2 0a6.1 6.1 0 1 0 -12.2 0zM182.5 1132.5a6.1 6.1 0 1 0 12.2 0a6.1 6.1 0 1 0 -12.2 0zM194.0 1131.7a6.1 6.1 0 1 0 12.2 0a6.1 6.1 0 1 0 -12.2 0zM207.6 1127.0a6.1 6.1 0 1 0 12.2 0a6.1 6.1 0 1 0 -12.2 0zM215.4 1127.0a6.1 6.1 0 1 0 12.2 0a6.1 6.1 0 1 0 -12.2 0zM210.7 1135.6a6.1 6.1 0 1 0 12.2 0a6.1 6.1 0 1 0 -12.2 0zM213.9 1143.4a6.1 6.1 0 1 0 12.2 0a6.1 6.1 0 1 0 -12.2 0zM223.3 1141.1a6.1 6.1 0 1 0 12.2 0a6.1 6.1 0 1 0 -12.2 0zM199.8 1144.2a6.1 6.1 0 1 0 12.2 0a6.1 6.1 0 1 0 -12.2 0zM202.1 1148.9a6.1 6.1 0 1 0 12.2 0a6.1 6.1 0 1 0 -12.2 0zM214.6 1157.2a6.1 6.1 0 1 0 12.2 0a6.1 6.1 0 1 0 -12.2 0zM242.1 1139.5a6.1 6.1 0 1 0 12.2 0a6.1 6.1 0 1 0 -12.2 0zM249.1 1138.7a6.1 6.1 0 1 0 12.2 0a6.1 6.1 0 1 0 -12.2 0zM257.8 1132.5a6.1 6.1 0 1 0 12.2 0a6.1 6.1 0 1 0 -12.2 0zM258.5 1124.6a6.1 6.1 0 1 0 12.2 0a6.1 6.1 0 1 0 -12.2 0zM253.1 1121.5a6.1 6.1 0 1 0 12.2 0a6.1 6.1 0 1 0 -12.2 0zM268.7 1123.1a6.1 6.1 0 1 0 12.2 0a6.1 6.1 0 1 0 -12.2 0zM274.2 1124.6a6.1 6.1 0 1 0 12.2 0a6.1 6.1 0 1 0 -12.2 0zM291.5 1129.3a6.1 6.1 0 1 0 12.2 0a6.1 6.1 0 1 0 -12.2 0zM295.4 1123.1a6.1 6.1 0 1 0 12.2 0a6.1 6.1 0 1 0 -12.2 0zM305.6 1127.8a6.1 6.1 0 1 0 12.2 0a6.1 6.1 0 1 0 -12.2 0zM319.7 1127.0a6.1 6.1 0 1 0 12.2 0a6.1 6.1 0 1 0 -12.2 0zM336.2 1124.3a6.1 6.1 0 1 0 12.2 0a6.1 6.1 0 1 0 -12.2 0zM298.5 1075.2a6.1 6.1 0 1 0 12.2 0a6.1 6.1 0 1 0 -12.2 0zM314.2 1063.5a6.1 6.1 0 1 0 12.2 0a6.1 6.1 0 1 0 -12.2 0zM337.7 1050.9a6.1 6.1 0 1 0 12.2 0a6.1 6.1 0 1 0 -12.2 0zM349.5 1040.0a6.1 6.1 0 1 0 12.2 0a6.1 6.1 0 1 0 -12.2 0zM361.2 1046.2a6.1 6.1 0 1 0 12.2 0a6.1 6.1 0 1 0 -12.2 0zM369.1 1043.1a6.1 6.1 0 1 0 12.2 0a6.1 6.1 0 1 0 -12.2 0zM376.1 1029.0a6.1 6.1 0 1 0 12.2 0a6.1 6.1 0 1 0 -12.2 0zM384.8 1040.0a6.1 6.1 0 1 0 12.2 0a6.1 6.1 0 1 0 -12.2 0zM391.0 1029.0a6.1 6.1 0 1 0 12.2 0a6.1 6.1 0 1 0 -12.2 0zM402.8 1025.9a6.1 6.1 0 1 0 12.2 0a6.1 6.1 0 1 0 -12.2 0zM284.4 1083.9a6.1 6.1 0 1 0 12.2 0a6.1 6.1 0 1 0 -12.2 0zM275.0 1090.1a6.1 6.1 0 1 0 12.2 0a6.1 6.1 0 1 0 -12.2 0zM266.4 1094.8a6.1 6.1 0 1 0 12.2 0a6.1 6.1 0 1 0 -12.2 0zM249.1 1094.8a6.1 6.1 0 1 0 12.2 0a6.1 6.1 0 1 0 -12.2 0zM254.6 1098.0a6.1 6.1 0 1 0 12.2 0a6.1 6.1 0 1 0 -12.2 0zM359.7 1104.2a6.1 6.1 0 1 0 12.2 0a6.1 6.1 0 1 0 -12.2 0zM364.4 1113.7a6.1 6.1 0 1 0 12.2 0a6.1 6.1 0 1 0 -12.2 0zM370.7 1111.3a6.1 6.1 0 1 0 12.2 0a6.1 6.1 0 1 0 -12.2 0zM383.2 1104.2a6.1 6.1 0 1 0 12.2 0a6.1 6.1 0 1 0 -12.2 0zM394.2 1108.2a6.1 6.1 0 1 0 12.2 0a6.1 6.1 0 1 0 -12.2 0zM403.6 1099.5a6.1 6.1 0 1 0 12.2 0a6.1 6.1 0 1 0 -12.2 0zM411.4 1098.0a6.1 6.1 0 1 0 12.2 0a6.1 6.1 0 1 0 -12.2 0zM306.4 1068.2a6.1 6.1 0 1 0 12.2 0a6.1 6.1 0 1 0 -12.2 0zM322.0 1060.3a6.1 6.1 0 1 0 12.2 0a6.1 6.1 0 1 0 -12.2 0zM329.9 1055.6a6.1 6.1 0 1 0 12.2 0a6.1 6.1 0 1 0 -12.2 0zM353.4 1047.8a6.1 6.1 0 1 0 12.2 0a6.1 6.1 0 1 0 -12.2 0zM378.5 1035.3a6.1 6.1 0 1 0 12.2 0a6.1 6.1 0 1 0 -12.2 0zM400.4 1033.7a6.1 6.1 0 1 0 12.2 0a6.1 6.1 0 1 0 -12.2 0zM376.3 1029.4a6.1 6.1 0 1 0 12.2 0a6.1 6.1 0 1 0 -12.2 0zM390.4 1028.6a6.1 6.1 0 1 0 12.2 0a6.1 6.1 0 1 0 -12.2 0zM402.9 1025.4a6.1 6.1 0 1 0 12.2 0a6.1 6.1 0 1 0 -12.2 0zM415.4 1027.0a6.1 6.1 0 1 0 12.2 0a6.1 6.1 0 1 0 -12.2 0zM429.6 1030.2a6.1 6.1 0 1 0 12.2 0a6.1 6.1 0 1 0 -12.2 0zM439.8 1031.7a6.1 6.1 0 1 0 12.2 0a6.1 6.1 0 1 0 -12.2 0zM449.2 1030.9a6.1 6.1 0 1 0 12.2 0a6.1 6.1 0 1 0 -12.2 0zM460.1 1023.1a6.1 6.1 0 1 0 12.2 0a6.1 6.1 0 1 0 -12.2 0zM473.5 1009.8a6.1 6.1 0 1 0 12.2 0a6.1 6.1 0 1 0 -12.2 0zM491.5 1003.5a6.1 6.1 0 1 0 12.2 0a6.1 6.1 0 1 0 -12.2 0zM507.2 1001.1a6.1 6.1 0 1 0 12.2 0a6.1 6.1 0 1 0 -12.2 0zM528.3 1002.7a6.1 6.1 0 1 0 12.2 0a6.1 6.1 0 1 0 -12.2 0zM538.5 1000.4a6.1 6.1 0 1 0 12.2 0a6.1 6.1 0 1 0 -12.2 0zM553.4 997.2a6.1 6.1 0 1 0 12.2 0a6.1 6.1 0 1 0 -12.2 0zM600.5 994.9a6.1 6.1 0 1 0 12.2 0a6.1 6.1 0 1 0 -12.2 0zM611.4 998.8a6.1 6.1 0 1 0 12.2 0a6.1 6.1 0 1 0 -12.2 0zM596.5 1005.1a6.1 6.1 0 1 0 12.2 0a6.1 6.1 0 1 0 -12.2 0zM593.4 1017.6a6.1 6.1 0 1 0 12.2 0a6.1 6.1 0 1 0 -12.2 0zM569.9 1007.4a6.1 6.1 0 1 0 12.2 0a6.1 6.1 0 1 0 -12.2 0zM560.5 1002.7a6.1 6.1 0 1 0 12.2 0a6.1 6.1 0 1 0 -12.2 0zM546.4 1002.7a6.1 6.1 0 1 0 12.2 0a6.1 6.1 0 1 0 -12.2 0zM538.5 1009.0a6.1 6.1 0 1 0 12.2 0a6.1 6.1 0 1 0 -12.2 0zM519.7 1005.9a6.1 6.1 0 1 0 12.2 0a6.1 6.1 0 1 0 -12.2 0zM485.2 1018.4a6.1 6.1 0 1 0 12.2 0a6.1 6.1 0 1 0 -12.2 0zM493.1 1018.4a6.1 6.1 0 1 0 12.2 0a6.1 6.1 0 1 0 -12.2 0zM428.0 1087.4a6.1 6.1 0 1 0 12.2 0a6.1 6.1 0 1 0 -12.2 0zM439.0 1079.5a6.1 6.1 0 1 0 12.2 0a6.1 6.1 0 1 0 -12.2 0zM409.2 1098.4a6.1 6.1 0 1 0 12.2 0a6.1 6.1 0 1 0 -12.2 0zM402.9 1099.9a6.1 6.1 0 1 0 12.2 0a6.1 6.1 0 1 0 -12.2 0zM393.5 1108.5a6.1 6.1 0 1 0 12.2 0a6.1 6.1 0 1 0 -12.2 0zM383.3 1103.8a6.1 6.1 0 1 0 12.2 0a6.1 6.1 0 1 0 -12.2 0zM373.9 1111.7a6.1 6.1 0 1 0 12.2 0a6.1 6.1 0 1 0 -12.2 0zM453.1 1061.5a6.1 6.1 0 1 0 12.2 0a6.1 6.1 0 1 0 -12.2 0zM468.0 1062.3a6.1 6.1 0 1 0 12.2 0a6.1 6.1 0 1 0 -12.2 0zM487.6 1059.2a6.1 6.1 0 1 0 12.2 0a6.1 6.1 0 1 0 -12.2 0zM501.7 1047.4a6.1 6.1 0 1 0 12.2 0a6.1 6.1 0 1 0 -12.2 0zM524.4 1051.3a6.1 6.1 0 1 0 12.2 0a6.1 6.1 0 1 0 -12.2 0zM528.3 1038.0a6.1 6.1 0 1 0 12.2 0a6.1 6.1 0 1 0 -12.2 0zM546.4 1030.2a6.1 6.1 0 1 0 12.2 0a6.1 6.1 0 1 0 -12.2 0zM561.3 1032.5a6.1 6.1 0 1 0 12.2 0a6.1 6.1 0 1 0 -12.2 0zM571.5 1024.7a6.1 6.1 0 1 0 12.2 0a6.1 6.1 0 1 0 -12.2 0zM577.7 1018.4a6.1 6.1 0 1 0 12.2 0a6.1 6.1 0 1 0 -12.2 0zM584.0 1012.1a6.1 6.1 0 1 0 12.2 0a6.1 6.1 0 1 0 -12.2 0zM469.5 1040.3a6.1 6.1 0 1 0 12.2 0a6.1 6.1 0 1 0 -12.2 0zM384.9 1034.1a6.1 6.1 0 1 0 12.2 0a6.1 6.1 0 1 0 -12.2 0zM391.1 1037.2a6.1 6.1 0 1 0 12.2 0a6.1 6.1 0 1 0 -12.2 0zM399.0 1032.5a6.1 6.1 0 1 0 12.2 0a6.1 6.1 0 1 0 -12.2 0zM416.2 1034.1a6.1 6.1 0 1 0 12.2 0a6.1 6.1 0 1 0 -12.2 0zM442.9 1071.7a6.1 6.1 0 1 0 12.2 0a6.1 6.1 0 1 0 -12.2 0zM436.6 1074.8a6.1 6.1 0 1 0 12.2 0a6.1 6.1 0 1 0 -12.2 0zM428.8 1078.0a6.1 6.1 0 1 0 12.2 0a6.1 6.1 0 1 0 -12.2 0zM530.7 1032.5a6.1 6.1 0 1 0 12.2 0a6.1 6.1 0 1 0 -12.2 0zM518.1 1048.2a6.1 6.1 0 1 0 12.2 0a6.1 6.1 0 1 0 -12.2 0zM543.2 1024.7a6.1 6.1 0 1 0 12.2 0a6.1 6.1 0 1 0 -12.2 0zM558.9 1023.1a6.1 6.1 0 1 0 12.2 0a6.1 6.1 0 1 0 -12.2 0zM569.9 1018.4a6.1 6.1 0 1 0 12.2 0a6.1 6.1 0 1 0 -12.2 0zM305.1 1082.9a6.1 6.1 0 1 0 12.2 0a6.1 6.1 0 1 0 -12.2 0zM301.9 1086.4a6.1 6.1 0 1 0 12.2 0a6.1 6.1 0 1 0 -12.2 0zM302.1 1096.2a6.1 6.1 0 1 0 12.2 0a6.1 6.1 0 1 0 -12.2 0zM304.1 1099.3a6.1 6.1 0 1 0 12.2 0a6.1 6.1 0 1 0 -12.2 0zM310.0 1081.9a6.1 6.1 0 1 0 12.2 0a6.1 6.1 0 1 0 -12.2 0zM307.2 1084.7a6.1 6.1 0 1 0 12.2 0a6.1 6.1 0 1 0 -12.2 0zM312.8 1094.7a6.1 6.1 0 1 0 12.2 0a6.1 6.1 0 1 0 -12.2 0zM319.8 1086.1a6.1 6.1 0 1 0 12.2 0a6.1 6.1 0 1 0 -12.2 0zM319.2 1090.6a6.1 6.1 0 1 0 12.2 0a6.1 6.1 0 1 0 -12.2 0zM322.9 1074.8a6.1 6.1 0 1 0 12.2 0a6.1 6.1 0 1 0 -12.2 0zM322.2 1079.7a6.1 6.1 0 1 0 12.2 0a6.1 6.1 0 1 0 -12.2 0zM325.3 1091.8a6.1 6.1 0 1 0 12.2 0a6.1 6.1 0 1 0 -12.2 0zM331.5 1071.3a6.1 6.1 0 1 0 12.2 0a6.1 6.1 0 1 0 -12.2 0zM329.5 1078.0a6.1 6.1 0 1 0 12.2 0a6.1 6.1 0 1 0 -12.2 0zM330.0 1085.0a6.1 6.1 0 1 0 12.2 0a6.1 6.1 0 1 0 -12.2 0zM330.6 1092.5a6.1 6.1 0 1 0 12.2 0a6.1 6.1 0 1 0 -12.2 0zM336.3 1069.9a6.1 6.1 0 1 0 12.2 0a6.1 6.1 0 1 0 -12.2 0zM334.4 1077.3a6.1 6.1 0 1 0 12.2 0a6.1 6.1 0 1 0 -12.2 0zM337.4 1087.6a6.1 6.1 0 1 0 12.2 0a6.1 6.1 0 1 0 -12.2 0zM337.8 1093.9a6.1 6.1 0 1 0 12.2 0a6.1 6.1 0 1 0 -12.2 0zM340.6 1071.6a6.1 6.1 0 1 0 12.2 0a6.1 6.1 0 1 0 -12.2 0zM343.8 1073.9a6.1 6.1 0 1 0 12.2 0a6.1 6.1 0 1 0 -12.2 0zM345.3 1085.1a6.1 6.1 0 1 0 12.2 0a6.1 6.1 0 1 0 -12.2 0zM351.7 1066.8a6.1 6.1 0 1 0 12.2 0a6.1 6.1 0 1 0 -12.2 0zM347.0 1077.2a6.1 6.1 0 1 0 12.2 0a6.1 6.1 0 1 0 -12.2 0zM350.8 1078.7a6.1 6.1 0 1 0 12.2 0a6.1 6.1 0 1 0 -12.2 0zM349.9 1087.7a6.1 6.1 0 1 0 12.2 0a6.1 6.1 0 1 0 -12.2 0zM357.4 1064.6a6.1 6.1 0 1 0 12.2 0a6.1 6.1 0 1 0 -12.2 0zM353.7 1073.3a6.1 6.1 0 1 0 12.2 0a6.1 6.1 0 1 0 -12.2 0zM354.1 1075.8a6.1 6.1 0 1 0 12.2 0a6.1 6.1 0 1 0 -12.2 0zM362.7 1060.6a6.1 6.1 0 1 0 12.2 0a6.1 6.1 0 1 0 -12.2 0zM361.4 1067.4a6.1 6.1 0 1 0 12.2 0a6.1 6.1 0 1 0 -12.2 0zM365.6 1074.1a6.1 6.1 0 1 0 12.2 0a6.1 6.1 0 1 0 -12.2 0zM360.9 1083.7a6.1 6.1 0 1 0 12.2 0a6.1 6.1 0 1 0 -12.2 0zM368.7 1060.7a6.1 6.1 0 1 0 12.2 0a6.1 6.1 0 1 0 -12.2 0zM365.7 1067.0a6.1 6.1 0 1 0 12.2 0a6.1 6.1 0 1 0 -12.2 0zM372.0 1074.7a6.1 6.1 0 1 0 12.2 0a6.1 6.1 0 1 0 -12.2 0zM370.0 1079.8a6.1 6.1 0 1 0 12.2 0a6.1 6.1 0 1 0 -12.2 0zM375.4 1062.2a6.1 6.1 0 1 0 12.2 0a6.1 6.1 0 1 0 -12.2 0zM373.8 1067.3a6.1 6.1 0 1 0 12.2 0a6.1 6.1 0 1 0 -12.2 0zM373.8 1073.1a6.1 6.1 0 1 0 12.2 0a6.1 6.1 0 1 0 -12.2 0zM373.7 1077.7a6.1 6.1 0 1 0 12.2 0a6.1 6.1 0 1 0 -12.2 0zM380.9 1054.6a6.1 6.1 0 1 0 12.2 0a6.1 6.1 0 1 0 -12.2 0zM379.2 1065.7a6.1 6.1 0 1 0 12.2 0a6.1 6.1 0 1 0 -12.2 0zM378.7 1072.3a6.1 6.1 0 1 0 12.2 0a6.1 6.1 0 1 0 -12.2 0zM381.8 1077.4a6.1 6.1 0 1 0 12.2 0a6.1 6.1 0 1 0 -12.2 0zM387.0 1055.1a6.1 6.1 0 1 0 12.2 0a6.1 6.1 0 1 0 -12.2 0zM390.8 1059.5a6.1 6.1 0 1 0 12.2 0a6.1 6.1 0 1 0 -12.2 0zM386.6 1067.3a6.1 6.1 0 1 0 12.2 0a6.1 6.1 0 1 0 -12.2 0zM385.4 1072.6a6.1 6.1 0 1 0 12.2 0a6.1 6.1 0 1 0 -12.2 0zM394.5 1056.0a6.1 6.1 0 1 0 12.2 0a6.1 6.1 0 1 0 -12.2 0zM395.1 1064.1a6.1 6.1 0 1 0 12.2 0a6.1 6.1 0 1 0 -12.2 0zM404.0 1051.8a6.1 6.1 0 1 0 12.2 0a6.1 6.1 0 1 0 -12.2 0zM398.2 1056.4a6.1 6.1 0 1 0 12.2 0a6.1 6.1 0 1 0 -12.2 0zM401.3 1070.2a6.1 6.1 0 1 0 12.2 0a6.1 6.1 0 1 0 -12.2 0zM409.9 1047.6a6.1 6.1 0 1 0 12.2 0a6.1 6.1 0 1 0 -12.2 0zM409.0 1058.8a6.1 6.1 0 1 0 12.2 0a6.1 6.1 0 1 0 -12.2 0zM410.6 1062.1a6.1 6.1 0 1 0 12.2 0a6.1 6.1 0 1 0 -12.2 0zM408.7 1071.2a6.1 6.1 0 1 0 12.2 0a6.1 6.1 0 1 0 -12.2 0zM412.0 1054.2a6.1 6.1 0 1 0 12.2 0a6.1 6.1 0 1 0 -12.2 0zM414.6 1059.2a6.1 6.1 0 1 0 12.2 0a6.1 6.1 0 1 0 -12.2 0zM418.2 1042.6a6.1 6.1 0 1 0 12.2 0a6.1 6.1 0 1 0 -12.2 0zM422.4 1049.4a6.1 6.1 0 1 0 12.2 0a6.1 6.1 0 1 0 -12.2 0zM423.3 1061.7a6.1 6.1 0 1 0 12.2 0a6.1 6.1 0 1 0 -12.2 0zM428.2 1045.6a6.1 6.1 0 1 0 12.2 0a6.1 6.1 0 1 0 -12.2 0zM426.0 1051.7a6.1 6.1 0 1 0 12.2 0a6.1 6.1 0 1 0 -12.2 0zM426.2 1059.7a6.1 6.1 0 1 0 12.2 0a6.1 6.1 0 1 0 -12.2 0zM425.9 1064.8a6.1 6.1 0 1 0 12.2 0a6.1 6.1 0 1 0 -12.2 0zM430.7 1038.4a6.1 6.1 0 1 0 12.2 0a6.1 6.1 0 1 0 -12.2 0zM432.8 1050.8a6.1 6.1 0 1 0 12.2 0a6.1 6.1 0 1 0 -12.2 0zM436.2 1056.8a6.1 6.1 0 1 0 12.2 0a6.1 6.1 0 1 0 -12.2 0zM437.1 1062.7a6.1 6.1 0 1 0 12.2 0a6.1 6.1 0 1 0 -12.2 0zM438.8 1039.2a6.1 6.1 0 1 0 12.2 0a6.1 6.1 0 1 0 -12.2 0zM438.4 1051.6a6.1 6.1 0 1 0 12.2 0a6.1 6.1 0 1 0 -12.2 0zM438.4 1059.4a6.1 6.1 0 1 0 12.2 0a6.1 6.1 0 1 0 -12.2 0zM449.0 1035.4a6.1 6.1 0 1 0 12.2 0a6.1 6.1 0 1 0 -12.2 0zM447.5 1042.7a6.1 6.1 0 1 0 12.2 0a6.1 6.1 0 1 0 -12.2 0zM447.0 1059.1a6.1 6.1 0 1 0 12.2 0a6.1 6.1 0 1 0 -12.2 0zM455.0 1036.4a6.1 6.1 0 1 0 12.2 0a6.1 6.1 0 1 0 -12.2 0zM456.4 1038.8a6.1 6.1 0 1 0 12.2 0a6.1 6.1 0 1 0 -12.2 0zM455.6 1052.7a6.1 6.1 0 1 0 12.2 0a6.1 6.1 0 1 0 -12.2 0zM459.9 1036.2a6.1 6.1 0 1 0 12.2 0a6.1 6.1 0 1 0 -12.2 0zM459.8 1040.6a6.1 6.1 0 1 0 12.2 0a6.1 6.1 0 1 0 -12.2 0zM460.1 1043.2a6.1 6.1 0 1 0 12.2 0a6.1 6.1 0 1 0 -12.2 0zM461.6 1051.9a6.1 6.1 0 1 0 12.2 0a6.1 6.1 0 1 0 -12.2 0zM463.5 1032.7a6.1 6.1 0 1 0 12.2 0a6.1 6.1 0 1 0 -12.2 0zM469.1 1039.5a6.1 6.1 0 1 0 12.2 0a6.1 6.1 0 1 0 -12.2 0zM469.1 1047.2a6.1 6.1 0 1 0 12.2 0a6.1 6.1 0 1 0 -12.2 0zM474.3 1037.0a6.1 6.1 0 1 0 12.2 0a6.1 6.1 0 1 0 -12.2 0zM471.3 1040.0a6.1 6.1 0 1 0 12.2 0a6.1 6.1 0 1 0 -12.2 0zM476.5 1028.3a6.1 6.1 0 1 0 12.2 0a6.1 6.1 0 1 0 -12.2 0zM479.5 1035.7a6.1 6.1 0 1 0 12.2 0a6.1 6.1 0 1 0 -12.2 0zM481.4 1046.9a6.1 6.1 0 1 0 12.2 0a6.1 6.1 0 1 0 -12.2 0zM485.3 1028.2a6.1 6.1 0 1 0 12.2 0a6.1 6.1 0 1 0 -12.2 0zM488.8 1030.8a6.1 6.1 0 1 0 12.2 0a6.1 6.1 0 1 0 -12.2 0zM488.6 1039.6a6.1 6.1 0 1 0 12.2 0a6.1 6.1 0 1 0 -12.2 0zM483.2 1044.7a6.1 6.1 0 1 0 12.2 0a6.1 6.1 0 1 0 -12.2 0zM494.4 1025.2a6.1 6.1 0 1 0 12.2 0a6.1 6.1 0 1 0 -12.2 0zM491.8 1036.8a6.1 6.1 0 1 0 12.2 0a6.1 6.1 0 1 0 -12.2 0zM497.1 1019.1a6.1 6.1 0 1 0 12.2 0a6.1 6.1 0 1 0 -12.2 0zM497.6 1030.9a6.1 6.1 0 1 0 12.2 0a6.1 6.1 0 1 0 -12.2 0zM501.7 1033.0a6.1 6.1 0 1 0 12.2 0a6.1 6.1 0 1 0 -12.2 0zM502.0 1038.2a6.1 6.1 0 1 0 12.2 0a6.1 6.1 0 1 0 -12.2 0zM503.0 1016.5a6.1 6.1 0 1 0 12.2 0a6.1 6.1 0 1 0 -12.2 0zM503.5 1023.6a6.1 6.1 0 1 0 12.2 0a6.1 6.1 0 1 0 -12.2 0zM506.7 1029.4a6.1 6.1 0 1 0 12.2 0a6.1 6.1 0 1 0 -12.2 0zM505.8 1041.3a6.1 6.1 0 1 0 12.2 0a6.1 6.1 0 1 0 -12.2 0zM513.2 1025.8a6.1 6.1 0 1 0 12.2 0a6.1 6.1 0 1 0 -12.2 0zM509.0 1037.6a6.1 6.1 0 1 0 12.2 0a6.1 6.1 0 1 0 -12.2 0zM518.5 1017.2a6.1 6.1 0 1 0 12.2 0a6.1 6.1 0 1 0 -12.2 0zM519.7 1021.3a6.1 6.1 0 1 0 12.2 0a6.1 6.1 0 1 0 -12.2 0zM516.7 1026.9a6.1 6.1 0 1 0 12.2 0a6.1 6.1 0 1 0 -12.2 0zM518.8 1037.5a6.1 6.1 0 1 0 12.2 0a6.1 6.1 0 1 0 -12.2 0zM526.3 1010.7a6.1 6.1 0 1 0 12.2 0a6.1 6.1 0 1 0 -12.2 0zM522.7 1022.1a6.1 6.1 0 1 0 12.2 0a6.1 6.1 0 1 0 -12.2 0zM526.9 1031.0a6.1 6.1 0 1 0 12.2 0a6.1 6.1 0 1 0 -12.2 0zM528.8 1010.9a6.1 6.1 0 1 0 12.2 0a6.1 6.1 0 1 0 -12.2 0zM532.7 1018.3a6.1 6.1 0 1 0 12.2 0a6.1 6.1 0 1 0 -12.2 0zM532.8 1022.6a6.1 6.1 0 1 0 12.2 0a6.1 6.1 0 1 0 -12.2 0zM530.5 1027.6a6.1 6.1 0 1 0 12.2 0a6.1 6.1 0 1 0 -12.2 0zM535.3 1017.7a6.1 6.1 0 1 0 12.2 0a6.1 6.1 0 1 0 -12.2 0zM537.6 1021.8a6.1 6.1 0 1 0 12.2 0a6.1 6.1 0 1 0 -12.2 0zM534.7 1028.9a6.1 6.1 0 1 0 12.2 0a6.1 6.1 0 1 0 -12.2 0zM542.1 1009.9a6.1 6.1 0 1 0 12.2 0a6.1 6.1 0 1 0 -12.2 0zM543.5 1015.4a6.1 6.1 0 1 0 12.2 0a6.1 6.1 0 1 0 -12.2 0zM541.8 1021.9a6.1 6.1 0 1 0 12.2 0a6.1 6.1 0 1 0 -12.2 0zM545.2 1029.7a6.1 6.1 0 1 0 12.2 0a6.1 6.1 0 1 0 -12.2 0zM552.7 1011.7a6.1 6.1 0 1 0 12.2 0a6.1 6.1 0 1 0 -12.2 0zM553.0 1019.0a6.1 6.1 0 1 0 12.2 0a6.1 6.1 0 1 0 -12.2 0zM547.8 1026.7a6.1 6.1 0 1 0 12.2 0a6.1 6.1 0 1 0 -12.2 0zM192.5 1196.4a6.1 6.1 0 1 0 12.2 0a6.1 6.1 0 1 0 -12.2 0z" fill="#000"/>
<line x1="121.4" y1="927.0" x2="121.4" y2="1308.7" stroke="#000" stroke-width="3.6" stroke-linecap="round"/>
<line x1="104.9" y1="1291.7" x2="662.5" y2="1291.7" stroke="#000" stroke-width="3.6" stroke-linecap="round"/>
<line x1="104.9" y1="1171.2" x2="121.4" y2="1171.2" stroke="#000" stroke-width="3.6" stroke-linecap="round"/>
<line x1="104.9" y1="1050.7" x2="121.4" y2="1050.7" stroke="#000" stroke-width="3.6" stroke-linecap="round"/>
<line x1="104.9" y1="930.2" x2="121.4" y2="930.2" stroke="#000" stroke-width="3.6" stroke-linecap="round"/>
<text x="100.9" y="1301.0" font-size="26" font-weight="bold" font-style="normal" text-anchor="end" fill="#000">0</text>
<text x="100.9" y="1180.5" font-size="26" font-weight="bold" font-style="normal" text-anchor="end" fill="#000">5</text>
<text x="100.9" y="1060.0" font-size="26" font-weight="bold" font-style="normal" text-anchor="end" fill="#000">10</text>
<text x="100.9" y="939.5" font-size="26" font-weight="bold" font-style="normal" text-anchor="end" fill="#000">15</text>
<line x1="229.4" y1="1291.7" x2="229.4" y2="1308.7" stroke="#000" stroke-width="3.6" stroke-linecap="round"/>
<line x1="337.4" y1="1291.7" x2="337.4" y2="1308.7" stroke="#000" stroke-width="3.6" stroke-linecap="round"/>
<line x1="445.4" y1="1291.7" x2="445.4" y2="1308.7" stroke="#000" stroke-width="3.6" stroke-linecap="round"/>
<line x1="553.4" y1="1291.7" x2="553.4" y2="1308.7" stroke="#000" stroke-width="3.6" stroke-linecap="round"/>
<line x1="661.4" y1="1291.7" x2="661.4" y2="1308.7" stroke="#000" stroke-width="3.6" stroke-linecap="round"/>
<text x="121.4" y="1337.7" font-size="26" font-weight="bold" font-style="normal" text-anchor="middle" fill="#000">0</text>
<text x="229.4" y="1337.7" font-size="26" font-weight="bold" font-style="normal" text-anchor="middle" fill="#000">2</text>
<text x="337.4" y="1337.7" font-size="26" font-weight="bold" font-style="normal" text-anchor="middle" fill="#000">4</text>
<text x="445.4" y="1337.7" font-size="26" font-weight="bold" font-style="normal" text-anchor="middle" fill="#000">6</text>
<text x="553.4" y="1337.7" font-size="26" font-weight="bold" font-style="normal" text-anchor="middle" fill="#000">8</text>
<text x="661.4" y="1337.7" font-size="26" font-weight="bold" font-style="normal" text-anchor="middle" fill="#000">10</text>
<text x="52.1" y="1144.2" font-size="36.8" font-weight="bold" font-style="italic" text-anchor="start" fill="#000" transform="rotate(-90 52.1 1144.2)" textLength="68.5" lengthAdjust="spacingAndGlyphs">CD4</text>
<text x="350.6" y="1386.3" font-size="37" font-weight="bold" font-style="italic" text-anchor="start" fill="#000" textLength="86.2" lengthAdjust="spacingAndGlyphs">TLR8</text>
<text x="149.3" y="954.8" font-size="30.6" font-weight="normal" font-style="normal" text-anchor="start" fill="#000" textLength="98.6" lengthAdjust="spacingAndGlyphs">r<tspan font-size="22.5" dy="-13.3">2</tspan><tspan dy="13.3">=0.76</tspan></text>
<text x="148.4" y="988.7" font-size="30.6" font-weight="normal" font-style="normal" text-anchor="start" fill="#000" textLength="123.0" lengthAdjust="spacingAndGlyphs"><tspan font-style="italic">p</tspan>&lt;0.0001</text>
<text x="723.0" y="908.5" font-size="47" font-weight="bold" font-style="normal" text-anchor="start" fill="#000" textLength="22.0" lengthAdjust="spacingAndGlyphs">E</text>
<line x1="840.7" y1="1212.8" x2="1291.5" y2="1049.8" stroke="#000" stroke-width="2.2" stroke-linecap="round"/>
<path d="M910.0 1174.3a6.1 6.1 0 1 0 12.2 0a6.1 6.1 0 1 0 -12.2 0zM916.5 1164.1a6.1 6.1 0 1 0 12.2 0a6.1 6.1 0 1 0 -12.2 0zM913.3 1182.0a6.1 6.1 0 1 0 12.2 0a6.1 6.1 0 1 0 -12.2 0zM921.8 1166.2a6.1 6.1 0 1 0 12.2 0a6.1 6.1 0 1 0 -12.2 0zM934.1 1161.2a6.1 6.1 0 1 0 12.2 0a6.1 6.1 0 1 0 -12.2 0zM928.5 1168.9a6.1 6.1 0 1 0 12.2 0a6.1 6.1 0 1 0 -12.2 0zM932.0 1186.3a6.1 6.1 0 1 0 12.2 0a6.1 6.1 0 1 0 -12.2 0zM935.6 1164.8a6.1 6.1 0 1 0 12.2 0a6.1 6.1 0 1 0 -12.2 0zM953.3 1198.9a6.1 6.1 0 1 0 12.2 0a6.1 6.1 0 1 0 -12.2 0zM961.3 1144.0a6.1 6.1 0 1 0 12.2 0a6.1 6.1 0 1 0 -12.2 0zM970.4 1196.6a6.1 6.1 0 1 0 12.2 0a6.1 6.1 0 1 0 -12.2 0zM976.1 1173.5a6.1 6.1 0 1 0 12.2 0a6.1 6.1 0 1 0 -12.2 0zM973.1 1185.5a6.1 6.1 0 1 0 12.2 0a6.1 6.1 0 1 0 -12.2 0zM974.5 1190.2a6.1 6.1 0 1 0 12.2 0a6.1 6.1 0 1 0 -12.2 0zM983.5 1139.2a6.1 6.1 0 1 0 12.2 0a6.1 6.1 0 1 0 -12.2 0zM989.0 1128.3a6.1 6.1 0 1 0 12.2 0a6.1 6.1 0 1 0 -12.2 0zM991.3 1138.5a6.1 6.1 0 1 0 12.2 0a6.1 6.1 0 1 0 -12.2 0zM990.8 1151.9a6.1 6.1 0 1 0 12.2 0a6.1 6.1 0 1 0 -12.2 0zM995.6 1124.5a6.1 6.1 0 1 0 12.2 0a6.1 6.1 0 1 0 -12.2 0zM1001.7 1131.2a6.1 6.1 0 1 0 12.2 0a6.1 6.1 0 1 0 -12.2 0zM998.1 1133.5a6.1 6.1 0 1 0 12.2 0a6.1 6.1 0 1 0 -12.2 0zM995.6 1140.8a6.1 6.1 0 1 0 12.2 0a6.1 6.1 0 1 0 -12.2 0zM996.4 1150.3a6.1 6.1 0 1 0 12.2 0a6.1 6.1 0 1 0 -12.2 0zM995.2 1156.4a6.1 6.1 0 1 0 12.2 0a6.1 6.1 0 1 0 -12.2 0zM997.9 1162.9a6.1 6.1 0 1 0 12.2 0a6.1 6.1 0 1 0 -12.2 0zM1004.5 1102.4a6.1 6.1 0 1 0 12.2 0a6.1 6.1 0 1 0 -12.2 0zM1003.6 1113.6a6.1 6.1 0 1 0 12.2 0a6.1 6.1 0 1 0 -12.2 0zM1006.3 1122.9a6.1 6.1 0 1 0 12.2 0a6.1 6.1 0 1 0 -12.2 0zM1005.2 1131.7a6.1 6.1 0 1 0 12.2 0a6.1 6.1 0 1 0 -12.2 0zM1002.8 1151.9a6.1 6.1 0 1 0 12.2 0a6.1 6.1 0 1 0 -12.2 0zM1003.7 1156.3a6.1 6.1 0 1 0 12.2 0a6.1 6.1 0 1 0 -12.2 0zM1006.6 1167.1a6.1 6.1 0 1 0 12.2 0a6.1 6.1 0 1 0 -12.2 0zM1004.6 1177.5a6.1 6.1 0 1 0 12.2 0a6.1 6.1 0 1 0 -12.2 0zM1008.4 1186.2a6.1 6.1 0 1 0 12.2 0a6.1 6.1 0 1 0 -12.2 0zM1011.8 1099.8a6.1 6.1 0 1 0 12.2 0a6.1 6.1 0 1 0 -12.2 0zM1011.9 1135.1a6.1 6.1 0 1 0 12.2 0a6.1 6.1 0 1 0 -12.2 0zM1010.4 1139.0a6.1 6.1 0 1 0 12.2 0a6.1 6.1 0 1 0 -12.2 0zM1012.1 1151.4a6.1 6.1 0 1 0 12.2 0a6.1 6.1 0 1 0 -12.2 0zM1017.2 1168.7a6.1 6.1 0 1 0 12.2 0a6.1 6.1 0 1 0 -12.2 0zM1011.8 1178.0a6.1 6.1 0 1 0 12.2 0a6.1 6.1 0 1 0 -12.2 0zM1011.7 1188.4a6.1 6.1 0 1 0 12.2 0a6.1 6.1 0 1 0 -12.2 0zM1022.5 1101.6a6.1 6.1 0 1 0 12.2 0a6.1 6.1 0 1 0 -12.2 0zM1022.6 1109.9a6.1 6.1 0 1 0 12.2 0a6.1 6.1 0 1 0 -12.2 0zM1023.3 1114.2a6.1 6.1 0 1 0 12.2 0a6.1 6.1 0 1 0 -12.2 0zM1023.6 1120.6a6.1 6.1 0 1 0 12.2 0a6.1 6.1 0 1 0 -12.2 0zM1020.7 1147.7a6.1 6.1 0 1 0 12.2 0a6.1 6.1 0 1 0 -12.2 0zM1018.9 1149.1a6.1 6.1 0 1 0 12.2 0a6.1 6.1 0 1 0 -12.2 0zM1024.4 1161.7a6.1 6.1 0 1 0 12.2 0a6.1 6.1 0 1 0 -12.2 0zM1023.8 1170.5a6.1 6.1 0 1 0 12.2 0a6.1 6.1 0 1 0 -12.2 0zM1020.3 1174.7a6.1 6.1 0 1 0 12.2 0a6.1 6.1 0 1 0 -12.2 0zM1017.8 1185.4a6.1 6.1 0 1 0 12.2 0a6.1 6.1 0 1 0 -12.2 0zM1032.2 1085.8a6.1 6.1 0 1 0 12.2 0a6.1 6.1 0 1 0 -12.2 0zM1027.0 1107.2a6.1 6.1 0 1 0 12.2 0a6.1 6.1 0 1 0 -12.2 0zM1029.5 1114.4a6.1 6.1 0 1 0 12.2 0a6.1 6.1 0 1 0 -12.2 0zM1026.1 1126.8a6.1 6.1 0 1 0 12.2 0a6.1 6.1 0 1 0 -12.2 0zM1028.6 1131.9a6.1 6.1 0 1 0 12.2 0a6.1 6.1 0 1 0 -12.2 0zM1032.0 1146.3a6.1 6.1 0 1 0 12.2 0a6.1 6.1 0 1 0 -12.2 0zM1029.1 1150.1a6.1 6.1 0 1 0 12.2 0a6.1 6.1 0 1 0 -12.2 0zM1026.5 1157.5a6.1 6.1 0 1 0 12.2 0a6.1 6.1 0 1 0 -12.2 0zM1026.4 1168.6a6.1 6.1 0 1 0 12.2 0a6.1 6.1 0 1 0 -12.2 0zM1029.3 1174.9a6.1 6.1 0 1 0 12.2 0a6.1 6.1 0 1 0 -12.2 0zM1029.3 1185.9a6.1 6.1 0 1 0 12.2 0a6.1 6.1 0 1 0 -12.2 0zM1036.9 1073.7a6.1 6.1 0 1 0 12.2 0a6.1 6.1 0 1 0 -12.2 0zM1038.4 1083.2a6.1 6.1 0 1 0 12.2 0a6.1 6.1 0 1 0 -12.2 0zM1038.3 1093.7a6.1 6.1 0 1 0 12.2 0a6.1 6.1 0 1 0 -12.2 0zM1037.2 1098.2a6.1 6.1 0 1 0 12.2 0a6.1 6.1 0 1 0 -12.2 0zM1037.8 1105.3a6.1 6.1 0 1 0 12.2 0a6.1 6.1 0 1 0 -12.2 0zM1036.2 1116.4a6.1 6.1 0 1 0 12.2 0a6.1 6.1 0 1 0 -12.2 0zM1039.2 1123.9a6.1 6.1 0 1 0 12.2 0a6.1 6.1 0 1 0 -12.2 0zM1036.8 1131.4a6.1 6.1 0 1 0 12.2 0a6.1 6.1 0 1 0 -12.2 0zM1033.6 1142.7a6.1 6.1 0 1 0 12.2 0a6.1 6.1 0 1 0 -12.2 0zM1034.5 1147.4a6.1 6.1 0 1 0 12.2 0a6.1 6.1 0 1 0 -12.2 0zM1038.5 1161.1a6.1 6.1 0 1 0 12.2 0a6.1 6.1 0 1 0 -12.2 0zM1038.0 1166.8a6.1 6.1 0 1 0 12.2 0a6.1 6.1 0 1 0 -12.2 0zM1039.3 1176.6a6.1 6.1 0 1 0 12.2 0a6.1 6.1 0 1 0 -12.2 0zM1039.8 1179.9a6.1 6.1 0 1 0 12.2 0a6.1 6.1 0 1 0 -12.2 0zM1047.6 1080.0a6.1 6.1 0 1 0 12.2 0a6.1 6.1 0 1 0 -12.2 0zM1043.4 1085.1a6.1 6.1 0 1 0 12.2 0a6.1 6.1 0 1 0 -12.2 0zM1041.6 1091.1a6.1 6.1 0 1 0 12.2 0a6.1 6.1 0 1 0 -12.2 0zM1040.3 1100.4a6.1 6.1 0 1 0 12.2 0a6.1 6.1 0 1 0 -12.2 0zM1040.3 1106.2a6.1 6.1 0 1 0 12.2 0a6.1 6.1 0 1 0 -12.2 0zM1044.0 1111.7a6.1 6.1 0 1 0 12.2 0a6.1 6.1 0 1 0 -12.2 0zM1047.4 1127.0a6.1 6.1 0 1 0 12.2 0a6.1 6.1 0 1 0 -12.2 0zM1040.4 1139.6a6.1 6.1 0 1 0 12.2 0a6.1 6.1 0 1 0 -12.2 0zM1041.1 1144.4a6.1 6.1 0 1 0 12.2 0a6.1 6.1 0 1 0 -12.2 0zM1041.3 1170.6a6.1 6.1 0 1 0 12.2 0a6.1 6.1 0 1 0 -12.2 0zM1045.4 1171.9a6.1 6.1 0 1 0 12.2 0a6.1 6.1 0 1 0 -12.2 0zM1052.8 1078.8a6.1 6.1 0 1 0 12.2 0a6.1 6.1 0 1 0 -12.2 0zM1054.7 1087.9a6.1 6.1 0 1 0 12.2 0a6.1 6.1 0 1 0 -12.2 0zM1054.1 1098.6a6.1 6.1 0 1 0 12.2 0a6.1 6.1 0 1 0 -12.2 0zM1050.2 1117.3a6.1 6.1 0 1 0 12.2 0a6.1 6.1 0 1 0 -12.2 0zM1048.6 1132.1a6.1 6.1 0 1 0 12.2 0a6.1 6.1 0 1 0 -12.2 0zM1048.5 1136.8a6.1 6.1 0 1 0 12.2 0a6.1 6.1 0 1 0 -12.2 0zM1049.2 1145.5a6.1 6.1 0 1 0 12.2 0a6.1 6.1 0 1 0 -12.2 0zM1053.3 1152.8a6.1 6.1 0 1 0 12.2 0a6.1 6.1 0 1 0 -12.2 0zM1049.0 1160.7a6.1 6.1 0 1 0 12.2 0a6.1 6.1 0 1 0 -12.2 0zM1049.5 1165.7a6.1 6.1 0 1 0 12.2 0a6.1 6.1 0 1 0 -12.2 0zM1056.6 1080.3a6.1 6.1 0 1 0 12.2 0a6.1 6.1 0 1 0 -12.2 0zM1061.3 1095.0a6.1 6.1 0 1 0 12.2 0a6.1 6.1 0 1 0 -12.2 0zM1061.4 1102.2a6.1 6.1 0 1 0 12.2 0a6.1 6.1 0 1 0 -12.2 0zM1060.3 1114.1a6.1 6.1 0 1 0 12.2 0a6.1 6.1 0 1 0 -12.2 0zM1061.4 1119.6a6.1 6.1 0 1 0 12.2 0a6.1 6.1 0 1 0 -12.2 0zM1058.2 1124.4a6.1 6.1 0 1 0 12.2 0a6.1 6.1 0 1 0 -12.2 0zM1056.1 1129.8a6.1 6.1 0 1 0 12.2 0a6.1 6.1 0 1 0 -12.2 0zM1057.1 1138.0a6.1 6.1 0 1 0 12.2 0a6.1 6.1 0 1 0 -12.2 0zM1061.5 1150.8a6.1 6.1 0 1 0 12.2 0a6.1 6.1 0 1 0 -12.2 0zM1057.3 1153.6a6.1 6.1 0 1 0 12.2 0a6.1 6.1 0 1 0 -12.2 0zM1058.6 1160.4a6.1 6.1 0 1 0 12.2 0a6.1 6.1 0 1 0 -12.2 0zM1057.1 1174.0a6.1 6.1 0 1 0 12.2 0a6.1 6.1 0 1 0 -12.2 0zM1064.5 1092.2a6.1 6.1 0 1 0 12.2 0a6.1 6.1 0 1 0 -12.2 0zM1065.3 1092.5a6.1 6.1 0 1 0 12.2 0a6.1 6.1 0 1 0 -12.2 0zM1066.2 1103.8a6.1 6.1 0 1 0 12.2 0a6.1 6.1 0 1 0 -12.2 0zM1066.4 1107.5a6.1 6.1 0 1 0 12.2 0a6.1 6.1 0 1 0 -12.2 0zM1063.3 1118.0a6.1 6.1 0 1 0 12.2 0a6.1 6.1 0 1 0 -12.2 0zM1062.8 1124.8a6.1 6.1 0 1 0 12.2 0a6.1 6.1 0 1 0 -12.2 0zM1067.0 1134.0a6.1 6.1 0 1 0 12.2 0a6.1 6.1 0 1 0 -12.2 0zM1067.6 1142.9a6.1 6.1 0 1 0 12.2 0a6.1 6.1 0 1 0 -12.2 0zM1065.1 1159.9a6.1 6.1 0 1 0 12.2 0a6.1 6.1 0 1 0 -12.2 0zM1068.1 1164.8a6.1 6.1 0 1 0 12.2 0a6.1 6.1 0 1 0 -12.2 0zM1068.9 1174.2a6.1 6.1 0 1 0 12.2 0a6.1 6.1 0 1 0 -12.2 0zM1076.2 1086.8a6.1 6.1 0 1 0 12.2 0a6.1 6.1 0 1 0 -12.2 0zM1073.9 1099.5a6.1 6.1 0 1 0 12.2 0a6.1 6.1 0 1 0 -12.2 0zM1076.8 1120.9a6.1 6.1 0 1 0 12.2 0a6.1 6.1 0 1 0 -12.2 0zM1071.9 1123.5a6.1 6.1 0 1 0 12.2 0a6.1 6.1 0 1 0 -12.2 0zM1072.9 1131.5a6.1 6.1 0 1 0 12.2 0a6.1 6.1 0 1 0 -12.2 0zM1074.9 1150.4a6.1 6.1 0 1 0 12.2 0a6.1 6.1 0 1 0 -12.2 0zM1073.8 1153.3a6.1 6.1 0 1 0 12.2 0a6.1 6.1 0 1 0 -12.2 0zM1075.8 1164.5a6.1 6.1 0 1 0 12.2 0a6.1 6.1 0 1 0 -12.2 0zM1075.1 1168.7a6.1 6.1 0 1 0 12.2 0a6.1 6.1 0 1 0 -12.2 0zM1078.2 1084.7a6.1 6.1 0 1 0 12.2 0a6.1 6.1 0 1 0 -12.2 0zM1079.2 1095.8a6.1 6.1 0 1 0 12.2 0a6.1 6.1 0 1 0 -12.2 0zM1080.5 1108.8a6.1 6.1 0 1 0 12.2 0a6.1 6.1 0 1 0 -12.2 0zM1083.4 1117.4a6.1 6.1 0 1 0 12.2 0a6.1 6.1 0 1 0 -12.2 0zM1078.2 1121.4a6.1 6.1 0 1 0 12.2 0a6.1 6.1 0 1 0 -12.2 0zM1083.2 1130.0a6.1 6.1 0 1 0 12.2 0a6.1 6.1 0 1 0 -12.2 0zM1077.7 1135.7a6.1 6.1 0 1 0 12.2 0a6.1 6.1 0 1 0 -12.2 0zM1082.7 1147.9a6.1 6.1 0 1 0 12.2 0a6.1 6.1 0 1 0 -12.2 0zM1079.8 1154.1a6.1 6.1 0 1 0 12.2 0a6.1 6.1 0 1 0 -12.2 0zM1081.1 1158.6a6.1 6.1 0 1 0 12.2 0a6.1 6.1 0 1 0 -12.2 0zM1092.5 1079.3a6.1 6.1 0 1 0 12.2 0a6.1 6.1 0 1 0 -12.2 0zM1088.6 1085.9a6.1 6.1 0 1 0 12.2 0a6.1 6.1 0 1 0 -12.2 0zM1087.2 1096.3a6.1 6.1 0 1 0 12.2 0a6.1 6.1 0 1 0 -12.2 0zM1089.5 1110.8a6.1 6.1 0 1 0 12.2 0a6.1 6.1 0 1 0 -12.2 0zM1092.3 1118.2a6.1 6.1 0 1 0 12.2 0a6.1 6.1 0 1 0 -12.2 0zM1091.8 1137.5a6.1 6.1 0 1 0 12.2 0a6.1 6.1 0 1 0 -12.2 0zM1091.9 1143.4a6.1 6.1 0 1 0 12.2 0a6.1 6.1 0 1 0 -12.2 0zM1085.2 1150.9a6.1 6.1 0 1 0 12.2 0a6.1 6.1 0 1 0 -12.2 0zM1087.4 1155.8a6.1 6.1 0 1 0 12.2 0a6.1 6.1 0 1 0 -12.2 0zM1087.5 1168.6a6.1 6.1 0 1 0 12.2 0a6.1 6.1 0 1 0 -12.2 0zM1098.3 1076.0a6.1 6.1 0 1 0 12.2 0a6.1 6.1 0 1 0 -12.2 0zM1099.6 1082.6a6.1 6.1 0 1 0 12.2 0a6.1 6.1 0 1 0 -12.2 0zM1095.4 1095.2a6.1 6.1 0 1 0 12.2 0a6.1 6.1 0 1 0 -12.2 0zM1095.4 1110.5a6.1 6.1 0 1 0 12.2 0a6.1 6.1 0 1 0 -12.2 0zM1093.0 1115.5a6.1 6.1 0 1 0 12.2 0a6.1 6.1 0 1 0 -12.2 0zM1099.7 1131.6a6.1 6.1 0 1 0 12.2 0a6.1 6.1 0 1 0 -12.2 0zM1096.5 1138.7a6.1 6.1 0 1 0 12.2 0a6.1 6.1 0 1 0 -12.2 0zM1099.8 1151.4a6.1 6.1 0 1 0 12.2 0a6.1 6.1 0 1 0 -12.2 0zM1105.5 1083.6a6.1 6.1 0 1 0 12.2 0a6.1 6.1 0 1 0 -12.2 0zM1103.5 1096.4a6.1 6.1 0 1 0 12.2 0a6.1 6.1 0 1 0 -12.2 0zM1102.3 1098.6a6.1 6.1 0 1 0 12.2 0a6.1 6.1 0 1 0 -12.2 0zM1103.7 1115.8a6.1 6.1 0 1 0 12.2 0a6.1 6.1 0 1 0 -12.2 0zM1105.7 1128.1a6.1 6.1 0 1 0 12.2 0a6.1 6.1 0 1 0 -12.2 0zM1105.1 1130.5a6.1 6.1 0 1 0 12.2 0a6.1 6.1 0 1 0 -12.2 0zM1103.1 1137.0a6.1 6.1 0 1 0 12.2 0a6.1 6.1 0 1 0 -12.2 0zM1101.7 1150.0a6.1 6.1 0 1 0 12.2 0a6.1 6.1 0 1 0 -12.2 0zM1101.8 1157.5a6.1 6.1 0 1 0 12.2 0a6.1 6.1 0 1 0 -12.2 0zM1108.7 1068.2a6.1 6.1 0 1 0 12.2 0a6.1 6.1 0 1 0 -12.2 0zM1110.2 1074.9a6.1 6.1 0 1 0 12.2 0a6.1 6.1 0 1 0 -12.2 0zM1109.6 1086.0a6.1 6.1 0 1 0 12.2 0a6.1 6.1 0 1 0 -12.2 0zM1110.7 1099.9a6.1 6.1 0 1 0 12.2 0a6.1 6.1 0 1 0 -12.2 0zM1110.5 1106.8a6.1 6.1 0 1 0 12.2 0a6.1 6.1 0 1 0 -12.2 0zM1109.7 1119.0a6.1 6.1 0 1 0 12.2 0a6.1 6.1 0 1 0 -12.2 0zM1111.4 1124.0a6.1 6.1 0 1 0 12.2 0a6.1 6.1 0 1 0 -12.2 0zM1109.7 1136.1a6.1 6.1 0 1 0 12.2 0a6.1 6.1 0 1 0 -12.2 0zM1111.0 1148.9a6.1 6.1 0 1 0 12.2 0a6.1 6.1 0 1 0 -12.2 0zM1115.4 1079.1a6.1 6.1 0 1 0 12.2 0a6.1 6.1 0 1 0 -12.2 0zM1119.6 1088.8a6.1 6.1 0 1 0 12.2 0a6.1 6.1 0 1 0 -12.2 0zM1122.1 1102.4a6.1 6.1 0 1 0 12.2 0a6.1 6.1 0 1 0 -12.2 0zM1116.0 1119.9a6.1 6.1 0 1 0 12.2 0a6.1 6.1 0 1 0 -12.2 0zM1120.3 1133.3a6.1 6.1 0 1 0 12.2 0a6.1 6.1 0 1 0 -12.2 0zM1120.0 1139.5a6.1 6.1 0 1 0 12.2 0a6.1 6.1 0 1 0 -12.2 0zM1119.3 1141.5a6.1 6.1 0 1 0 12.2 0a6.1 6.1 0 1 0 -12.2 0zM1129.5 1071.1a6.1 6.1 0 1 0 12.2 0a6.1 6.1 0 1 0 -12.2 0zM1123.6 1075.6a6.1 6.1 0 1 0 12.2 0a6.1 6.1 0 1 0 -12.2 0zM1127.9 1082.1a6.1 6.1 0 1 0 12.2 0a6.1 6.1 0 1 0 -12.2 0zM1126.6 1093.1a6.1 6.1 0 1 0 12.2 0a6.1 6.1 0 1 0 -12.2 0zM1124.3 1100.8a6.1 6.1 0 1 0 12.2 0a6.1 6.1 0 1 0 -12.2 0zM1124.9 1107.2a6.1 6.1 0 1 0 12.2 0a6.1 6.1 0 1 0 -12.2 0zM1129.3 1122.3a6.1 6.1 0 1 0 12.2 0a6.1 6.1 0 1 0 -12.2 0zM1124.5 1133.5a6.1 6.1 0 1 0 12.2 0a6.1 6.1 0 1 0 -12.2 0zM1125.0 1133.9a6.1 6.1 0 1 0 12.2 0a6.1 6.1 0 1 0 -12.2 0zM1127.7 1144.4a6.1 6.1 0 1 0 12.2 0a6.1 6.1 0 1 0 -12.2 0zM1127.7 1155.7a6.1 6.1 0 1 0 12.2 0a6.1 6.1 0 1 0 -12.2 0zM1130.4 1068.8a6.1 6.1 0 1 0 12.2 0a6.1 6.1 0 1 0 -12.2 0zM1135.3 1075.2a6.1 6.1 0 1 0 12.2 0a6.1 6.1 0 1 0 -12.2 0zM1135.7 1085.0a6.1 6.1 0 1 0 12.2 0a6.1 6.1 0 1 0 -12.2 0zM1137.4 1091.1a6.1 6.1 0 1 0 12.2 0a6.1 6.1 0 1 0 -12.2 0zM1131.8 1109.5a6.1 6.1 0 1 0 12.2 0a6.1 6.1 0 1 0 -12.2 0zM1137.3 1115.0a6.1 6.1 0 1 0 12.2 0a6.1 6.1 0 1 0 -12.2 0zM1131.8 1121.9a6.1 6.1 0 1 0 12.2 0a6.1 6.1 0 1 0 -12.2 0zM1137.3 1127.3a6.1 6.1 0 1 0 12.2 0a6.1 6.1 0 1 0 -12.2 0zM1131.7 1141.1a6.1 6.1 0 1 0 12.2 0a6.1 6.1 0 1 0 -12.2 0zM1130.5 1141.7a6.1 6.1 0 1 0 12.2 0a6.1 6.1 0 1 0 -12.2 0zM1144.4 1069.9a6.1 6.1 0 1 0 12.2 0a6.1 6.1 0 1 0 -12.2 0zM1145.1 1077.7a6.1 6.1 0 1 0 12.2 0a6.1 6.1 0 1 0 -12.2 0zM1139.0 1085.3a6.1 6.1 0 1 0 12.2 0a6.1 6.1 0 1 0 -12.2 0zM1137.9 1090.7a6.1 6.1 0 1 0 12.2 0a6.1 6.1 0 1 0 -12.2 0zM1140.5 1095.7a6.1 6.1 0 1 0 12.2 0a6.1 6.1 0 1 0 -12.2 0zM1137.7 1102.8a6.1 6.1 0 1 0 12.2 0a6.1 6.1 0 1 0 -12.2 0zM1144.8 1109.2a6.1 6.1 0 1 0 12.2 0a6.1 6.1 0 1 0 -12.2 0zM1140.3 1129.4a6.1 6.1 0 1 0 12.2 0a6.1 6.1 0 1 0 -12.2 0zM1138.0 1141.8a6.1 6.1 0 1 0 12.2 0a6.1 6.1 0 1 0 -12.2 0zM1152.0 1061.7a6.1 6.1 0 1 0 12.2 0a6.1 6.1 0 1 0 -12.2 0zM1151.9 1068.0a6.1 6.1 0 1 0 12.2 0a6.1 6.1 0 1 0 -12.2 0zM1151.2 1081.0a6.1 6.1 0 1 0 12.2 0a6.1 6.1 0 1 0 -12.2 0zM1145.4 1083.2a6.1 6.1 0 1 0 12.2 0a6.1 6.1 0 1 0 -12.2 0zM1150.8 1104.5a6.1 6.1 0 1 0 12.2 0a6.1 6.1 0 1 0 -12.2 0zM1147.2 1112.4a6.1 6.1 0 1 0 12.2 0a6.1 6.1 0 1 0 -12.2 0zM1147.1 1118.1a6.1 6.1 0 1 0 12.2 0a6.1 6.1 0 1 0 -12.2 0zM1147.2 1120.3a6.1 6.1 0 1 0 12.2 0a6.1 6.1 0 1 0 -12.2 0zM1154.4 1085.1a6.1 6.1 0 1 0 12.2 0a6.1 6.1 0 1 0 -12.2 0zM1155.9 1115.2a6.1 6.1 0 1 0 12.2 0a6.1 6.1 0 1 0 -12.2 0zM1166.2 1066.8a6.1 6.1 0 1 0 12.2 0a6.1 6.1 0 1 0 -12.2 0zM1162.5 1094.0a6.1 6.1 0 1 0 12.2 0a6.1 6.1 0 1 0 -12.2 0zM1161.6 1111.9a6.1 6.1 0 1 0 12.2 0a6.1 6.1 0 1 0 -12.2 0zM1168.1 1063.8a6.1 6.1 0 1 0 12.2 0a6.1 6.1 0 1 0 -12.2 0zM1175.0 1085.1a6.1 6.1 0 1 0 12.2 0a6.1 6.1 0 1 0 -12.2 0zM1168.3 1094.2a6.1 6.1 0 1 0 12.2 0a6.1 6.1 0 1 0 -12.2 0zM1178.3 1083.4a6.1 6.1 0 1 0 12.2 0a6.1 6.1 0 1 0 -12.2 0zM1189.0 1080.2a6.1 6.1 0 1 0 12.2 0a6.1 6.1 0 1 0 -12.2 0zM1192.0 1071.6a6.1 6.1 0 1 0 12.2 0a6.1 6.1 0 1 0 -12.2 0zM1196.8 1081.6a6.1 6.1 0 1 0 12.2 0a6.1 6.1 0 1 0 -12.2 0zM1193.1 1092.2a6.1 6.1 0 1 0 12.2 0a6.1 6.1 0 1 0 -12.2 0zM1203.7 1064.9a6.1 6.1 0 1 0 12.2 0a6.1 6.1 0 1 0 -12.2 0zM1201.2 1081.1a6.1 6.1 0 1 0 12.2 0a6.1 6.1 0 1 0 -12.2 0zM1207.4 1058.6a6.1 6.1 0 1 0 12.2 0a6.1 6.1 0 1 0 -12.2 0zM1212.4 1069.6a6.1 6.1 0 1 0 12.2 0a6.1 6.1 0 1 0 -12.2 0zM1218.5 1078.8a6.1 6.1 0 1 0 12.2 0a6.1 6.1 0 1 0 -12.2 0zM1217.1 1083.9a6.1 6.1 0 1 0 12.2 0a6.1 6.1 0 1 0 -12.2 0zM1222.9 1059.3a6.1 6.1 0 1 0 12.2 0a6.1 6.1 0 1 0 -12.2 0zM1222.1 1070.2a6.1 6.1 0 1 0 12.2 0a6.1 6.1 0 1 0 -12.2 0zM1227.7 1062.2a6.1 6.1 0 1 0 12.2 0a6.1 6.1 0 1 0 -12.2 0zM1230.0 1076.3a6.1 6.1 0 1 0 12.2 0a6.1 6.1 0 1 0 -12.2 0zM1072.3 1020.0a6.1 6.1 0 1 0 12.2 0a6.1 6.1 0 1 0 -12.2 0zM1064.3 1052.3a6.1 6.1 0 1 0 12.2 0a6.1 6.1 0 1 0 -12.2 0zM1088.3 1058.5a6.1 6.1 0 1 0 12.2 0a6.1 6.1 0 1 0 -12.2 0zM1059.0 1065.9a6.1 6.1 0 1 0 12.2 0a6.1 6.1 0 1 0 -12.2 0zM1068.9 1062.9a6.1 6.1 0 1 0 12.2 0a6.1 6.1 0 1 0 -12.2 0zM1033.8 1063.9a6.1 6.1 0 1 0 12.2 0a6.1 6.1 0 1 0 -12.2 0zM1021.8 1066.9a6.1 6.1 0 1 0 12.2 0a6.1 6.1 0 1 0 -12.2 0zM984.9 1077.2a6.1 6.1 0 1 0 12.2 0a6.1 6.1 0 1 0 -12.2 0zM1017.5 1076.8a6.1 6.1 0 1 0 12.2 0a6.1 6.1 0 1 0 -12.2 0zM1031.4 1073.8a6.1 6.1 0 1 0 12.2 0a6.1 6.1 0 1 0 -12.2 0zM1013.5 1083.4a6.1 6.1 0 1 0 12.2 0a6.1 6.1 0 1 0 -12.2 0zM1028.4 1081.8a6.1 6.1 0 1 0 12.2 0a6.1 6.1 0 1 0 -12.2 0zM1065.7 1078.8a6.1 6.1 0 1 0 12.2 0a6.1 6.1 0 1 0 -12.2 0zM1079.3 1080.8a6.1 6.1 0 1 0 12.2 0a6.1 6.1 0 1 0 -12.2 0zM997.5 1090.2a6.1 6.1 0 1 0 12.2 0a6.1 6.1 0 1 0 -12.2 0zM1014.5 1093.8a6.1 6.1 0 1 0 12.2 0a6.1 6.1 0 1 0 -12.2 0zM1035.4 1088.8a6.1 6.1 0 1 0 12.2 0a6.1 6.1 0 1 0 -12.2 0zM1041.4 1092.2a6.1 6.1 0 1 0 12.2 0a6.1 6.1 0 1 0 -12.2 0zM1056.4 1094.8a6.1 6.1 0 1 0 12.2 0a6.1 6.1 0 1 0 -12.2 0zM968.0 1097.8a6.1 6.1 0 1 0 12.2 0a6.1 6.1 0 1 0 -12.2 0zM949.0 1102.8a6.1 6.1 0 1 0 12.2 0a6.1 6.1 0 1 0 -12.2 0zM1008.5 1103.4a6.1 6.1 0 1 0 12.2 0a6.1 6.1 0 1 0 -12.2 0zM1021.4 1097.8a6.1 6.1 0 1 0 12.2 0a6.1 6.1 0 1 0 -12.2 0zM1010.5 1114.7a6.1 6.1 0 1 0 12.2 0a6.1 6.1 0 1 0 -12.2 0zM1004.5 1118.7a6.1 6.1 0 1 0 12.2 0a6.1 6.1 0 1 0 -12.2 0zM946.6 1119.7a6.1 6.1 0 1 0 12.2 0a6.1 6.1 0 1 0 -12.2 0zM974.5 1121.1a6.1 6.1 0 1 0 12.2 0a6.1 6.1 0 1 0 -12.2 0zM991.5 1125.1a6.1 6.1 0 1 0 12.2 0a6.1 6.1 0 1 0 -12.2 0zM959.0 1127.7a6.1 6.1 0 1 0 12.2 0a6.1 6.1 0 1 0 -12.2 0zM945.6 1132.3a6.1 6.1 0 1 0 12.2 0a6.1 6.1 0 1 0 -12.2 0zM972.6 1131.7a6.1 6.1 0 1 0 12.2 0a6.1 6.1 0 1 0 -12.2 0zM978.5 1133.7a6.1 6.1 0 1 0 12.2 0a6.1 6.1 0 1 0 -12.2 0zM854.8 1135.7a6.1 6.1 0 1 0 12.2 0a6.1 6.1 0 1 0 -12.2 0zM891.1 1133.1a6.1 6.1 0 1 0 12.2 0a6.1 6.1 0 1 0 -12.2 0zM926.7 1142.7a6.1 6.1 0 1 0 12.2 0a6.1 6.1 0 1 0 -12.2 0zM941.6 1141.7a6.1 6.1 0 1 0 12.2 0a6.1 6.1 0 1 0 -12.2 0zM957.6 1141.7a6.1 6.1 0 1 0 12.2 0a6.1 6.1 0 1 0 -12.2 0zM970.6 1142.3a6.1 6.1 0 1 0 12.2 0a6.1 6.1 0 1 0 -12.2 0zM980.5 1146.7a6.1 6.1 0 1 0 12.2 0a6.1 6.1 0 1 0 -12.2 0zM992.5 1144.1a6.1 6.1 0 1 0 12.2 0a6.1 6.1 0 1 0 -12.2 0zM1008.5 1137.7a6.1 6.1 0 1 0 12.2 0a6.1 6.1 0 1 0 -12.2 0zM1010.5 1146.7a6.1 6.1 0 1 0 12.2 0a6.1 6.1 0 1 0 -12.2 0zM910.7 1153.1a6.1 6.1 0 1 0 12.2 0a6.1 6.1 0 1 0 -12.2 0zM920.7 1158.7a6.1 6.1 0 1 0 12.2 0a6.1 6.1 0 1 0 -12.2 0zM931.6 1160.2a6.1 6.1 0 1 0 12.2 0a6.1 6.1 0 1 0 -12.2 0zM958.2 1157.1a6.1 6.1 0 1 0 12.2 0a6.1 6.1 0 1 0 -12.2 0zM835.9 1159.1a6.1 6.1 0 1 0 12.2 0a6.1 6.1 0 1 0 -12.2 0zM878.8 1168.6a6.1 6.1 0 1 0 12.2 0a6.1 6.1 0 1 0 -12.2 0zM872.4 1176.2a6.1 6.1 0 1 0 12.2 0a6.1 6.1 0 1 0 -12.2 0zM914.7 1167.6a6.1 6.1 0 1 0 12.2 0a6.1 6.1 0 1 0 -12.2 0zM919.7 1173.6a6.1 6.1 0 1 0 12.2 0a6.1 6.1 0 1 0 -12.2 0zM933.6 1173.6a6.1 6.1 0 1 0 12.2 0a6.1 6.1 0 1 0 -12.2 0zM943.6 1173.6a6.1 6.1 0 1 0 12.2 0a6.1 6.1 0 1 0 -12.2 0zM953.6 1171.6a6.1 6.1 0 1 0 12.2 0a6.1 6.1 0 1 0 -12.2 0zM970.6 1160.6a6.1 6.1 0 1 0 12.2 0a6.1 6.1 0 1 0 -12.2 0zM985.5 1161.2a6.1 6.1 0 1 0 12.2 0a6.1 6.1 0 1 0 -12.2 0zM977.5 1169.6a6.1 6.1 0 1 0 12.2 0a6.1 6.1 0 1 0 -12.2 0zM835.5 1183.6a6.1 6.1 0 1 0 12.2 0a6.1 6.1 0 1 0 -12.2 0zM904.3 1183.6a6.1 6.1 0 1 0 12.2 0a6.1 6.1 0 1 0 -12.2 0zM886.3 1189.2a6.1 6.1 0 1 0 12.2 0a6.1 6.1 0 1 0 -12.2 0zM914.7 1185.6a6.1 6.1 0 1 0 12.2 0a6.1 6.1 0 1 0 -12.2 0zM922.7 1194.2a6.1 6.1 0 1 0 12.2 0a6.1 6.1 0 1 0 -12.2 0zM864.8 1195.2a6.1 6.1 0 1 0 12.2 0a6.1 6.1 0 1 0 -12.2 0zM909.7 1197.0a6.1 6.1 0 1 0 12.2 0a6.1 6.1 0 1 0 -12.2 0zM856.4 1204.9a6.1 6.1 0 1 0 12.2 0a6.1 6.1 0 1 0 -12.2 0zM865.4 1203.6a6.1 6.1 0 1 0 12.2 0a6.1 6.1 0 1 0 -12.2 0zM874.2 1209.1a6.1 6.1 0 1 0 12.2 0a6.1 6.1 0 1 0 -12.2 0zM891.1 1204.0a6.1 6.1 0 1 0 12.2 0a6.1 6.1 0 1 0 -12.2 0zM886.3 1209.1a6.1 6.1 0 1 0 12.2 0a6.1 6.1 0 1 0 -12.2 0zM845.8 1214.5a6.1 6.1 0 1 0 12.2 0a6.1 6.1 0 1 0 -12.2 0zM929.6 1199.6a6.1 6.1 0 1 0 12.2 0a6.1 6.1 0 1 0 -12.2 0zM924.7 1205.5a6.1 6.1 0 1 0 12.2 0a6.1 6.1 0 1 0 -12.2 0zM935.6 1191.6a6.1 6.1 0 1 0 12.2 0a6.1 6.1 0 1 0 -12.2 0zM945.6 1193.6a6.1 6.1 0 1 0 12.2 0a6.1 6.1 0 1 0 -12.2 0zM953.6 1197.6a6.1 6.1 0 1 0 12.2 0a6.1 6.1 0 1 0 -12.2 0zM952.6 1205.5a6.1 6.1 0 1 0 12.2 0a6.1 6.1 0 1 0 -12.2 0zM957.6 1185.6a6.1 6.1 0 1 0 12.2 0a6.1 6.1 0 1 0 -12.2 0zM965.6 1189.6a6.1 6.1 0 1 0 12.2 0a6.1 6.1 0 1 0 -12.2 0zM969.6 1196.6a6.1 6.1 0 1 0 12.2 0a6.1 6.1 0 1 0 -12.2 0zM973.5 1187.6a6.1 6.1 0 1 0 12.2 0a6.1 6.1 0 1 0 -12.2 0zM983.5 1185.6a6.1 6.1 0 1 0 12.2 0a6.1 6.1 0 1 0 -12.2 0zM984.5 1198.6a6.1 6.1 0 1 0 12.2 0a6.1 6.1 0 1 0 -12.2 0zM993.5 1206.5a6.1 6.1 0 1 0 12.2 0a6.1 6.1 0 1 0 -12.2 0zM983.1 1210.1a6.1 6.1 0 1 0 12.2 0a6.1 6.1 0 1 0 -12.2 0zM895.7 1222.1a6.1 6.1 0 1 0 12.2 0a6.1 6.1 0 1 0 -12.2 0zM923.7 1217.1a6.1 6.1 0 1 0 12.2 0a6.1 6.1 0 1 0 -12.2 0zM949.6 1221.1a6.1 6.1 0 1 0 12.2 0a6.1 6.1 0 1 0 -12.2 0zM957.2 1218.1a6.1 6.1 0 1 0 12.2 0a6.1 6.1 0 1 0 -12.2 0zM980.1 1228.9a6.1 6.1 0 1 0 12.2 0a6.1 6.1 0 1 0 -12.2 0zM990.5 1227.1a6.1 6.1 0 1 0 12.2 0a6.1 6.1 0 1 0 -12.2 0zM1028.0 1226.5a6.1 6.1 0 1 0 12.2 0a6.1 6.1 0 1 0 -12.2 0zM1075.7 1214.5a6.1 6.1 0 1 0 12.2 0a6.1 6.1 0 1 0 -12.2 0zM887.7 1233.5a6.1 6.1 0 1 0 12.2 0a6.1 6.1 0 1 0 -12.2 0zM882.7 1242.1a6.1 6.1 0 1 0 12.2 0a6.1 6.1 0 1 0 -12.2 0zM899.7 1242.5a6.1 6.1 0 1 0 12.2 0a6.1 6.1 0 1 0 -12.2 0zM912.3 1232.9a6.1 6.1 0 1 0 12.2 0a6.1 6.1 0 1 0 -12.2 0zM929.6 1236.9a6.1 6.1 0 1 0 12.2 0a6.1 6.1 0 1 0 -12.2 0zM956.2 1238.9a6.1 6.1 0 1 0 12.2 0a6.1 6.1 0 1 0 -12.2 0zM851.2 1248.5a6.1 6.1 0 1 0 12.2 0a6.1 6.1 0 1 0 -12.2 0zM854.8 1264.4a6.1 6.1 0 1 0 12.2 0a6.1 6.1 0 1 0 -12.2 0zM867.8 1277.4a6.1 6.1 0 1 0 12.2 0a6.1 6.1 0 1 0 -12.2 0zM1012.5 1196.6a6.1 6.1 0 1 0 12.2 0a6.1 6.1 0 1 0 -12.2 0zM1027.0 1186.6a6.1 6.1 0 1 0 12.2 0a6.1 6.1 0 1 0 -12.2 0zM1039.4 1191.6a6.1 6.1 0 1 0 12.2 0a6.1 6.1 0 1 0 -12.2 0zM1051.4 1197.0a6.1 6.1 0 1 0 12.2 0a6.1 6.1 0 1 0 -12.2 0zM1062.4 1201.6a6.1 6.1 0 1 0 12.2 0a6.1 6.1 0 1 0 -12.2 0zM1063.4 1195.6a6.1 6.1 0 1 0 12.2 0a6.1 6.1 0 1 0 -12.2 0zM1074.3 1196.6a6.1 6.1 0 1 0 12.2 0a6.1 6.1 0 1 0 -12.2 0zM1082.3 1181.0a6.1 6.1 0 1 0 12.2 0a6.1 6.1 0 1 0 -12.2 0zM1073.3 1187.6a6.1 6.1 0 1 0 12.2 0a6.1 6.1 0 1 0 -12.2 0zM1067.3 1178.6a6.1 6.1 0 1 0 12.2 0a6.1 6.1 0 1 0 -12.2 0zM1056.4 1176.6a6.1 6.1 0 1 0 12.2 0a6.1 6.1 0 1 0 -12.2 0zM1045.4 1176.6a6.1 6.1 0 1 0 12.2 0a6.1 6.1 0 1 0 -12.2 0zM1043.4 1185.6a6.1 6.1 0 1 0 12.2 0a6.1 6.1 0 1 0 -12.2 0zM999.5 1175.6a6.1 6.1 0 1 0 12.2 0a6.1 6.1 0 1 0 -12.2 0zM1003.5 1185.6a6.1 6.1 0 1 0 12.2 0a6.1 6.1 0 1 0 -12.2 0zM993.5 1179.6a6.1 6.1 0 1 0 12.2 0a6.1 6.1 0 1 0 -12.2 0zM989.5 1171.6a6.1 6.1 0 1 0 12.2 0a6.1 6.1 0 1 0 -12.2 0zM999.5 1159.6a6.1 6.1 0 1 0 12.2 0a6.1 6.1 0 1 0 -12.2 0zM993.5 1155.7a6.1 6.1 0 1 0 12.2 0a6.1 6.1 0 1 0 -12.2 0zM1001.5 1139.7a6.1 6.1 0 1 0 12.2 0a6.1 6.1 0 1 0 -12.2 0zM997.5 1131.7a6.1 6.1 0 1 0 12.2 0a6.1 6.1 0 1 0 -12.2 0zM1101.5 1236.5a6.1 6.1 0 1 0 12.2 0a6.1 6.1 0 1 0 -12.2 0zM1072.3 1020.2a6.1 6.1 0 1 0 12.2 0a6.1 6.1 0 1 0 -12.2 0zM1064.3 1052.4a6.1 6.1 0 1 0 12.2 0a6.1 6.1 0 1 0 -12.2 0zM1068.9 1062.7a6.1 6.1 0 1 0 12.2 0a6.1 6.1 0 1 0 -12.2 0zM1058.9 1065.7a6.1 6.1 0 1 0 12.2 0a6.1 6.1 0 1 0 -12.2 0zM1088.2 1058.3a6.1 6.1 0 1 0 12.2 0a6.1 6.1 0 1 0 -12.2 0zM1065.9 1078.7a6.1 6.1 0 1 0 12.2 0a6.1 6.1 0 1 0 -12.2 0zM1112.8 1039.8a6.1 6.1 0 1 0 12.2 0a6.1 6.1 0 1 0 -12.2 0zM1113.8 1049.4a6.1 6.1 0 1 0 12.2 0a6.1 6.1 0 1 0 -12.2 0zM1127.7 1046.8a6.1 6.1 0 1 0 12.2 0a6.1 6.1 0 1 0 -12.2 0zM1144.7 1044.2a6.1 6.1 0 1 0 12.2 0a6.1 6.1 0 1 0 -12.2 0zM1139.7 1046.8a6.1 6.1 0 1 0 12.2 0a6.1 6.1 0 1 0 -12.2 0zM1144.7 1064.7a6.1 6.1 0 1 0 12.2 0a6.1 6.1 0 1 0 -12.2 0zM1121.8 1065.7a6.1 6.1 0 1 0 12.2 0a6.1 6.1 0 1 0 -12.2 0zM1125.7 1074.1a6.1 6.1 0 1 0 12.2 0a6.1 6.1 0 1 0 -12.2 0zM1134.7 1061.7a6.1 6.1 0 1 0 12.2 0a6.1 6.1 0 1 0 -12.2 0zM1167.1 1034.4a6.1 6.1 0 1 0 12.2 0a6.1 6.1 0 1 0 -12.2 0zM1163.7 1044.2a6.1 6.1 0 1 0 12.2 0a6.1 6.1 0 1 0 -12.2 0zM1157.7 1047.8a6.1 6.1 0 1 0 12.2 0a6.1 6.1 0 1 0 -12.2 0zM1157.7 1053.7a6.1 6.1 0 1 0 12.2 0a6.1 6.1 0 1 0 -12.2 0zM1165.7 1061.3a6.1 6.1 0 1 0 12.2 0a6.1 6.1 0 1 0 -12.2 0zM1186.6 1051.8a6.1 6.1 0 1 0 12.2 0a6.1 6.1 0 1 0 -12.2 0zM1194.6 1030.8a6.1 6.1 0 1 0 12.2 0a6.1 6.1 0 1 0 -12.2 0zM1194.6 1036.2a6.1 6.1 0 1 0 12.2 0a6.1 6.1 0 1 0 -12.2 0zM1201.6 1039.4a6.1 6.1 0 1 0 12.2 0a6.1 6.1 0 1 0 -12.2 0zM1198.6 1042.8a6.1 6.1 0 1 0 12.2 0a6.1 6.1 0 1 0 -12.2 0zM1210.6 1039.8a6.1 6.1 0 1 0 12.2 0a6.1 6.1 0 1 0 -12.2 0zM1216.5 1045.2a6.1 6.1 0 1 0 12.2 0a6.1 6.1 0 1 0 -12.2 0zM1205.6 1052.8a6.1 6.1 0 1 0 12.2 0a6.1 6.1 0 1 0 -12.2 0zM1213.5 1057.1a6.1 6.1 0 1 0 12.2 0a6.1 6.1 0 1 0 -12.2 0zM1200.6 1060.3a6.1 6.1 0 1 0 12.2 0a6.1 6.1 0 1 0 -12.2 0zM1221.5 1034.2a6.1 6.1 0 1 0 12.2 0a6.1 6.1 0 1 0 -12.2 0zM1229.5 1034.8a6.1 6.1 0 1 0 12.2 0a6.1 6.1 0 1 0 -12.2 0zM1234.9 1023.4a6.1 6.1 0 1 0 12.2 0a6.1 6.1 0 1 0 -12.2 0zM1240.5 1037.4a6.1 6.1 0 1 0 12.2 0a6.1 6.1 0 1 0 -12.2 0zM1234.5 1044.8a6.1 6.1 0 1 0 12.2 0a6.1 6.1 0 1 0 -12.2 0zM1269.4 1029.8a6.1 6.1 0 1 0 12.2 0a6.1 6.1 0 1 0 -12.2 0zM1284.8 1043.2a6.1 6.1 0 1 0 12.2 0a6.1 6.1 0 1 0 -12.2 0zM1273.4 1045.8a6.1 6.1 0 1 0 12.2 0a6.1 6.1 0 1 0 -12.2 0zM1284.8 1060.3a6.1 6.1 0 1 0 12.2 0a6.1 6.1 0 1 0 -12.2 0zM1251.5 1053.4a6.1 6.1 0 1 0 12.2 0a6.1 6.1 0 1 0 -12.2 0zM1261.4 1069.3a6.1 6.1 0 1 0 12.2 0a6.1 6.1 0 1 0 -12.2 0zM1267.4 1072.7a6.1 6.1 0 1 0 12.2 0a6.1 6.1 0 1 0 -12.2 0zM1242.5 1065.7a6.1 6.1 0 1 0 12.2 0a6.1 6.1 0 1 0 -12.2 0zM1245.5 1075.7a6.1 6.1 0 1 0 12.2 0a6.1 6.1 0 1 0 -12.2 0zM1245.5 1080.7a6.1 6.1 0 1 0 12.2 0a6.1 6.1 0 1 0 -12.2 0zM1219.5 1067.7a6.1 6.1 0 1 0 12.2 0a6.1 6.1 0 1 0 -12.2 0zM1227.5 1069.7a6.1 6.1 0 1 0 12.2 0a6.1 6.1 0 1 0 -12.2 0zM1229.5 1075.7a6.1 6.1 0 1 0 12.2 0a6.1 6.1 0 1 0 -12.2 0zM1219.5 1079.7a6.1 6.1 0 1 0 12.2 0a6.1 6.1 0 1 0 -12.2 0zM1203.6 1088.7a6.1 6.1 0 1 0 12.2 0a6.1 6.1 0 1 0 -12.2 0zM1202.6 1072.7a6.1 6.1 0 1 0 12.2 0a6.1 6.1 0 1 0 -12.2 0zM1191.6 1088.7a6.1 6.1 0 1 0 12.2 0a6.1 6.1 0 1 0 -12.2 0zM1195.6 1099.6a6.1 6.1 0 1 0 12.2 0a6.1 6.1 0 1 0 -12.2 0zM1197.6 1111.6a6.1 6.1 0 1 0 12.2 0a6.1 6.1 0 1 0 -12.2 0zM1192.6 1116.6a6.1 6.1 0 1 0 12.2 0a6.1 6.1 0 1 0 -12.2 0zM1191.6 1125.6a6.1 6.1 0 1 0 12.2 0a6.1 6.1 0 1 0 -12.2 0zM1199.6 1123.6a6.1 6.1 0 1 0 12.2 0a6.1 6.1 0 1 0 -12.2 0zM1210.6 1105.6a6.1 6.1 0 1 0 12.2 0a6.1 6.1 0 1 0 -12.2 0zM1211.6 1109.6a6.1 6.1 0 1 0 12.2 0a6.1 6.1 0 1 0 -12.2 0zM1217.5 1092.7a6.1 6.1 0 1 0 12.2 0a6.1 6.1 0 1 0 -12.2 0zM1223.5 1099.6a6.1 6.1 0 1 0 12.2 0a6.1 6.1 0 1 0 -12.2 0zM1244.5 1093.7a6.1 6.1 0 1 0 12.2 0a6.1 6.1 0 1 0 -12.2 0zM1246.5 1097.7a6.1 6.1 0 1 0 12.2 0a6.1 6.1 0 1 0 -12.2 0zM1240.5 1101.2a6.1 6.1 0 1 0 12.2 0a6.1 6.1 0 1 0 -12.2 0zM1245.1 1119.6a6.1 6.1 0 1 0 12.2 0a6.1 6.1 0 1 0 -12.2 0zM1245.5 1157.1a6.1 6.1 0 1 0 12.2 0a6.1 6.1 0 1 0 -12.2 0zM1182.6 1140.2a6.1 6.1 0 1 0 12.2 0a6.1 6.1 0 1 0 -12.2 0zM1197.6 1149.5a6.1 6.1 0 1 0 12.2 0a6.1 6.1 0 1 0 -12.2 0zM1190.0 1154.1a6.1 6.1 0 1 0 12.2 0a6.1 6.1 0 1 0 -12.2 0zM1179.0 1166.5a6.1 6.1 0 1 0 12.2 0a6.1 6.1 0 1 0 -12.2 0zM1153.7 1169.5a6.1 6.1 0 1 0 12.2 0a6.1 6.1 0 1 0 -12.2 0zM1143.7 1156.5a6.1 6.1 0 1 0 12.2 0a6.1 6.1 0 1 0 -12.2 0zM1132.1 1181.1a6.1 6.1 0 1 0 12.2 0a6.1 6.1 0 1 0 -12.2 0zM1147.7 1141.6a6.1 6.1 0 1 0 12.2 0a6.1 6.1 0 1 0 -12.2 0zM1150.7 1135.6a6.1 6.1 0 1 0 12.2 0a6.1 6.1 0 1 0 -12.2 0zM1143.7 1129.6a6.1 6.1 0 1 0 12.2 0a6.1 6.1 0 1 0 -12.2 0zM1179.6 1112.6a6.1 6.1 0 1 0 12.2 0a6.1 6.1 0 1 0 -12.2 0zM1159.7 1107.6a6.1 6.1 0 1 0 12.2 0a6.1 6.1 0 1 0 -12.2 0zM1153.7 1113.6a6.1 6.1 0 1 0 12.2 0a6.1 6.1 0 1 0 -12.2 0zM1139.7 1111.6a6.1 6.1 0 1 0 12.2 0a6.1 6.1 0 1 0 -12.2 0zM1102.8 1173.5a6.1 6.1 0 1 0 12.2 0a6.1 6.1 0 1 0 -12.2 0zM1099.8 1159.5a6.1 6.1 0 1 0 12.2 0a6.1 6.1 0 1 0 -12.2 0zM1081.8 1181.5a6.1 6.1 0 1 0 12.2 0a6.1 6.1 0 1 0 -12.2 0zM1073.9 1188.5a6.1 6.1 0 1 0 12.2 0a6.1 6.1 0 1 0 -12.2 0zM1074.9 1197.4a6.1 6.1 0 1 0 12.2 0a6.1 6.1 0 1 0 -12.2 0zM1062.9 1200.4a6.1 6.1 0 1 0 12.2 0a6.1 6.1 0 1 0 -12.2 0zM1057.9 1176.5a6.1 6.1 0 1 0 12.2 0a6.1 6.1 0 1 0 -12.2 0zM1066.9 1178.5a6.1 6.1 0 1 0 12.2 0a6.1 6.1 0 1 0 -12.2 0zM1075.9 1214.4a6.1 6.1 0 1 0 12.2 0a6.1 6.1 0 1 0 -12.2 0zM1065.9 1163.5a6.1 6.1 0 1 0 12.2 0a6.1 6.1 0 1 0 -12.2 0zM1129.7 1155.5a6.1 6.1 0 1 0 12.2 0a6.1 6.1 0 1 0 -12.2 0zM1119.8 1151.5a6.1 6.1 0 1 0 12.2 0a6.1 6.1 0 1 0 -12.2 0zM1111.8 1144.5a6.1 6.1 0 1 0 12.2 0a6.1 6.1 0 1 0 -12.2 0zM1173.6 1067.7a6.1 6.1 0 1 0 12.2 0a6.1 6.1 0 1 0 -12.2 0zM1181.6 1063.7a6.1 6.1 0 1 0 12.2 0a6.1 6.1 0 1 0 -12.2 0zM1189.6 1067.7a6.1 6.1 0 1 0 12.2 0a6.1 6.1 0 1 0 -12.2 0zM1175.6 1079.7a6.1 6.1 0 1 0 12.2 0a6.1 6.1 0 1 0 -12.2 0zM1183.6 1083.7a6.1 6.1 0 1 0 12.2 0a6.1 6.1 0 1 0 -12.2 0zM1169.6 1091.7a6.1 6.1 0 1 0 12.2 0a6.1 6.1 0 1 0 -12.2 0zM1177.6 1099.6a6.1 6.1 0 1 0 12.2 0a6.1 6.1 0 1 0 -12.2 0zM1165.7 1079.7a6.1 6.1 0 1 0 12.2 0a6.1 6.1 0 1 0 -12.2 0zM1153.7 1071.7a6.1 6.1 0 1 0 12.2 0a6.1 6.1 0 1 0 -12.2 0zM1149.7 1083.7a6.1 6.1 0 1 0 12.2 0a6.1 6.1 0 1 0 -12.2 0zM1157.7 1095.7a6.1 6.1 0 1 0 12.2 0a6.1 6.1 0 1 0 -12.2 0z" fill="#000"/>
<line x1="793.4" y1="936.0" x2="793.4" y2="1317.2" stroke="#000" stroke-width="3.6" stroke-linecap="round"/>
<line x1="776.9" y1="1300.2" x2="1337.5" y2="1300.2" stroke="#000" stroke-width="3.6" stroke-linecap="round"/>
<line x1="776.9" y1="1179.9" x2="793.4" y2="1179.9" stroke="#000" stroke-width="3.6" stroke-linecap="round"/>
<line x1="776.9" y1="1059.5" x2="793.4" y2="1059.5" stroke="#000" stroke-width="3.6" stroke-linecap="round"/>
<line x1="776.9" y1="939.2" x2="793.4" y2="939.2" stroke="#000" stroke-width="3.6" stroke-linecap="round"/>
<text x="772.9" y="1309.3" font-size="25.5" font-weight="bold" font-style="normal" text-anchor="end" fill="#000">0</text>
<text x="772.9" y="1189.0" font-size="25.5" font-weight="bold" font-style="normal" text-anchor="end" fill="#000">5</text>
<text x="772.9" y="1068.6" font-size="25.5" font-weight="bold" font-style="normal" text-anchor="end" fill="#000">10</text>
<text x="772.9" y="948.3" font-size="25.5" font-weight="bold" font-style="normal" text-anchor="end" fill="#000">15</text>
<line x1="901.9" y1="1300.2" x2="901.9" y2="1317.2" stroke="#000" stroke-width="3.6" stroke-linecap="round"/>
<line x1="1010.4" y1="1300.2" x2="1010.4" y2="1317.2" stroke="#000" stroke-width="3.6" stroke-linecap="round"/>
<line x1="1118.9" y1="1300.2" x2="1118.9" y2="1317.2" stroke="#000" stroke-width="3.6" stroke-linecap="round"/>
<line x1="1227.4" y1="1300.2" x2="1227.4" y2="1317.2" stroke="#000" stroke-width="3.6" stroke-linecap="round"/>
<line x1="1335.9" y1="1300.2" x2="1335.9" y2="1317.2" stroke="#000" stroke-width="3.6" stroke-linecap="round"/>
<text x="793.4" y="1346.2" font-size="25.5" font-weight="bold" font-style="normal" text-anchor="middle" fill="#000">0</text>
<text x="901.9" y="1346.2" font-size="25.5" font-weight="bold" font-style="normal" text-anchor="middle" fill="#000">2</text>
<text x="1010.4" y="1346.2" font-size="25.5" font-weight="bold" font-style="normal" text-anchor="middle" fill="#000">4</text>
<text x="1118.9" y="1346.2" font-size="25.5" font-weight="bold" font-style="normal" text-anchor="middle" fill="#000">6</text>
<text x="1227.4" y="1346.2" font-size="25.5" font-weight="bold" font-style="normal" text-anchor="middle" fill="#000">8</text>
<text x="1335.9" y="1346.2" font-size="25.5" font-weight="bold" font-style="normal" text-anchor="middle" fill="#000">10</text>
<text x="725.0" y="1165.2" font-size="36.8" font-weight="bold" font-style="italic" text-anchor="start" fill="#000" transform="rotate(-90 725.0 1165.2)" textLength="92.3" lengthAdjust="spacingAndGlyphs">CD8A</text>
<text x="1030.2" y="1392.3" font-size="31.3" font-weight="bold" font-style="italic" text-anchor="start" fill="#000" textLength="73.0" lengthAdjust="spacingAndGlyphs">TLR8</text>
<text x="814.7" y="960.8" font-size="30.6" font-weight="normal" font-style="normal" text-anchor="start" fill="#000" textLength="98.6" lengthAdjust="spacingAndGlyphs">r<tspan font-size="22.5" dy="-13.3">2</tspan><tspan dy="13.3">=0.50</tspan></text>
<text x="813.8" y="995.0" font-size="30.6" font-weight="normal" font-style="normal" text-anchor="start" fill="#000" textLength="123.0" lengthAdjust="spacingAndGlyphs"><tspan font-style="italic">p</tspan>&lt;0.0001</text>
<text x="1352.0" y="905.0" font-size="47" font-weight="bold" font-style="normal" text-anchor="start" fill="#000" textLength="21.5" lengthAdjust="spacingAndGlyphs">F</text>
<line x1="1501.6" y1="1160.9" x2="1942.5" y2="1046.1" stroke="#000" stroke-width="2.2" stroke-linecap="round"/>
<path d="M1556.6 1131.3a6.1 6.1 0 1 0 12.2 0a6.1 6.1 0 1 0 -12.2 0zM1561.8 1118.6a6.1 6.1 0 1 0 12.2 0a6.1 6.1 0 1 0 -12.2 0zM1560.5 1126.8a6.1 6.1 0 1 0 12.2 0a6.1 6.1 0 1 0 -12.2 0zM1559.4 1144.8a6.1 6.1 0 1 0 12.2 0a6.1 6.1 0 1 0 -12.2 0zM1574.8 1122.3a6.1 6.1 0 1 0 12.2 0a6.1 6.1 0 1 0 -12.2 0zM1574.7 1141.3a6.1 6.1 0 1 0 12.2 0a6.1 6.1 0 1 0 -12.2 0zM1586.8 1122.3a6.1 6.1 0 1 0 12.2 0a6.1 6.1 0 1 0 -12.2 0zM1583.0 1126.9a6.1 6.1 0 1 0 12.2 0a6.1 6.1 0 1 0 -12.2 0zM1583.3 1137.5a6.1 6.1 0 1 0 12.2 0a6.1 6.1 0 1 0 -12.2 0zM1584.6 1139.2a6.1 6.1 0 1 0 12.2 0a6.1 6.1 0 1 0 -12.2 0zM1587.7 1114.9a6.1 6.1 0 1 0 12.2 0a6.1 6.1 0 1 0 -12.2 0zM1588.3 1133.0a6.1 6.1 0 1 0 12.2 0a6.1 6.1 0 1 0 -12.2 0zM1599.5 1121.3a6.1 6.1 0 1 0 12.2 0a6.1 6.1 0 1 0 -12.2 0zM1599.3 1147.0a6.1 6.1 0 1 0 12.2 0a6.1 6.1 0 1 0 -12.2 0zM1604.7 1110.6a6.1 6.1 0 1 0 12.2 0a6.1 6.1 0 1 0 -12.2 0zM1607.9 1125.3a6.1 6.1 0 1 0 12.2 0a6.1 6.1 0 1 0 -12.2 0zM1607.2 1125.9a6.1 6.1 0 1 0 12.2 0a6.1 6.1 0 1 0 -12.2 0zM1612.8 1122.7a6.1 6.1 0 1 0 12.2 0a6.1 6.1 0 1 0 -12.2 0zM1623.6 1116.8a6.1 6.1 0 1 0 12.2 0a6.1 6.1 0 1 0 -12.2 0zM1621.0 1131.8a6.1 6.1 0 1 0 12.2 0a6.1 6.1 0 1 0 -12.2 0zM1622.4 1137.6a6.1 6.1 0 1 0 12.2 0a6.1 6.1 0 1 0 -12.2 0zM1631.0 1110.8a6.1 6.1 0 1 0 12.2 0a6.1 6.1 0 1 0 -12.2 0zM1630.5 1114.1a6.1 6.1 0 1 0 12.2 0a6.1 6.1 0 1 0 -12.2 0zM1628.3 1121.5a6.1 6.1 0 1 0 12.2 0a6.1 6.1 0 1 0 -12.2 0zM1627.9 1141.2a6.1 6.1 0 1 0 12.2 0a6.1 6.1 0 1 0 -12.2 0zM1637.7 1096.0a6.1 6.1 0 1 0 12.2 0a6.1 6.1 0 1 0 -12.2 0zM1634.6 1102.6a6.1 6.1 0 1 0 12.2 0a6.1 6.1 0 1 0 -12.2 0zM1639.7 1124.6a6.1 6.1 0 1 0 12.2 0a6.1 6.1 0 1 0 -12.2 0zM1632.7 1125.2a6.1 6.1 0 1 0 12.2 0a6.1 6.1 0 1 0 -12.2 0zM1635.6 1136.8a6.1 6.1 0 1 0 12.2 0a6.1 6.1 0 1 0 -12.2 0zM1641.2 1096.5a6.1 6.1 0 1 0 12.2 0a6.1 6.1 0 1 0 -12.2 0zM1640.8 1103.9a6.1 6.1 0 1 0 12.2 0a6.1 6.1 0 1 0 -12.2 0zM1640.6 1110.6a6.1 6.1 0 1 0 12.2 0a6.1 6.1 0 1 0 -12.2 0zM1645.9 1117.6a6.1 6.1 0 1 0 12.2 0a6.1 6.1 0 1 0 -12.2 0zM1641.4 1127.6a6.1 6.1 0 1 0 12.2 0a6.1 6.1 0 1 0 -12.2 0zM1646.8 1133.5a6.1 6.1 0 1 0 12.2 0a6.1 6.1 0 1 0 -12.2 0zM1640.5 1141.2a6.1 6.1 0 1 0 12.2 0a6.1 6.1 0 1 0 -12.2 0zM1652.4 1089.5a6.1 6.1 0 1 0 12.2 0a6.1 6.1 0 1 0 -12.2 0zM1649.3 1096.5a6.1 6.1 0 1 0 12.2 0a6.1 6.1 0 1 0 -12.2 0zM1651.1 1108.1a6.1 6.1 0 1 0 12.2 0a6.1 6.1 0 1 0 -12.2 0zM1648.9 1115.0a6.1 6.1 0 1 0 12.2 0a6.1 6.1 0 1 0 -12.2 0zM1654.7 1126.6a6.1 6.1 0 1 0 12.2 0a6.1 6.1 0 1 0 -12.2 0zM1659.1 1097.1a6.1 6.1 0 1 0 12.2 0a6.1 6.1 0 1 0 -12.2 0zM1660.0 1112.1a6.1 6.1 0 1 0 12.2 0a6.1 6.1 0 1 0 -12.2 0zM1660.6 1121.0a6.1 6.1 0 1 0 12.2 0a6.1 6.1 0 1 0 -12.2 0zM1660.4 1126.5a6.1 6.1 0 1 0 12.2 0a6.1 6.1 0 1 0 -12.2 0zM1659.9 1131.0a6.1 6.1 0 1 0 12.2 0a6.1 6.1 0 1 0 -12.2 0zM1657.9 1144.7a6.1 6.1 0 1 0 12.2 0a6.1 6.1 0 1 0 -12.2 0zM1668.8 1088.8a6.1 6.1 0 1 0 12.2 0a6.1 6.1 0 1 0 -12.2 0zM1669.2 1091.1a6.1 6.1 0 1 0 12.2 0a6.1 6.1 0 1 0 -12.2 0zM1667.2 1103.4a6.1 6.1 0 1 0 12.2 0a6.1 6.1 0 1 0 -12.2 0zM1663.2 1107.2a6.1 6.1 0 1 0 12.2 0a6.1 6.1 0 1 0 -12.2 0zM1664.0 1113.8a6.1 6.1 0 1 0 12.2 0a6.1 6.1 0 1 0 -12.2 0zM1666.2 1124.8a6.1 6.1 0 1 0 12.2 0a6.1 6.1 0 1 0 -12.2 0zM1668.5 1130.8a6.1 6.1 0 1 0 12.2 0a6.1 6.1 0 1 0 -12.2 0zM1677.3 1086.1a6.1 6.1 0 1 0 12.2 0a6.1 6.1 0 1 0 -12.2 0zM1670.9 1106.8a6.1 6.1 0 1 0 12.2 0a6.1 6.1 0 1 0 -12.2 0zM1676.0 1113.1a6.1 6.1 0 1 0 12.2 0a6.1 6.1 0 1 0 -12.2 0zM1671.0 1120.1a6.1 6.1 0 1 0 12.2 0a6.1 6.1 0 1 0 -12.2 0zM1683.2 1083.6a6.1 6.1 0 1 0 12.2 0a6.1 6.1 0 1 0 -12.2 0zM1680.4 1092.3a6.1 6.1 0 1 0 12.2 0a6.1 6.1 0 1 0 -12.2 0zM1679.6 1099.0a6.1 6.1 0 1 0 12.2 0a6.1 6.1 0 1 0 -12.2 0zM1680.9 1109.7a6.1 6.1 0 1 0 12.2 0a6.1 6.1 0 1 0 -12.2 0zM1678.4 1116.1a6.1 6.1 0 1 0 12.2 0a6.1 6.1 0 1 0 -12.2 0zM1679.5 1124.0a6.1 6.1 0 1 0 12.2 0a6.1 6.1 0 1 0 -12.2 0zM1679.3 1125.5a6.1 6.1 0 1 0 12.2 0a6.1 6.1 0 1 0 -12.2 0zM1679.9 1138.6a6.1 6.1 0 1 0 12.2 0a6.1 6.1 0 1 0 -12.2 0zM1691.9 1092.9a6.1 6.1 0 1 0 12.2 0a6.1 6.1 0 1 0 -12.2 0zM1692.0 1100.7a6.1 6.1 0 1 0 12.2 0a6.1 6.1 0 1 0 -12.2 0zM1687.5 1102.8a6.1 6.1 0 1 0 12.2 0a6.1 6.1 0 1 0 -12.2 0zM1688.8 1111.1a6.1 6.1 0 1 0 12.2 0a6.1 6.1 0 1 0 -12.2 0zM1688.1 1117.5a6.1 6.1 0 1 0 12.2 0a6.1 6.1 0 1 0 -12.2 0zM1688.6 1128.0a6.1 6.1 0 1 0 12.2 0a6.1 6.1 0 1 0 -12.2 0zM1688.4 1132.4a6.1 6.1 0 1 0 12.2 0a6.1 6.1 0 1 0 -12.2 0zM1695.1 1076.3a6.1 6.1 0 1 0 12.2 0a6.1 6.1 0 1 0 -12.2 0zM1694.1 1087.8a6.1 6.1 0 1 0 12.2 0a6.1 6.1 0 1 0 -12.2 0zM1693.7 1094.7a6.1 6.1 0 1 0 12.2 0a6.1 6.1 0 1 0 -12.2 0zM1696.0 1102.0a6.1 6.1 0 1 0 12.2 0a6.1 6.1 0 1 0 -12.2 0zM1699.3 1110.5a6.1 6.1 0 1 0 12.2 0a6.1 6.1 0 1 0 -12.2 0zM1696.7 1115.0a6.1 6.1 0 1 0 12.2 0a6.1 6.1 0 1 0 -12.2 0zM1696.8 1123.5a6.1 6.1 0 1 0 12.2 0a6.1 6.1 0 1 0 -12.2 0zM1706.4 1075.1a6.1 6.1 0 1 0 12.2 0a6.1 6.1 0 1 0 -12.2 0zM1705.5 1080.9a6.1 6.1 0 1 0 12.2 0a6.1 6.1 0 1 0 -12.2 0zM1700.7 1086.3a6.1 6.1 0 1 0 12.2 0a6.1 6.1 0 1 0 -12.2 0zM1701.3 1102.5a6.1 6.1 0 1 0 12.2 0a6.1 6.1 0 1 0 -12.2 0zM1706.3 1116.2a6.1 6.1 0 1 0 12.2 0a6.1 6.1 0 1 0 -12.2 0zM1703.1 1122.9a6.1 6.1 0 1 0 12.2 0a6.1 6.1 0 1 0 -12.2 0zM1701.2 1128.9a6.1 6.1 0 1 0 12.2 0a6.1 6.1 0 1 0 -12.2 0zM1709.7 1069.9a6.1 6.1 0 1 0 12.2 0a6.1 6.1 0 1 0 -12.2 0zM1709.0 1079.6a6.1 6.1 0 1 0 12.2 0a6.1 6.1 0 1 0 -12.2 0zM1711.9 1082.6a6.1 6.1 0 1 0 12.2 0a6.1 6.1 0 1 0 -12.2 0zM1707.8 1093.6a6.1 6.1 0 1 0 12.2 0a6.1 6.1 0 1 0 -12.2 0zM1712.7 1104.3a6.1 6.1 0 1 0 12.2 0a6.1 6.1 0 1 0 -12.2 0zM1709.7 1106.1a6.1 6.1 0 1 0 12.2 0a6.1 6.1 0 1 0 -12.2 0zM1712.7 1114.2a6.1 6.1 0 1 0 12.2 0a6.1 6.1 0 1 0 -12.2 0zM1713.3 1122.6a6.1 6.1 0 1 0 12.2 0a6.1 6.1 0 1 0 -12.2 0zM1719.2 1072.2a6.1 6.1 0 1 0 12.2 0a6.1 6.1 0 1 0 -12.2 0zM1716.5 1078.6a6.1 6.1 0 1 0 12.2 0a6.1 6.1 0 1 0 -12.2 0zM1715.9 1081.3a6.1 6.1 0 1 0 12.2 0a6.1 6.1 0 1 0 -12.2 0zM1719.2 1094.5a6.1 6.1 0 1 0 12.2 0a6.1 6.1 0 1 0 -12.2 0zM1716.7 1100.4a6.1 6.1 0 1 0 12.2 0a6.1 6.1 0 1 0 -12.2 0zM1721.5 1110.2a6.1 6.1 0 1 0 12.2 0a6.1 6.1 0 1 0 -12.2 0zM1723.1 1069.8a6.1 6.1 0 1 0 12.2 0a6.1 6.1 0 1 0 -12.2 0zM1726.1 1076.0a6.1 6.1 0 1 0 12.2 0a6.1 6.1 0 1 0 -12.2 0zM1729.5 1093.5a6.1 6.1 0 1 0 12.2 0a6.1 6.1 0 1 0 -12.2 0zM1725.3 1100.4a6.1 6.1 0 1 0 12.2 0a6.1 6.1 0 1 0 -12.2 0zM1729.9 1102.6a6.1 6.1 0 1 0 12.2 0a6.1 6.1 0 1 0 -12.2 0zM1729.6 1112.8a6.1 6.1 0 1 0 12.2 0a6.1 6.1 0 1 0 -12.2 0zM1730.0 1117.5a6.1 6.1 0 1 0 12.2 0a6.1 6.1 0 1 0 -12.2 0zM1736.6 1066.6a6.1 6.1 0 1 0 12.2 0a6.1 6.1 0 1 0 -12.2 0zM1736.4 1071.9a6.1 6.1 0 1 0 12.2 0a6.1 6.1 0 1 0 -12.2 0zM1732.4 1077.5a6.1 6.1 0 1 0 12.2 0a6.1 6.1 0 1 0 -12.2 0zM1736.0 1088.2a6.1 6.1 0 1 0 12.2 0a6.1 6.1 0 1 0 -12.2 0zM1731.4 1100.8a6.1 6.1 0 1 0 12.2 0a6.1 6.1 0 1 0 -12.2 0zM1731.6 1112.3a6.1 6.1 0 1 0 12.2 0a6.1 6.1 0 1 0 -12.2 0zM1734.5 1121.1a6.1 6.1 0 1 0 12.2 0a6.1 6.1 0 1 0 -12.2 0zM1740.5 1083.7a6.1 6.1 0 1 0 12.2 0a6.1 6.1 0 1 0 -12.2 0zM1739.8 1087.6a6.1 6.1 0 1 0 12.2 0a6.1 6.1 0 1 0 -12.2 0zM1744.0 1096.3a6.1 6.1 0 1 0 12.2 0a6.1 6.1 0 1 0 -12.2 0zM1744.9 1102.9a6.1 6.1 0 1 0 12.2 0a6.1 6.1 0 1 0 -12.2 0zM1742.2 1113.6a6.1 6.1 0 1 0 12.2 0a6.1 6.1 0 1 0 -12.2 0zM1737.8 1115.5a6.1 6.1 0 1 0 12.2 0a6.1 6.1 0 1 0 -12.2 0zM1749.1 1063.1a6.1 6.1 0 1 0 12.2 0a6.1 6.1 0 1 0 -12.2 0zM1746.7 1068.4a6.1 6.1 0 1 0 12.2 0a6.1 6.1 0 1 0 -12.2 0zM1746.1 1078.1a6.1 6.1 0 1 0 12.2 0a6.1 6.1 0 1 0 -12.2 0zM1746.5 1088.0a6.1 6.1 0 1 0 12.2 0a6.1 6.1 0 1 0 -12.2 0zM1749.9 1100.7a6.1 6.1 0 1 0 12.2 0a6.1 6.1 0 1 0 -12.2 0zM1745.4 1118.8a6.1 6.1 0 1 0 12.2 0a6.1 6.1 0 1 0 -12.2 0zM1753.0 1061.1a6.1 6.1 0 1 0 12.2 0a6.1 6.1 0 1 0 -12.2 0zM1758.0 1071.2a6.1 6.1 0 1 0 12.2 0a6.1 6.1 0 1 0 -12.2 0zM1757.9 1076.6a6.1 6.1 0 1 0 12.2 0a6.1 6.1 0 1 0 -12.2 0zM1758.0 1090.6a6.1 6.1 0 1 0 12.2 0a6.1 6.1 0 1 0 -12.2 0zM1756.9 1094.8a6.1 6.1 0 1 0 12.2 0a6.1 6.1 0 1 0 -12.2 0zM1755.4 1103.5a6.1 6.1 0 1 0 12.2 0a6.1 6.1 0 1 0 -12.2 0zM1755.3 1109.9a6.1 6.1 0 1 0 12.2 0a6.1 6.1 0 1 0 -12.2 0zM1767.5 1065.6a6.1 6.1 0 1 0 12.2 0a6.1 6.1 0 1 0 -12.2 0zM1762.3 1076.7a6.1 6.1 0 1 0 12.2 0a6.1 6.1 0 1 0 -12.2 0zM1765.8 1079.0a6.1 6.1 0 1 0 12.2 0a6.1 6.1 0 1 0 -12.2 0zM1766.3 1090.9a6.1 6.1 0 1 0 12.2 0a6.1 6.1 0 1 0 -12.2 0zM1762.1 1096.6a6.1 6.1 0 1 0 12.2 0a6.1 6.1 0 1 0 -12.2 0zM1767.3 1103.8a6.1 6.1 0 1 0 12.2 0a6.1 6.1 0 1 0 -12.2 0zM1772.5 1071.5a6.1 6.1 0 1 0 12.2 0a6.1 6.1 0 1 0 -12.2 0zM1770.8 1073.1a6.1 6.1 0 1 0 12.2 0a6.1 6.1 0 1 0 -12.2 0zM1770.6 1087.6a6.1 6.1 0 1 0 12.2 0a6.1 6.1 0 1 0 -12.2 0zM1767.9 1112.7a6.1 6.1 0 1 0 12.2 0a6.1 6.1 0 1 0 -12.2 0zM1776.0 1070.1a6.1 6.1 0 1 0 12.2 0a6.1 6.1 0 1 0 -12.2 0zM1779.7 1076.1a6.1 6.1 0 1 0 12.2 0a6.1 6.1 0 1 0 -12.2 0zM1782.4 1082.1a6.1 6.1 0 1 0 12.2 0a6.1 6.1 0 1 0 -12.2 0zM1779.1 1093.2a6.1 6.1 0 1 0 12.2 0a6.1 6.1 0 1 0 -12.2 0zM1780.7 1102.4a6.1 6.1 0 1 0 12.2 0a6.1 6.1 0 1 0 -12.2 0zM1778.7 1108.1a6.1 6.1 0 1 0 12.2 0a6.1 6.1 0 1 0 -12.2 0zM1788.3 1069.8a6.1 6.1 0 1 0 12.2 0a6.1 6.1 0 1 0 -12.2 0zM1787.8 1078.3a6.1 6.1 0 1 0 12.2 0a6.1 6.1 0 1 0 -12.2 0zM1787.1 1084.8a6.1 6.1 0 1 0 12.2 0a6.1 6.1 0 1 0 -12.2 0zM1783.3 1090.6a6.1 6.1 0 1 0 12.2 0a6.1 6.1 0 1 0 -12.2 0zM1788.1 1095.6a6.1 6.1 0 1 0 12.2 0a6.1 6.1 0 1 0 -12.2 0zM1787.1 1106.5a6.1 6.1 0 1 0 12.2 0a6.1 6.1 0 1 0 -12.2 0zM1795.0 1069.5a6.1 6.1 0 1 0 12.2 0a6.1 6.1 0 1 0 -12.2 0zM1797.2 1076.1a6.1 6.1 0 1 0 12.2 0a6.1 6.1 0 1 0 -12.2 0zM1792.3 1084.5a6.1 6.1 0 1 0 12.2 0a6.1 6.1 0 1 0 -12.2 0zM1797.4 1092.0a6.1 6.1 0 1 0 12.2 0a6.1 6.1 0 1 0 -12.2 0zM1791.4 1094.3a6.1 6.1 0 1 0 12.2 0a6.1 6.1 0 1 0 -12.2 0zM1801.0 1072.6a6.1 6.1 0 1 0 12.2 0a6.1 6.1 0 1 0 -12.2 0zM1800.4 1082.0a6.1 6.1 0 1 0 12.2 0a6.1 6.1 0 1 0 -12.2 0zM1805.0 1089.0a6.1 6.1 0 1 0 12.2 0a6.1 6.1 0 1 0 -12.2 0zM1801.2 1097.9a6.1 6.1 0 1 0 12.2 0a6.1 6.1 0 1 0 -12.2 0zM1811.1 1092.8a6.1 6.1 0 1 0 12.2 0a6.1 6.1 0 1 0 -12.2 0zM1815.7 1067.9a6.1 6.1 0 1 0 12.2 0a6.1 6.1 0 1 0 -12.2 0zM1821.7 1062.1a6.1 6.1 0 1 0 12.2 0a6.1 6.1 0 1 0 -12.2 0zM1825.9 1084.8a6.1 6.1 0 1 0 12.2 0a6.1 6.1 0 1 0 -12.2 0zM1831.3 1056.8a6.1 6.1 0 1 0 12.2 0a6.1 6.1 0 1 0 -12.2 0zM1833.2 1063.3a6.1 6.1 0 1 0 12.2 0a6.1 6.1 0 1 0 -12.2 0zM1834.5 1070.4a6.1 6.1 0 1 0 12.2 0a6.1 6.1 0 1 0 -12.2 0zM1837.9 1062.8a6.1 6.1 0 1 0 12.2 0a6.1 6.1 0 1 0 -12.2 0zM1852.0 1064.3a6.1 6.1 0 1 0 12.2 0a6.1 6.1 0 1 0 -12.2 0zM1857.6 1072.0a6.1 6.1 0 1 0 12.2 0a6.1 6.1 0 1 0 -12.2 0zM1850.3 1078.6a6.1 6.1 0 1 0 12.2 0a6.1 6.1 0 1 0 -12.2 0zM1861.4 1055.1a6.1 6.1 0 1 0 12.2 0a6.1 6.1 0 1 0 -12.2 0zM1861.7 1071.7a6.1 6.1 0 1 0 12.2 0a6.1 6.1 0 1 0 -12.2 0zM1860.2 1079.1a6.1 6.1 0 1 0 12.2 0a6.1 6.1 0 1 0 -12.2 0zM1865.8 1067.0a6.1 6.1 0 1 0 12.2 0a6.1 6.1 0 1 0 -12.2 0zM1876.0 1062.0a6.1 6.1 0 1 0 12.2 0a6.1 6.1 0 1 0 -12.2 0zM1884.5 1054.9a6.1 6.1 0 1 0 12.2 0a6.1 6.1 0 1 0 -12.2 0zM1886.1 1063.3a6.1 6.1 0 1 0 12.2 0a6.1 6.1 0 1 0 -12.2 0zM1893.8 1045.7a6.1 6.1 0 1 0 12.2 0a6.1 6.1 0 1 0 -12.2 0zM1888.8 1058.9a6.1 6.1 0 1 0 12.2 0a6.1 6.1 0 1 0 -12.2 0zM1527.2 1090.4a6.1 6.1 0 1 0 12.2 0a6.1 6.1 0 1 0 -12.2 0zM1496.5 1122.7a6.1 6.1 0 1 0 12.2 0a6.1 6.1 0 1 0 -12.2 0zM1517.8 1117.3a6.1 6.1 0 1 0 12.2 0a6.1 6.1 0 1 0 -12.2 0zM1581.7 1083.4a6.1 6.1 0 1 0 12.2 0a6.1 6.1 0 1 0 -12.2 0zM1593.6 1091.8a6.1 6.1 0 1 0 12.2 0a6.1 6.1 0 1 0 -12.2 0zM1609.2 1073.2a6.1 6.1 0 1 0 12.2 0a6.1 6.1 0 1 0 -12.2 0zM1619.0 1081.2a6.1 6.1 0 1 0 12.2 0a6.1 6.1 0 1 0 -12.2 0zM1632.6 1081.8a6.1 6.1 0 1 0 12.2 0a6.1 6.1 0 1 0 -12.2 0zM1641.1 1082.2a6.1 6.1 0 1 0 12.2 0a6.1 6.1 0 1 0 -12.2 0zM1675.5 1071.4a6.1 6.1 0 1 0 12.2 0a6.1 6.1 0 1 0 -12.2 0zM1573.1 1105.1a6.1 6.1 0 1 0 12.2 0a6.1 6.1 0 1 0 -12.2 0zM1584.1 1103.1a6.1 6.1 0 1 0 12.2 0a6.1 6.1 0 1 0 -12.2 0zM1576.1 1114.1a6.1 6.1 0 1 0 12.2 0a6.1 6.1 0 1 0 -12.2 0zM1560.7 1120.3a6.1 6.1 0 1 0 12.2 0a6.1 6.1 0 1 0 -12.2 0zM1591.6 1118.3a6.1 6.1 0 1 0 12.2 0a6.1 6.1 0 1 0 -12.2 0zM1597.6 1116.7a6.1 6.1 0 1 0 12.2 0a6.1 6.1 0 1 0 -12.2 0zM1606.6 1108.7a6.1 6.1 0 1 0 12.2 0a6.1 6.1 0 1 0 -12.2 0zM1613.6 1111.7a6.1 6.1 0 1 0 12.2 0a6.1 6.1 0 1 0 -12.2 0zM1535.4 1131.1a6.1 6.1 0 1 0 12.2 0a6.1 6.1 0 1 0 -12.2 0zM1543.7 1135.7a6.1 6.1 0 1 0 12.2 0a6.1 6.1 0 1 0 -12.2 0zM1551.7 1135.1a6.1 6.1 0 1 0 12.2 0a6.1 6.1 0 1 0 -12.2 0zM1511.8 1145.2a6.1 6.1 0 1 0 12.2 0a6.1 6.1 0 1 0 -12.2 0zM1533.8 1150.0a6.1 6.1 0 1 0 12.2 0a6.1 6.1 0 1 0 -12.2 0zM1515.8 1158.0a6.1 6.1 0 1 0 12.2 0a6.1 6.1 0 1 0 -12.2 0zM1528.8 1169.2a6.1 6.1 0 1 0 12.2 0a6.1 6.1 0 1 0 -12.2 0zM1539.8 1163.6a6.1 6.1 0 1 0 12.2 0a6.1 6.1 0 1 0 -12.2 0zM1547.7 1166.6a6.1 6.1 0 1 0 12.2 0a6.1 6.1 0 1 0 -12.2 0zM1547.7 1178.0a6.1 6.1 0 1 0 12.2 0a6.1 6.1 0 1 0 -12.2 0zM1555.7 1157.6a6.1 6.1 0 1 0 12.2 0a6.1 6.1 0 1 0 -12.2 0zM1564.7 1162.6a6.1 6.1 0 1 0 12.2 0a6.1 6.1 0 1 0 -12.2 0zM1570.7 1155.6a6.1 6.1 0 1 0 12.2 0a6.1 6.1 0 1 0 -12.2 0zM1571.7 1143.6a6.1 6.1 0 1 0 12.2 0a6.1 6.1 0 1 0 -12.2 0zM1578.7 1133.7a6.1 6.1 0 1 0 12.2 0a6.1 6.1 0 1 0 -12.2 0zM1580.7 1160.6a6.1 6.1 0 1 0 12.2 0a6.1 6.1 0 1 0 -12.2 0zM1590.2 1160.6a6.1 6.1 0 1 0 12.2 0a6.1 6.1 0 1 0 -12.2 0zM1586.7 1145.6a6.1 6.1 0 1 0 12.2 0a6.1 6.1 0 1 0 -12.2 0zM1590.2 1184.0a6.1 6.1 0 1 0 12.2 0a6.1 6.1 0 1 0 -12.2 0zM1605.0 1153.2a6.1 6.1 0 1 0 12.2 0a6.1 6.1 0 1 0 -12.2 0zM1617.2 1155.6a6.1 6.1 0 1 0 12.2 0a6.1 6.1 0 1 0 -12.2 0zM1630.6 1158.0a6.1 6.1 0 1 0 12.2 0a6.1 6.1 0 1 0 -12.2 0zM1619.0 1178.0a6.1 6.1 0 1 0 12.2 0a6.1 6.1 0 1 0 -12.2 0zM1634.5 1170.0a6.1 6.1 0 1 0 12.2 0a6.1 6.1 0 1 0 -12.2 0zM1643.5 1149.6a6.1 6.1 0 1 0 12.2 0a6.1 6.1 0 1 0 -12.2 0zM1664.1 1153.2a6.1 6.1 0 1 0 12.2 0a6.1 6.1 0 1 0 -12.2 0zM1683.0 1151.2a6.1 6.1 0 1 0 12.2 0a6.1 6.1 0 1 0 -12.2 0zM1694.8 1145.6a6.1 6.1 0 1 0 12.2 0a6.1 6.1 0 1 0 -12.2 0zM1700.4 1137.7a6.1 6.1 0 1 0 12.2 0a6.1 6.1 0 1 0 -12.2 0zM1738.3 1140.6a6.1 6.1 0 1 0 12.2 0a6.1 6.1 0 1 0 -12.2 0zM1748.9 1148.6a6.1 6.1 0 1 0 12.2 0a6.1 6.1 0 1 0 -12.2 0zM1712.4 1132.7a6.1 6.1 0 1 0 12.2 0a6.1 6.1 0 1 0 -12.2 0zM1730.3 1130.3a6.1 6.1 0 1 0 12.2 0a6.1 6.1 0 1 0 -12.2 0zM1506.8 1189.1a6.1 6.1 0 1 0 12.2 0a6.1 6.1 0 1 0 -12.2 0zM1515.8 1209.5a6.1 6.1 0 1 0 12.2 0a6.1 6.1 0 1 0 -12.2 0zM1525.8 1206.9a6.1 6.1 0 1 0 12.2 0a6.1 6.1 0 1 0 -12.2 0zM1717.8 1059.8a6.1 6.1 0 1 0 12.2 0a6.1 6.1 0 1 0 -12.2 0zM1724.3 1061.8a6.1 6.1 0 1 0 12.2 0a6.1 6.1 0 1 0 -12.2 0zM1736.3 1066.8a6.1 6.1 0 1 0 12.2 0a6.1 6.1 0 1 0 -12.2 0zM1712.4 1068.8a6.1 6.1 0 1 0 12.2 0a6.1 6.1 0 1 0 -12.2 0zM1700.4 1075.4a6.1 6.1 0 1 0 12.2 0a6.1 6.1 0 1 0 -12.2 0zM1689.0 1077.4a6.1 6.1 0 1 0 12.2 0a6.1 6.1 0 1 0 -12.2 0zM1662.5 1085.8a6.1 6.1 0 1 0 12.2 0a6.1 6.1 0 1 0 -12.2 0zM1675.5 1085.4a6.1 6.1 0 1 0 12.2 0a6.1 6.1 0 1 0 -12.2 0zM1625.6 1106.1a6.1 6.1 0 1 0 12.2 0a6.1 6.1 0 1 0 -12.2 0zM1635.5 1099.7a6.1 6.1 0 1 0 12.2 0a6.1 6.1 0 1 0 -12.2 0zM1643.5 1095.7a6.1 6.1 0 1 0 12.2 0a6.1 6.1 0 1 0 -12.2 0zM1649.5 1094.1a6.1 6.1 0 1 0 12.2 0a6.1 6.1 0 1 0 -12.2 0zM1601.6 1131.7a6.1 6.1 0 1 0 12.2 0a6.1 6.1 0 1 0 -12.2 0zM1609.6 1139.6a6.1 6.1 0 1 0 12.2 0a6.1 6.1 0 1 0 -12.2 0zM1617.6 1131.7a6.1 6.1 0 1 0 12.2 0a6.1 6.1 0 1 0 -12.2 0zM1625.6 1134.7a6.1 6.1 0 1 0 12.2 0a6.1 6.1 0 1 0 -12.2 0zM1593.6 1127.7a6.1 6.1 0 1 0 12.2 0a6.1 6.1 0 1 0 -12.2 0zM1585.7 1137.7a6.1 6.1 0 1 0 12.2 0a6.1 6.1 0 1 0 -12.2 0zM1597.6 1143.6a6.1 6.1 0 1 0 12.2 0a6.1 6.1 0 1 0 -12.2 0zM1613.6 1123.7a6.1 6.1 0 1 0 12.2 0a6.1 6.1 0 1 0 -12.2 0zM1621.6 1119.7a6.1 6.1 0 1 0 12.2 0a6.1 6.1 0 1 0 -12.2 0zM1629.6 1115.7a6.1 6.1 0 1 0 12.2 0a6.1 6.1 0 1 0 -12.2 0zM1613.6 1145.6a6.1 6.1 0 1 0 12.2 0a6.1 6.1 0 1 0 -12.2 0zM1625.6 1147.6a6.1 6.1 0 1 0 12.2 0a6.1 6.1 0 1 0 -12.2 0zM1633.5 1143.6a6.1 6.1 0 1 0 12.2 0a6.1 6.1 0 1 0 -12.2 0zM1837.2 1011.2a6.1 6.1 0 1 0 12.2 0a6.1 6.1 0 1 0 -12.2 0zM1823.3 1019.8a6.1 6.1 0 1 0 12.2 0a6.1 6.1 0 1 0 -12.2 0zM1838.0 1022.2a6.1 6.1 0 1 0 12.2 0a6.1 6.1 0 1 0 -12.2 0zM1823.1 1033.4a6.1 6.1 0 1 0 12.2 0a6.1 6.1 0 1 0 -12.2 0zM1839.0 1040.3a6.1 6.1 0 1 0 12.2 0a6.1 6.1 0 1 0 -12.2 0zM1854.6 1032.8a6.1 6.1 0 1 0 12.2 0a6.1 6.1 0 1 0 -12.2 0zM1870.0 1017.8a6.1 6.1 0 1 0 12.2 0a6.1 6.1 0 1 0 -12.2 0zM1868.6 1023.8a6.1 6.1 0 1 0 12.2 0a6.1 6.1 0 1 0 -12.2 0zM1868.6 1030.8a6.1 6.1 0 1 0 12.2 0a6.1 6.1 0 1 0 -12.2 0zM1875.6 1043.3a6.1 6.1 0 1 0 12.2 0a6.1 6.1 0 1 0 -12.2 0zM1879.5 1042.1a6.1 6.1 0 1 0 12.2 0a6.1 6.1 0 1 0 -12.2 0zM1902.9 1027.8a6.1 6.1 0 1 0 12.2 0a6.1 6.1 0 1 0 -12.2 0zM1903.9 1033.7a6.1 6.1 0 1 0 12.2 0a6.1 6.1 0 1 0 -12.2 0zM1904.5 1039.7a6.1 6.1 0 1 0 12.2 0a6.1 6.1 0 1 0 -12.2 0zM1900.5 1046.1a6.1 6.1 0 1 0 12.2 0a6.1 6.1 0 1 0 -12.2 0zM1924.8 1029.4a6.1 6.1 0 1 0 12.2 0a6.1 6.1 0 1 0 -12.2 0zM1931.4 1031.8a6.1 6.1 0 1 0 12.2 0a6.1 6.1 0 1 0 -12.2 0zM1927.4 1041.1a6.1 6.1 0 1 0 12.2 0a6.1 6.1 0 1 0 -12.2 0zM1942.8 1023.2a6.1 6.1 0 1 0 12.2 0a6.1 6.1 0 1 0 -12.2 0zM1942.8 1044.1a6.1 6.1 0 1 0 12.2 0a6.1 6.1 0 1 0 -12.2 0zM1919.5 1060.3a6.1 6.1 0 1 0 12.2 0a6.1 6.1 0 1 0 -12.2 0zM1909.5 1081.0a6.1 6.1 0 1 0 12.2 0a6.1 6.1 0 1 0 -12.2 0zM1898.5 1060.7a6.1 6.1 0 1 0 12.2 0a6.1 6.1 0 1 0 -12.2 0zM1902.5 1068.7a6.1 6.1 0 1 0 12.2 0a6.1 6.1 0 1 0 -12.2 0zM1892.5 1075.7a6.1 6.1 0 1 0 12.2 0a6.1 6.1 0 1 0 -12.2 0zM1883.5 1082.6a6.1 6.1 0 1 0 12.2 0a6.1 6.1 0 1 0 -12.2 0zM1877.6 1077.7a6.1 6.1 0 1 0 12.2 0a6.1 6.1 0 1 0 -12.2 0zM1875.6 1057.7a6.1 6.1 0 1 0 12.2 0a6.1 6.1 0 1 0 -12.2 0zM1885.5 1053.7a6.1 6.1 0 1 0 12.2 0a6.1 6.1 0 1 0 -12.2 0zM1759.8 1051.7a6.1 6.1 0 1 0 12.2 0a6.1 6.1 0 1 0 -12.2 0zM1765.8 1047.7a6.1 6.1 0 1 0 12.2 0a6.1 6.1 0 1 0 -12.2 0zM1780.4 1048.1a6.1 6.1 0 1 0 12.2 0a6.1 6.1 0 1 0 -12.2 0zM1791.7 1054.1a6.1 6.1 0 1 0 12.2 0a6.1 6.1 0 1 0 -12.2 0zM1806.1 1043.7a6.1 6.1 0 1 0 12.2 0a6.1 6.1 0 1 0 -12.2 0zM1806.7 1052.7a6.1 6.1 0 1 0 12.2 0a6.1 6.1 0 1 0 -12.2 0zM1813.7 1055.7a6.1 6.1 0 1 0 12.2 0a6.1 6.1 0 1 0 -12.2 0zM1829.7 1053.3a6.1 6.1 0 1 0 12.2 0a6.1 6.1 0 1 0 -12.2 0zM1839.6 1049.7a6.1 6.1 0 1 0 12.2 0a6.1 6.1 0 1 0 -12.2 0zM1851.6 1049.7a6.1 6.1 0 1 0 12.2 0a6.1 6.1 0 1 0 -12.2 0zM1857.6 1050.7a6.1 6.1 0 1 0 12.2 0a6.1 6.1 0 1 0 -12.2 0zM1861.6 1058.7a6.1 6.1 0 1 0 12.2 0a6.1 6.1 0 1 0 -12.2 0zM1724.9 1062.1a6.1 6.1 0 1 0 12.2 0a6.1 6.1 0 1 0 -12.2 0zM1736.9 1066.7a6.1 6.1 0 1 0 12.2 0a6.1 6.1 0 1 0 -12.2 0zM1748.8 1070.7a6.1 6.1 0 1 0 12.2 0a6.1 6.1 0 1 0 -12.2 0zM1779.8 1061.7a6.1 6.1 0 1 0 12.2 0a6.1 6.1 0 1 0 -12.2 0zM1822.7 1097.6a6.1 6.1 0 1 0 12.2 0a6.1 6.1 0 1 0 -12.2 0zM1845.6 1088.6a6.1 6.1 0 1 0 12.2 0a6.1 6.1 0 1 0 -12.2 0zM1850.6 1095.2a6.1 6.1 0 1 0 12.2 0a6.1 6.1 0 1 0 -12.2 0zM1843.6 1109.2a6.1 6.1 0 1 0 12.2 0a6.1 6.1 0 1 0 -12.2 0zM1847.6 1112.6a6.1 6.1 0 1 0 12.2 0a6.1 6.1 0 1 0 -12.2 0zM1815.7 1118.6a6.1 6.1 0 1 0 12.2 0a6.1 6.1 0 1 0 -12.2 0zM1820.7 1117.6a6.1 6.1 0 1 0 12.2 0a6.1 6.1 0 1 0 -12.2 0zM1790.7 1120.0a6.1 6.1 0 1 0 12.2 0a6.1 6.1 0 1 0 -12.2 0zM1779.8 1125.1a6.1 6.1 0 1 0 12.2 0a6.1 6.1 0 1 0 -12.2 0zM1762.2 1128.5a6.1 6.1 0 1 0 12.2 0a6.1 6.1 0 1 0 -12.2 0zM1745.8 1124.5a6.1 6.1 0 1 0 12.2 0a6.1 6.1 0 1 0 -12.2 0zM1730.9 1130.1a6.1 6.1 0 1 0 12.2 0a6.1 6.1 0 1 0 -12.2 0zM1737.9 1140.5a6.1 6.1 0 1 0 12.2 0a6.1 6.1 0 1 0 -12.2 0zM1748.8 1148.5a6.1 6.1 0 1 0 12.2 0a6.1 6.1 0 1 0 -12.2 0zM1828.7 1091.6a6.1 6.1 0 1 0 12.2 0a6.1 6.1 0 1 0 -12.2 0zM1817.7 1083.6a6.1 6.1 0 1 0 12.2 0a6.1 6.1 0 1 0 -12.2 0zM1863.6 1073.7a6.1 6.1 0 1 0 12.2 0a6.1 6.1 0 1 0 -12.2 0zM1862.6 1080.6a6.1 6.1 0 1 0 12.2 0a6.1 6.1 0 1 0 -12.2 0zM1807.7 1093.6a6.1 6.1 0 1 0 12.2 0a6.1 6.1 0 1 0 -12.2 0zM1801.7 1103.6a6.1 6.1 0 1 0 12.2 0a6.1 6.1 0 1 0 -12.2 0zM1769.8 1117.6a6.1 6.1 0 1 0 12.2 0a6.1 6.1 0 1 0 -12.2 0zM1819.7 1063.7a6.1 6.1 0 1 0 12.2 0a6.1 6.1 0 1 0 -12.2 0zM1827.7 1071.7a6.1 6.1 0 1 0 12.2 0a6.1 6.1 0 1 0 -12.2 0zM1835.6 1063.7a6.1 6.1 0 1 0 12.2 0a6.1 6.1 0 1 0 -12.2 0zM1843.6 1071.7a6.1 6.1 0 1 0 12.2 0a6.1 6.1 0 1 0 -12.2 0zM1851.6 1063.7a6.1 6.1 0 1 0 12.2 0a6.1 6.1 0 1 0 -12.2 0zM1859.6 1067.7a6.1 6.1 0 1 0 12.2 0a6.1 6.1 0 1 0 -12.2 0zM1871.6 1067.7a6.1 6.1 0 1 0 12.2 0a6.1 6.1 0 1 0 -12.2 0zM1883.5 1067.7a6.1 6.1 0 1 0 12.2 0a6.1 6.1 0 1 0 -12.2 0zM1891.5 1063.7a6.1 6.1 0 1 0 12.2 0a6.1 6.1 0 1 0 -12.2 0zM1831.7 1081.6a6.1 6.1 0 1 0 12.2 0a6.1 6.1 0 1 0 -12.2 0zM1839.6 1079.6a6.1 6.1 0 1 0 12.2 0a6.1 6.1 0 1 0 -12.2 0zM1849.6 1077.7a6.1 6.1 0 1 0 12.2 0a6.1 6.1 0 1 0 -12.2 0zM1815.7 1073.7a6.1 6.1 0 1 0 12.2 0a6.1 6.1 0 1 0 -12.2 0zM1627.6 1111.1a6.1 6.1 0 1 0 12.2 0a6.1 6.1 0 1 0 -12.2 0zM1625.3 1120.0a6.1 6.1 0 1 0 12.2 0a6.1 6.1 0 1 0 -12.2 0zM1623.8 1121.6a6.1 6.1 0 1 0 12.2 0a6.1 6.1 0 1 0 -12.2 0zM1624.9 1127.6a6.1 6.1 0 1 0 12.2 0a6.1 6.1 0 1 0 -12.2 0zM1624.9 1133.9a6.1 6.1 0 1 0 12.2 0a6.1 6.1 0 1 0 -12.2 0zM1630.1 1106.4a6.1 6.1 0 1 0 12.2 0a6.1 6.1 0 1 0 -12.2 0zM1632.2 1114.3a6.1 6.1 0 1 0 12.2 0a6.1 6.1 0 1 0 -12.2 0zM1633.7 1120.5a6.1 6.1 0 1 0 12.2 0a6.1 6.1 0 1 0 -12.2 0zM1633.3 1128.5a6.1 6.1 0 1 0 12.2 0a6.1 6.1 0 1 0 -12.2 0zM1632.8 1131.8a6.1 6.1 0 1 0 12.2 0a6.1 6.1 0 1 0 -12.2 0zM1639.7 1115.7a6.1 6.1 0 1 0 12.2 0a6.1 6.1 0 1 0 -12.2 0zM1638.2 1120.4a6.1 6.1 0 1 0 12.2 0a6.1 6.1 0 1 0 -12.2 0zM1637.2 1122.8a6.1 6.1 0 1 0 12.2 0a6.1 6.1 0 1 0 -12.2 0zM1635.5 1132.2a6.1 6.1 0 1 0 12.2 0a6.1 6.1 0 1 0 -12.2 0zM1637.6 1136.9a6.1 6.1 0 1 0 12.2 0a6.1 6.1 0 1 0 -12.2 0zM1643.8 1105.0a6.1 6.1 0 1 0 12.2 0a6.1 6.1 0 1 0 -12.2 0zM1646.3 1113.2a6.1 6.1 0 1 0 12.2 0a6.1 6.1 0 1 0 -12.2 0zM1642.4 1114.2a6.1 6.1 0 1 0 12.2 0a6.1 6.1 0 1 0 -12.2 0zM1641.6 1124.2a6.1 6.1 0 1 0 12.2 0a6.1 6.1 0 1 0 -12.2 0zM1641.7 1127.7a6.1 6.1 0 1 0 12.2 0a6.1 6.1 0 1 0 -12.2 0zM1645.3 1134.8a6.1 6.1 0 1 0 12.2 0a6.1 6.1 0 1 0 -12.2 0zM1651.0 1099.6a6.1 6.1 0 1 0 12.2 0a6.1 6.1 0 1 0 -12.2 0zM1651.0 1109.8a6.1 6.1 0 1 0 12.2 0a6.1 6.1 0 1 0 -12.2 0zM1647.3 1114.4a6.1 6.1 0 1 0 12.2 0a6.1 6.1 0 1 0 -12.2 0zM1647.0 1120.0a6.1 6.1 0 1 0 12.2 0a6.1 6.1 0 1 0 -12.2 0zM1647.4 1124.4a6.1 6.1 0 1 0 12.2 0a6.1 6.1 0 1 0 -12.2 0zM1649.7 1130.0a6.1 6.1 0 1 0 12.2 0a6.1 6.1 0 1 0 -12.2 0zM1658.2 1100.8a6.1 6.1 0 1 0 12.2 0a6.1 6.1 0 1 0 -12.2 0zM1656.8 1106.5a6.1 6.1 0 1 0 12.2 0a6.1 6.1 0 1 0 -12.2 0zM1655.2 1112.6a6.1 6.1 0 1 0 12.2 0a6.1 6.1 0 1 0 -12.2 0zM1658.5 1118.1a6.1 6.1 0 1 0 12.2 0a6.1 6.1 0 1 0 -12.2 0zM1658.7 1121.9a6.1 6.1 0 1 0 12.2 0a6.1 6.1 0 1 0 -12.2 0zM1653.3 1131.3a6.1 6.1 0 1 0 12.2 0a6.1 6.1 0 1 0 -12.2 0zM1660.2 1095.2a6.1 6.1 0 1 0 12.2 0a6.1 6.1 0 1 0 -12.2 0zM1663.4 1100.8a6.1 6.1 0 1 0 12.2 0a6.1 6.1 0 1 0 -12.2 0zM1662.0 1107.6a6.1 6.1 0 1 0 12.2 0a6.1 6.1 0 1 0 -12.2 0zM1663.3 1117.7a6.1 6.1 0 1 0 12.2 0a6.1 6.1 0 1 0 -12.2 0zM1663.0 1119.7a6.1 6.1 0 1 0 12.2 0a6.1 6.1 0 1 0 -12.2 0zM1661.5 1126.9a6.1 6.1 0 1 0 12.2 0a6.1 6.1 0 1 0 -12.2 0zM1664.0 1130.9a6.1 6.1 0 1 0 12.2 0a6.1 6.1 0 1 0 -12.2 0zM1670.5 1095.8a6.1 6.1 0 1 0 12.2 0a6.1 6.1 0 1 0 -12.2 0zM1666.5 1101.5a6.1 6.1 0 1 0 12.2 0a6.1 6.1 0 1 0 -12.2 0zM1666.8 1106.9a6.1 6.1 0 1 0 12.2 0a6.1 6.1 0 1 0 -12.2 0zM1670.0 1116.5a6.1 6.1 0 1 0 12.2 0a6.1 6.1 0 1 0 -12.2 0zM1668.9 1119.9a6.1 6.1 0 1 0 12.2 0a6.1 6.1 0 1 0 -12.2 0zM1665.1 1124.9a6.1 6.1 0 1 0 12.2 0a6.1 6.1 0 1 0 -12.2 0zM1667.1 1132.3a6.1 6.1 0 1 0 12.2 0a6.1 6.1 0 1 0 -12.2 0zM1672.7 1093.1a6.1 6.1 0 1 0 12.2 0a6.1 6.1 0 1 0 -12.2 0zM1673.3 1103.3a6.1 6.1 0 1 0 12.2 0a6.1 6.1 0 1 0 -12.2 0zM1674.9 1106.8a6.1 6.1 0 1 0 12.2 0a6.1 6.1 0 1 0 -12.2 0zM1674.0 1114.7a6.1 6.1 0 1 0 12.2 0a6.1 6.1 0 1 0 -12.2 0zM1671.2 1119.5a6.1 6.1 0 1 0 12.2 0a6.1 6.1 0 1 0 -12.2 0zM1672.4 1125.8a6.1 6.1 0 1 0 12.2 0a6.1 6.1 0 1 0 -12.2 0zM1677.8 1091.9a6.1 6.1 0 1 0 12.2 0a6.1 6.1 0 1 0 -12.2 0zM1679.6 1096.6a6.1 6.1 0 1 0 12.2 0a6.1 6.1 0 1 0 -12.2 0zM1680.2 1105.6a6.1 6.1 0 1 0 12.2 0a6.1 6.1 0 1 0 -12.2 0zM1681.6 1112.2a6.1 6.1 0 1 0 12.2 0a6.1 6.1 0 1 0 -12.2 0zM1679.0 1119.7a6.1 6.1 0 1 0 12.2 0a6.1 6.1 0 1 0 -12.2 0zM1679.6 1122.0a6.1 6.1 0 1 0 12.2 0a6.1 6.1 0 1 0 -12.2 0zM1681.7 1126.9a6.1 6.1 0 1 0 12.2 0a6.1 6.1 0 1 0 -12.2 0zM1683.3 1089.6a6.1 6.1 0 1 0 12.2 0a6.1 6.1 0 1 0 -12.2 0zM1685.8 1100.5a6.1 6.1 0 1 0 12.2 0a6.1 6.1 0 1 0 -12.2 0zM1686.1 1101.0a6.1 6.1 0 1 0 12.2 0a6.1 6.1 0 1 0 -12.2 0zM1684.8 1108.3a6.1 6.1 0 1 0 12.2 0a6.1 6.1 0 1 0 -12.2 0zM1685.4 1113.7a6.1 6.1 0 1 0 12.2 0a6.1 6.1 0 1 0 -12.2 0zM1683.8 1120.0a6.1 6.1 0 1 0 12.2 0a6.1 6.1 0 1 0 -12.2 0zM1683.4 1129.4a6.1 6.1 0 1 0 12.2 0a6.1 6.1 0 1 0 -12.2 0zM1689.3 1091.0a6.1 6.1 0 1 0 12.2 0a6.1 6.1 0 1 0 -12.2 0zM1693.3 1098.0a6.1 6.1 0 1 0 12.2 0a6.1 6.1 0 1 0 -12.2 0zM1690.5 1101.9a6.1 6.1 0 1 0 12.2 0a6.1 6.1 0 1 0 -12.2 0zM1691.3 1110.8a6.1 6.1 0 1 0 12.2 0a6.1 6.1 0 1 0 -12.2 0zM1689.0 1111.6a6.1 6.1 0 1 0 12.2 0a6.1 6.1 0 1 0 -12.2 0zM1689.0 1120.7a6.1 6.1 0 1 0 12.2 0a6.1 6.1 0 1 0 -12.2 0zM1696.4 1091.1a6.1 6.1 0 1 0 12.2 0a6.1 6.1 0 1 0 -12.2 0zM1700.5 1096.2a6.1 6.1 0 1 0 12.2 0a6.1 6.1 0 1 0 -12.2 0zM1698.9 1107.7a6.1 6.1 0 1 0 12.2 0a6.1 6.1 0 1 0 -12.2 0zM1695.3 1108.2a6.1 6.1 0 1 0 12.2 0a6.1 6.1 0 1 0 -12.2 0zM1699.0 1115.9a6.1 6.1 0 1 0 12.2 0a6.1 6.1 0 1 0 -12.2 0zM1701.8 1086.8a6.1 6.1 0 1 0 12.2 0a6.1 6.1 0 1 0 -12.2 0zM1703.1 1088.1a6.1 6.1 0 1 0 12.2 0a6.1 6.1 0 1 0 -12.2 0zM1703.8 1094.5a6.1 6.1 0 1 0 12.2 0a6.1 6.1 0 1 0 -12.2 0zM1701.5 1104.9a6.1 6.1 0 1 0 12.2 0a6.1 6.1 0 1 0 -12.2 0zM1702.2 1108.6a6.1 6.1 0 1 0 12.2 0a6.1 6.1 0 1 0 -12.2 0zM1704.3 1112.9a6.1 6.1 0 1 0 12.2 0a6.1 6.1 0 1 0 -12.2 0zM1703.8 1117.4a6.1 6.1 0 1 0 12.2 0a6.1 6.1 0 1 0 -12.2 0zM1708.3 1087.6a6.1 6.1 0 1 0 12.2 0a6.1 6.1 0 1 0 -12.2 0zM1707.9 1092.3a6.1 6.1 0 1 0 12.2 0a6.1 6.1 0 1 0 -12.2 0zM1707.3 1101.6a6.1 6.1 0 1 0 12.2 0a6.1 6.1 0 1 0 -12.2 0zM1707.9 1104.9a6.1 6.1 0 1 0 12.2 0a6.1 6.1 0 1 0 -12.2 0zM1709.4 1111.2a6.1 6.1 0 1 0 12.2 0a6.1 6.1 0 1 0 -12.2 0zM1715.0 1076.7a6.1 6.1 0 1 0 12.2 0a6.1 6.1 0 1 0 -12.2 0zM1716.7 1085.2a6.1 6.1 0 1 0 12.2 0a6.1 6.1 0 1 0 -12.2 0zM1713.0 1093.4a6.1 6.1 0 1 0 12.2 0a6.1 6.1 0 1 0 -12.2 0zM1718.0 1098.6a6.1 6.1 0 1 0 12.2 0a6.1 6.1 0 1 0 -12.2 0zM1714.0 1105.4a6.1 6.1 0 1 0 12.2 0a6.1 6.1 0 1 0 -12.2 0zM1713.3 1109.4a6.1 6.1 0 1 0 12.2 0a6.1 6.1 0 1 0 -12.2 0zM1713.0 1115.0a6.1 6.1 0 1 0 12.2 0a6.1 6.1 0 1 0 -12.2 0zM1721.6 1075.9a6.1 6.1 0 1 0 12.2 0a6.1 6.1 0 1 0 -12.2 0zM1722.9 1082.1a6.1 6.1 0 1 0 12.2 0a6.1 6.1 0 1 0 -12.2 0zM1724.4 1088.7a6.1 6.1 0 1 0 12.2 0a6.1 6.1 0 1 0 -12.2 0zM1719.5 1093.2a6.1 6.1 0 1 0 12.2 0a6.1 6.1 0 1 0 -12.2 0zM1724.6 1104.0a6.1 6.1 0 1 0 12.2 0a6.1 6.1 0 1 0 -12.2 0zM1723.1 1106.8a6.1 6.1 0 1 0 12.2 0a6.1 6.1 0 1 0 -12.2 0zM1724.3 1111.0a6.1 6.1 0 1 0 12.2 0a6.1 6.1 0 1 0 -12.2 0zM1727.0 1074.1a6.1 6.1 0 1 0 12.2 0a6.1 6.1 0 1 0 -12.2 0zM1728.7 1082.3a6.1 6.1 0 1 0 12.2 0a6.1 6.1 0 1 0 -12.2 0zM1727.8 1086.1a6.1 6.1 0 1 0 12.2 0a6.1 6.1 0 1 0 -12.2 0zM1725.0 1095.2a6.1 6.1 0 1 0 12.2 0a6.1 6.1 0 1 0 -12.2 0zM1727.8 1099.8a6.1 6.1 0 1 0 12.2 0a6.1 6.1 0 1 0 -12.2 0zM1725.7 1104.9a6.1 6.1 0 1 0 12.2 0a6.1 6.1 0 1 0 -12.2 0zM1728.0 1111.5a6.1 6.1 0 1 0 12.2 0a6.1 6.1 0 1 0 -12.2 0zM1736.6 1082.0a6.1 6.1 0 1 0 12.2 0a6.1 6.1 0 1 0 -12.2 0zM1734.2 1085.2a6.1 6.1 0 1 0 12.2 0a6.1 6.1 0 1 0 -12.2 0zM1732.0 1094.6a6.1 6.1 0 1 0 12.2 0a6.1 6.1 0 1 0 -12.2 0zM1731.1 1097.8a6.1 6.1 0 1 0 12.2 0a6.1 6.1 0 1 0 -12.2 0zM1734.0 1104.0a6.1 6.1 0 1 0 12.2 0a6.1 6.1 0 1 0 -12.2 0zM1733.1 1110.4a6.1 6.1 0 1 0 12.2 0a6.1 6.1 0 1 0 -12.2 0zM1741.6 1071.8a6.1 6.1 0 1 0 12.2 0a6.1 6.1 0 1 0 -12.2 0zM1740.4 1082.1a6.1 6.1 0 1 0 12.2 0a6.1 6.1 0 1 0 -12.2 0zM1738.6 1088.8a6.1 6.1 0 1 0 12.2 0a6.1 6.1 0 1 0 -12.2 0zM1738.5 1091.7a6.1 6.1 0 1 0 12.2 0a6.1 6.1 0 1 0 -12.2 0zM1738.9 1101.1a6.1 6.1 0 1 0 12.2 0a6.1 6.1 0 1 0 -12.2 0zM1739.5 1106.8a6.1 6.1 0 1 0 12.2 0a6.1 6.1 0 1 0 -12.2 0zM1742.5 1111.3a6.1 6.1 0 1 0 12.2 0a6.1 6.1 0 1 0 -12.2 0zM1743.4 1073.8a6.1 6.1 0 1 0 12.2 0a6.1 6.1 0 1 0 -12.2 0zM1746.6 1081.9a6.1 6.1 0 1 0 12.2 0a6.1 6.1 0 1 0 -12.2 0zM1746.2 1087.7a6.1 6.1 0 1 0 12.2 0a6.1 6.1 0 1 0 -12.2 0zM1747.8 1090.4a6.1 6.1 0 1 0 12.2 0a6.1 6.1 0 1 0 -12.2 0zM1746.9 1096.7a6.1 6.1 0 1 0 12.2 0a6.1 6.1 0 1 0 -12.2 0zM1747.7 1105.6a6.1 6.1 0 1 0 12.2 0a6.1 6.1 0 1 0 -12.2 0zM1745.8 1110.8a6.1 6.1 0 1 0 12.2 0a6.1 6.1 0 1 0 -12.2 0zM1753.5 1074.9a6.1 6.1 0 1 0 12.2 0a6.1 6.1 0 1 0 -12.2 0zM1754.6 1078.1a6.1 6.1 0 1 0 12.2 0a6.1 6.1 0 1 0 -12.2 0zM1754.7 1085.9a6.1 6.1 0 1 0 12.2 0a6.1 6.1 0 1 0 -12.2 0zM1751.5 1090.1a6.1 6.1 0 1 0 12.2 0a6.1 6.1 0 1 0 -12.2 0zM1754.7 1095.0a6.1 6.1 0 1 0 12.2 0a6.1 6.1 0 1 0 -12.2 0zM1754.0 1100.9a6.1 6.1 0 1 0 12.2 0a6.1 6.1 0 1 0 -12.2 0zM1749.1 1108.3a6.1 6.1 0 1 0 12.2 0a6.1 6.1 0 1 0 -12.2 0zM1759.2 1072.8a6.1 6.1 0 1 0 12.2 0a6.1 6.1 0 1 0 -12.2 0zM1758.2 1079.4a6.1 6.1 0 1 0 12.2 0a6.1 6.1 0 1 0 -12.2 0zM1759.7 1087.9a6.1 6.1 0 1 0 12.2 0a6.1 6.1 0 1 0 -12.2 0zM1759.7 1091.8a6.1 6.1 0 1 0 12.2 0a6.1 6.1 0 1 0 -12.2 0zM1756.3 1098.2a6.1 6.1 0 1 0 12.2 0a6.1 6.1 0 1 0 -12.2 0zM1760.0 1103.4a6.1 6.1 0 1 0 12.2 0a6.1 6.1 0 1 0 -12.2 0zM1760.0 1111.3a6.1 6.1 0 1 0 12.2 0a6.1 6.1 0 1 0 -12.2 0zM1766.1 1076.6a6.1 6.1 0 1 0 12.2 0a6.1 6.1 0 1 0 -12.2 0zM1762.5 1083.7a6.1 6.1 0 1 0 12.2 0a6.1 6.1 0 1 0 -12.2 0zM1763.3 1089.6a6.1 6.1 0 1 0 12.2 0a6.1 6.1 0 1 0 -12.2 0zM1764.4 1095.5a6.1 6.1 0 1 0 12.2 0a6.1 6.1 0 1 0 -12.2 0zM1761.6 1101.9a6.1 6.1 0 1 0 12.2 0a6.1 6.1 0 1 0 -12.2 0zM1771.7 1075.7a6.1 6.1 0 1 0 12.2 0a6.1 6.1 0 1 0 -12.2 0zM1772.5 1084.0a6.1 6.1 0 1 0 12.2 0a6.1 6.1 0 1 0 -12.2 0zM1771.5 1092.0a6.1 6.1 0 1 0 12.2 0a6.1 6.1 0 1 0 -12.2 0zM1769.7 1096.7a6.1 6.1 0 1 0 12.2 0a6.1 6.1 0 1 0 -12.2 0zM1767.0 1103.6a6.1 6.1 0 1 0 12.2 0a6.1 6.1 0 1 0 -12.2 0zM1771.8 1105.6a6.1 6.1 0 1 0 12.2 0a6.1 6.1 0 1 0 -12.2 0zM1776.7 1081.2a6.1 6.1 0 1 0 12.2 0a6.1 6.1 0 1 0 -12.2 0zM1778.5 1085.0a6.1 6.1 0 1 0 12.2 0a6.1 6.1 0 1 0 -12.2 0zM1778.8 1088.3a6.1 6.1 0 1 0 12.2 0a6.1 6.1 0 1 0 -12.2 0zM1774.8 1097.0a6.1 6.1 0 1 0 12.2 0a6.1 6.1 0 1 0 -12.2 0zM1776.5 1101.9a6.1 6.1 0 1 0 12.2 0a6.1 6.1 0 1 0 -12.2 0zM1781.5 1081.2a6.1 6.1 0 1 0 12.2 0a6.1 6.1 0 1 0 -12.2 0zM1780.0 1084.4a6.1 6.1 0 1 0 12.2 0a6.1 6.1 0 1 0 -12.2 0zM1783.7 1090.1a6.1 6.1 0 1 0 12.2 0a6.1 6.1 0 1 0 -12.2 0zM1781.7 1097.4a6.1 6.1 0 1 0 12.2 0a6.1 6.1 0 1 0 -12.2 0zM1780.3 1104.8a6.1 6.1 0 1 0 12.2 0a6.1 6.1 0 1 0 -12.2 0zM1785.1 1076.1a6.1 6.1 0 1 0 12.2 0a6.1 6.1 0 1 0 -12.2 0zM1788.1 1084.5a6.1 6.1 0 1 0 12.2 0a6.1 6.1 0 1 0 -12.2 0zM1787.1 1089.2a6.1 6.1 0 1 0 12.2 0a6.1 6.1 0 1 0 -12.2 0zM1788.5 1094.5a6.1 6.1 0 1 0 12.2 0a6.1 6.1 0 1 0 -12.2 0zM1792.0 1085.6a6.1 6.1 0 1 0 12.2 0a6.1 6.1 0 1 0 -12.2 0zM1796.5 1088.7a6.1 6.1 0 1 0 12.2 0a6.1 6.1 0 1 0 -12.2 0zM1799.5 1073.7a6.1 6.1 0 1 0 12.2 0a6.1 6.1 0 1 0 -12.2 0zM1800.1 1078.3a6.1 6.1 0 1 0 12.2 0a6.1 6.1 0 1 0 -12.2 0zM1799.8 1088.6a6.1 6.1 0 1 0 12.2 0a6.1 6.1 0 1 0 -12.2 0zM1804.1 1069.7a6.1 6.1 0 1 0 12.2 0a6.1 6.1 0 1 0 -12.2 0zM1805.4 1077.4a6.1 6.1 0 1 0 12.2 0a6.1 6.1 0 1 0 -12.2 0zM1808.4 1081.5a6.1 6.1 0 1 0 12.2 0a6.1 6.1 0 1 0 -12.2 0z" fill="#000"/>
<line x1="1455.1" y1="930.0" x2="1455.1" y2="1309.0" stroke="#000" stroke-width="3.6" stroke-linecap="round"/>
<line x1="1438.6" y1="1292.0" x2="1993.0" y2="1292.0" stroke="#000" stroke-width="3.6" stroke-linecap="round"/>
<line x1="1438.6" y1="1172.5" x2="1455.1" y2="1172.5" stroke="#000" stroke-width="3.6" stroke-linecap="round"/>
<line x1="1438.6" y1="1053.0" x2="1455.1" y2="1053.0" stroke="#000" stroke-width="3.6" stroke-linecap="round"/>
<line x1="1438.6" y1="933.5" x2="1455.1" y2="933.5" stroke="#000" stroke-width="3.6" stroke-linecap="round"/>
<text x="1434.6" y="1301.1" font-size="25.5" font-weight="bold" font-style="normal" text-anchor="end" fill="#000">0</text>
<text x="1434.6" y="1181.6" font-size="25.5" font-weight="bold" font-style="normal" text-anchor="end" fill="#000">5</text>
<text x="1434.6" y="1062.1" font-size="25.5" font-weight="bold" font-style="normal" text-anchor="end" fill="#000">10</text>
<text x="1434.6" y="942.6" font-size="25.5" font-weight="bold" font-style="normal" text-anchor="end" fill="#000">15</text>
<line x1="1562.4" y1="1292.0" x2="1562.4" y2="1309.0" stroke="#000" stroke-width="3.6" stroke-linecap="round"/>
<line x1="1669.7" y1="1292.0" x2="1669.7" y2="1309.0" stroke="#000" stroke-width="3.6" stroke-linecap="round"/>
<line x1="1777.0" y1="1292.0" x2="1777.0" y2="1309.0" stroke="#000" stroke-width="3.6" stroke-linecap="round"/>
<line x1="1884.3" y1="1292.0" x2="1884.3" y2="1309.0" stroke="#000" stroke-width="3.6" stroke-linecap="round"/>
<line x1="1991.6" y1="1292.0" x2="1991.6" y2="1309.0" stroke="#000" stroke-width="3.6" stroke-linecap="round"/>
<text x="1455.1" y="1338.0" font-size="25.5" font-weight="bold" font-style="normal" text-anchor="middle" fill="#000">0</text>
<text x="1562.4" y="1338.0" font-size="25.5" font-weight="bold" font-style="normal" text-anchor="middle" fill="#000">2</text>
<text x="1669.7" y="1338.0" font-size="25.5" font-weight="bold" font-style="normal" text-anchor="middle" fill="#000">4</text>
<text x="1777.0" y="1338.0" font-size="25.5" font-weight="bold" font-style="normal" text-anchor="middle" fill="#000">6</text>
<text x="1884.3" y="1338.0" font-size="25.5" font-weight="bold" font-style="normal" text-anchor="middle" fill="#000">8</text>
<text x="1991.6" y="1338.0" font-size="25.5" font-weight="bold" font-style="normal" text-anchor="middle" fill="#000">10</text>
<text x="1385.9" y="1163.7" font-size="36.5" font-weight="bold" font-style="normal" text-anchor="start" fill="#000" transform="rotate(-90 1385.9 1163.7)" textLength="103.8" lengthAdjust="spacingAndGlyphs">ITGAX</text>
<text x="1689.8" y="1383.3" font-size="31.3" font-weight="bold" font-style="italic" text-anchor="start" fill="#000" textLength="72.5" lengthAdjust="spacingAndGlyphs">TLR8</text>
<text x="1482.7" y="979.8" font-size="30.6" font-weight="normal" font-style="normal" text-anchor="start" fill="#000" textLength="98.6" lengthAdjust="spacingAndGlyphs">r<tspan font-size="22.5" dy="-13.3">2</tspan><tspan dy="13.3">=0.60</tspan></text>
<text x="1481.8" y="1013.7" font-size="30.6" font-weight="normal" font-style="normal" text-anchor="start" fill="#000" textLength="123.0" lengthAdjust="spacingAndGlyphs"><tspan font-style="italic">p</tspan>&lt;0.0001</text>
</svg>
</body></html>
